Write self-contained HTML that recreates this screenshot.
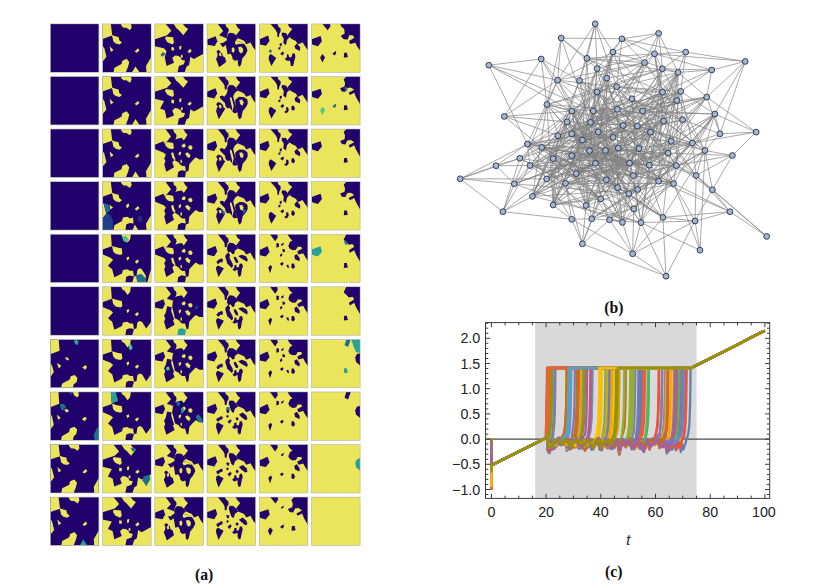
<!DOCTYPE html>
<html lang="en">
<head>
<meta charset="utf-8">
<title>Figure</title>
<style>
html,body{margin:0;padding:0;background:#fff;}
body{width:830px;height:588px;overflow:hidden;}
svg{display:block;}
</style>
</head>
<body>
<svg width="830" height="588" viewBox="0 0 830 588">
<rect width="830" height="588" fill="#fff"/>
<!-- panel a -->
<svg x="50.30" y="23.90" width="48.60" height="48.40" viewBox="0 0 100 100" preserveAspectRatio="none"><rect width="100" height="100" fill="#21016b"/></svg><rect x="50.30" y="23.90" width="48.60" height="48.40" fill="none" stroke="#a5a598" stroke-width="0.55"/>
<svg x="102.54" y="23.90" width="48.60" height="48.40" viewBox="0 0 100 100" preserveAspectRatio="none"><rect width="100" height="100" fill="#21016b"/><polygon fill="#eae55a" points="0,0 17,0 20,24 0,31"/><polygon fill="#eae55a" points="37.5,0 58.5,0 60,7 56.5,13 52,10 49,8 43,8 39.5,4.5"/><polygon fill="#eae55a" points="19,23 27,25.5 33,27 34.5,34 40,38.5 35,42.5 27,40.5 22,36 21,30"/><polygon fill="#eae55a" points="14.5,46 22.6,54 17,58"/><polygon fill="#eae55a" points="66,57 73,50.5 76,55 70.5,59.6"/><polygon fill="#eae55a" points="0,45 3.6,50.5 8,68 0,78"/><polygon fill="#eae55a" points="22.6,100 24.4,90.5 39,83 40.7,76 49.7,72 55,78.7 53,87 48,100"/><polygon fill="#eae55a" points="60.6,100 67.8,87.8 76,100"/><polygon fill="#eae55a" points="100,68.7 100,100 90.4,100 89.5,87"/></svg><rect x="102.54" y="23.90" width="48.60" height="48.40" fill="none" stroke="#a5a598" stroke-width="0.55"/>
<svg x="154.78" y="23.90" width="48.60" height="48.40" viewBox="0 0 100 100" preserveAspectRatio="none"><rect width="100" height="100" fill="#eae55a"/><polygon fill="#21016b" points="22.4,0 38.7,0 44.2,8.7 49.6,13.3 58.7,23.3 68.7,10.5 62.4,6 57.8,0 100,0 100,61.5 80.5,72.4 73.3,67.8 70.5,85.1 65.1,88.7 61.5,100 46.9,100 49.6,86.9 59.6,83.3 62.4,76 55.1,74.2 53.3,69.6 47.8,66 41.5,65.1 36,70.5 39.6,80.5 24.2,86.9 20.5,68.7 24.2,56 18.7,50.5 0,46 0,31.5 25.1,23.3 34.2,14.2"/><polygon fill="#eae55a" points="22.4,26 37.8,27.8 39.6,38.7 36,42.4 26,37.8 21.5,30.5"/><polygon fill="#eae55a" points="34.2,47.8 39.6,48.7 39.6,55.1 34.2,55.1"/><polygon fill="#eae55a" points="50.5,46 55.1,45.1 54.2,52.4 50.5,53.3"/><polygon fill="#eae55a" points="66.9,56.9 73.3,51.5 76,56 71.5,60.5"/><polygon fill="#eae55a" points="53.3,65.1 56.9,63.3 57.8,68.7 54.2,70.5"/><polygon fill="#1f6f8f" points="11.5,64.2 16.9,57.8 22.4,62.4 16,67.8"/></svg><rect x="154.78" y="23.90" width="48.60" height="48.40" fill="none" stroke="#a5a598" stroke-width="0.55"/>
<svg x="207.02" y="23.90" width="48.60" height="48.40" viewBox="0 0 100 100" preserveAspectRatio="none"><rect width="100" height="100" fill="#eae55a"/><polygon fill="#21016b" points="58.8,0 100,0 100,55.2 94.7,48.1 89.4,38.5 80.7,42 76.3,35 70.2,32.3 64,29.7 59.7,23.5 68.4,12.1 63.2,7.7"/><polygon fill="#21016b" points="22,0 37.8,0 39.5,6 43.9,9.5 44.8,14.8 42.2,20 40.4,27.1 44.8,28.8 43,31.4 36,27.9 31.7,26.2 24.7,23.5 33.4,14.8"/><polygon fill="#21016b" points="0.5,32.3 17.7,25.3 21.2,35.8 15.9,45.5 1,42.9"/><polygon fill="#21016b" points="46.5,18.3 54.4,19.2 59.7,23.5 64,29.7 58.8,34.1 68.4,36.7 76.3,41.1 81.5,49 83.3,55.2 78.9,64 72.8,71 70.2,83.3 67.5,88.5 64,85.9 63.2,74.5 57,76.2 52.7,72.7 51.8,67.5 48.3,61.3 42.2,63.1 40.4,51.7 38.7,43.7 32.5,48.1 28.2,42 26.4,40.2 32.5,39.4 40.4,34.1 41.3,28.8 42.2,21.8"/><polygon fill="#eae55a" points="64,48.1 70.2,47.3 74.5,51.7 73.7,58.7 69.3,61.3 65.8,56.9"/><polygon fill="#eae55a" points="50.9,49.9 55.3,48.1 57,53.4 55.3,59.6 50.9,57.8"/><polygon fill="#eae55a" points="58.8,34.6 68.4,36.7 76.8,41.6 67.5,40.8 59.7,43.2 57,39"/><polygon fill="#21016b" points="19.4,56.9 23.8,53.4 28.2,57.8 26.4,60.4 30.8,59.6 32.5,66.6 36.9,69.2 39.5,78.9 24.7,89.4 22,81.5 18.5,72.7 21.2,67.5 22,62.2"/><polygon fill="#eae55a" points="24.7,59.6 29,60.4 29.9,65.7 25.5,66.6"/></svg><rect x="207.02" y="23.90" width="48.60" height="48.40" fill="none" stroke="#a5a598" stroke-width="0.55"/>
<svg x="259.26" y="23.90" width="48.60" height="48.40" viewBox="0 0 100 100" preserveAspectRatio="none"><rect width="100" height="100" fill="#eae55a"/><polygon fill="#21016b" points="58.7,0 100,0 100,54.2 93.6,45.1 89,37.8 79.8,42.4 75.2,35.1 67.9,31.5 62.4,27.8 57.8,23.3 67.9,10.5 61.5,6"/><polygon fill="#21016b" points="22.9,0 37.6,0 39.4,6 44,9.6 44,15.1 41.3,20.5 40.4,26.9 37.6,26.9 36.7,17.8 33,11.5"/><polygon fill="#21016b" points="0.9,31.5 18.3,24.2 21.1,35.1 13.8,45.1 1.8,42.4"/><polygon fill="#21016b" points="46.8,17.8 55,18.7 57.8,23.3 62.4,27.8 56.9,33.3 55,44.2 49.5,39.6 50.5,30.5 45.9,22.4"/><polygon fill="#21016b" points="42.2,40.5 46.8,39.6 45.9,45.1 42.2,46.9"/><polygon fill="#21016b" points="39.4,48.7 44,47.8 43.1,52.4 39.4,53.3"/><polygon fill="#21016b" points="72.5,46 77.1,40.5 84.4,48.7 83.5,56 74.3,51.5"/><polygon fill="#21016b" points="43.1,61.5 48.6,56.9 51.4,60.5 47.7,65.1"/><polygon fill="#21016b" points="56.9,63.3 59.6,62.4 61.5,68.7 66.1,68.7 68.8,60.5 73.4,61.5 74.3,68.7 72.5,74.2 69.7,86.9 65.1,86.9 63.3,76 56.9,76 52.3,72.4 56.9,68.7"/><polygon fill="#21016b" points="20.2,66 23.9,62.4 34.9,70.5 24.8,86.9 19.3,72.4"/><polygon fill="#1f6f8f" points="19.3,56 22.9,52.4 26.6,56 22.9,60.5"/></svg><rect x="259.26" y="23.90" width="48.60" height="48.40" fill="none" stroke="#a5a598" stroke-width="0.55"/>
<svg x="311.50" y="23.90" width="48.60" height="48.40" viewBox="0 0 100 100" preserveAspectRatio="none"><rect width="100" height="100" fill="#eae55a"/><polygon fill="#21016b" points="59.1,0 100,0 100,55.1 93.9,46.9 90.3,38.7 79.3,41.5 77.4,35.1 88.4,28.7 84.8,23.3 77.4,23.3 74.7,32.4 66.4,31.5 60.9,26 61.8,23.3 68.3,19.6 67.3,10.5 61.8,6"/><polygon fill="#21016b" points="22.4,0 38,0 38.9,5.1 33.4,13.3"/><polygon fill="#21016b" points="0.4,31.5 18.7,25.1 21.5,36 13.2,46 1.3,42.4"/><polygon fill="#21016b" points="42.6,61.5 49.9,56 50.8,60.5 48.1,65.1"/><polygon fill="#21016b" points="67.3,59.6 72.8,59.6 74.7,68.7 66.4,69.6"/><polygon fill="#21016b" points="17.8,69.6 22.4,62.4 27.9,68.7 22.4,79.6"/></svg><rect x="311.50" y="23.90" width="48.60" height="48.40" fill="none" stroke="#a5a598" stroke-width="0.55"/>
<svg x="50.30" y="76.48" width="48.60" height="48.40" viewBox="0 0 100 100" preserveAspectRatio="none"><rect width="100" height="100" fill="#21016b"/></svg><rect x="50.30" y="76.48" width="48.60" height="48.40" fill="none" stroke="#a5a598" stroke-width="0.55"/>
<svg x="102.54" y="76.48" width="48.60" height="48.40" viewBox="0 0 100 100" preserveAspectRatio="none"><rect width="100" height="100" fill="#21016b"/><polygon fill="#eae55a" points="0,0 17,0 20,24 0,31"/><polygon fill="#eae55a" points="37.5,0 58.5,0 60,7 56.5,13 52,10 49,8 43,8 39.5,4.5"/><polygon fill="#eae55a" points="19,23 27,25.5 33,27 34.5,34 40,38.5 35,42.5 27,40.5 22,36 21,30"/><polygon fill="#eae55a" points="14.5,46 22.6,54 17,58"/><polygon fill="#eae55a" points="66,57 73,50.5 76,55 70.5,59.6"/><polygon fill="#eae55a" points="0,45 3.6,50.5 8,68 0,78"/><polygon fill="#eae55a" points="22.6,100 24.4,90.5 39,83 40.7,76 49.7,72 55,78.7 53,87 48,100"/><polygon fill="#eae55a" points="60.6,100 67.8,87.8 76,100"/><polygon fill="#eae55a" points="100,68.7 100,100 90.4,100 89.5,87"/></svg><rect x="102.54" y="76.48" width="48.60" height="48.40" fill="none" stroke="#a5a598" stroke-width="0.55"/>
<svg x="154.78" y="76.48" width="48.60" height="48.40" viewBox="0 0 100 100" preserveAspectRatio="none"><rect width="100" height="100" fill="#eae55a"/><polygon fill="#21016b" points="22.4,0 38.7,0 44.2,8.7 49.6,13.3 58.7,23.3 68.7,10.5 62.4,6 57.8,0 100,0 100,61.5 80.5,72.4 73.3,67.8 70.5,85.1 65.1,88.7 61.5,100 46.9,100 49.6,86.9 59.6,83.3 62.4,76 55.1,74.2 53.3,69.6 47.8,66 41.5,65.1 36,70.5 39.6,80.5 24.2,86.9 20.5,68.7 24.2,56 18.7,50.5 0,46 0,31.5 25.1,23.3 34.2,14.2"/><polygon fill="#21016b" points="20,49 27,56 23,71 11,66"/><polygon fill="#eae55a" points="22.4,26 37.8,27.8 39.6,38.7 36,42.4 26,37.8 21.5,30.5"/><polygon fill="#eae55a" points="34.2,47.8 39.6,48.7 39.6,55.1 34.2,55.1"/><polygon fill="#eae55a" points="50.5,46 55.1,45.1 54.2,52.4 50.5,53.3"/><polygon fill="#eae55a" points="66.9,56.9 73.3,51.5 76,56 71.5,60.5"/><polygon fill="#eae55a" points="53.3,65.1 56.9,63.3 57.8,68.7 54.2,70.5"/></svg><rect x="154.78" y="76.48" width="48.60" height="48.40" fill="none" stroke="#a5a598" stroke-width="0.55"/>
<svg x="207.02" y="76.48" width="48.60" height="48.40" viewBox="0 0 100 100" preserveAspectRatio="none"><rect width="100" height="100" fill="#eae55a"/><polygon fill="#21016b" points="58.8,0 100,0 100,55.2 94.7,48.1 89.4,38.5 80.7,42 76.3,35 70.2,32.3 64,29.7 59.7,23.5 68.4,12.1 63.2,7.7"/><polygon fill="#21016b" points="21.9,0 36.7,0 39.4,5.1 43.7,8.6 44.6,14.8 41.1,20 40.2,27.1 36.7,27.1 35.9,18.3 33.2,13.9"/><polygon fill="#21016b" points="0,31.4 17.5,24.4 21,35 14.9,45.5 0,42"/><polygon fill="#21016b" points="46.4,17.4 54.2,18.3 59.5,23.5 63.9,28.8 57.7,33.2 55.1,38.5 52.5,42.9 43.7,42.9 39.4,37.6 42,31.4 42,22.7"/><polygon fill="#21016b" points="26.4,40.7 31.3,39.3 35.5,42.1 39.7,36.5 46.7,37.9 47.4,47.7 50.9,61.8 52.3,71.6 46.7,64.6 42.5,66 38.3,61.8 36.9,54.8 32.7,50.5 27.1,44.9"/><polygon fill="#21016b" points="46.7,37.9 53.7,40.7 56.5,52 60,61.8 58.6,67.4 62.8,74.4 56.5,75.8 52.3,73 53.7,66 55.1,60.4 50.9,44.9"/><polygon fill="#21016b" points="58.6,47.7 66.3,42.1 76.1,42.8 83.1,47.7 83.8,56.2 80.3,63.2 73.3,71.6 70.5,85.7 66.3,88.5 63.5,81.5 62.8,74.4 58.6,67.4 60,61.8 57.9,53.4"/><polygon fill="#eae55a" points="66.3,49.1 71.9,47.7 75.4,53.4 73.3,60.4 68.4,57.6"/><polygon fill="#21016b" points="18.7,57.6 22.9,52.7 28.5,54.8 32.7,59 34.1,64.6 37.6,66 24.3,88.5 18.7,71.6 20.1,66 22.2,61.8"/><polygon fill="#eae55a" points="24.3,59 29.2,58.3 29.9,64.6 25.7,66"/></svg><rect x="207.02" y="76.48" width="48.60" height="48.40" fill="none" stroke="#a5a598" stroke-width="0.55"/>
<svg x="259.26" y="76.48" width="48.60" height="48.40" viewBox="0 0 100 100" preserveAspectRatio="none"><rect width="100" height="100" fill="#eae55a"/><polygon fill="#21016b" points="58.7,0 100,0 100,54.2 93.6,45.1 89,37.8 79.8,42.4 75.2,35.1 67.9,31.5 62.4,27.8 57.8,23.3 67.9,10.5 61.5,6"/><polygon fill="#21016b" points="22.9,0 37.6,0 39.4,6 44,9.6 44,15.1 41.3,20.5 40.4,26.9 37.6,26.9 36.7,17.8 33,11.5"/><polygon fill="#21016b" points="0.9,31.5 18.3,24.2 21.1,35.1 13.8,45.1 1.8,42.4"/><polygon fill="#21016b" points="46.8,17.8 55,18.7 57.8,23.3 62.4,27.8 56.9,33.3 55,44.2 49.5,39.6 50.5,30.5 45.9,22.4"/><polygon fill="#21016b" points="42.2,40.5 46.8,39.6 45.9,45.1 42.2,46.9"/><polygon fill="#21016b" points="39.4,48.7 44,47.8 43.1,52.4 39.4,53.3"/><polygon fill="#21016b" points="72.5,46 77.1,40.5 84.4,48.7 83.5,56 74.3,51.5"/><polygon fill="#21016b" points="43.1,61.5 48.6,56.9 51.4,60.5 47.7,65.1"/><polygon fill="#21016b" points="55.4,63.1 59.8,64 60.6,71 56.3,76.2 51,73.6 55.4,70.1"/><polygon fill="#21016b" points="66.7,60.4 71.1,60.4 73.7,66.6 70.2,71 65.9,68.3"/><polygon fill="#21016b" points="20.2,66 23.9,62.4 34.9,70.5 24.8,86.9 19.3,72.4"/></svg><rect x="259.26" y="76.48" width="48.60" height="48.40" fill="none" stroke="#a5a598" stroke-width="0.55"/>
<svg x="311.50" y="76.48" width="48.60" height="48.40" viewBox="0 0 100 100" preserveAspectRatio="none"><rect width="100" height="100" fill="#eae55a"/><polygon fill="#21016b" points="71.7,0 100,0 100,57.4 91.7,42.7 88,33.6 79,38.4 76.4,33.6 88,27.4 80.8,22.7 73.5,23.7 69.9,31.8 62.6,31 59,24.5 68,20.8 69.1,13.5 66.2,6.2"/><polygon fill="#21016b" points="0.4,31.5 18.7,25.1 21.5,36 13.2,46 1.3,42.4"/><polygon fill="#1f6f8f" points="42.6,61.5 49.9,56 50.8,60.5 48.1,65.1"/><polygon fill="#21016b" points="67.3,59.6 72.8,59.6 74.7,68.7 66.4,69.6"/><polygon fill="#4fc38a" points="17.8,69.6 22.4,62.4 27.9,68.7 22.4,79.6"/><polygon fill="#1f6f8f" points="68,22.5 73.5,22 74,29 69,30"/></svg><rect x="311.50" y="76.48" width="48.60" height="48.40" fill="none" stroke="#a5a598" stroke-width="0.55"/>
<svg x="50.30" y="129.06" width="48.60" height="48.40" viewBox="0 0 100 100" preserveAspectRatio="none"><rect width="100" height="100" fill="#21016b"/></svg><rect x="50.30" y="129.06" width="48.60" height="48.40" fill="none" stroke="#a5a598" stroke-width="0.55"/>
<svg x="102.54" y="129.06" width="48.60" height="48.40" viewBox="0 0 100 100" preserveAspectRatio="none"><rect width="100" height="100" fill="#21016b"/><polygon fill="#eae55a" points="0,0 17,0 20,24 0,31"/><polygon fill="#eae55a" points="37.5,0 58.5,0 60,7 56.5,13 52,10 49,8 43,8 39.5,4.5"/><polygon fill="#eae55a" points="19,23 27,25.5 33,27 34.5,34 40,38.5 35,42.5 27,40.5 22,36 21,30"/><polygon fill="#eae55a" points="14.5,46 22.6,54 17,58"/><polygon fill="#eae55a" points="66,57 73,50.5 76,55 70.5,59.6"/><polygon fill="#eae55a" points="0,45 3.6,50.5 8,68 0,78"/><polygon fill="#eae55a" points="22.6,100 24.4,90.5 39,83 40.7,76 49.7,72 55,78.7 53,87 48,100"/><polygon fill="#eae55a" points="60.6,100 67.8,87.8 76,100"/><polygon fill="#eae55a" points="100,68.7 100,100 90.4,100 89.5,87"/></svg><rect x="102.54" y="129.06" width="48.60" height="48.40" fill="none" stroke="#a5a598" stroke-width="0.55"/>
<svg x="154.78" y="129.06" width="48.60" height="48.40" viewBox="0 0 100 100" preserveAspectRatio="none"><rect width="100" height="100" fill="#eae55a"/><polygon fill="#21016b" points="22,0 37.8,0 39.5,6.7 43.9,10.2 44.8,15.5 42.2,21.6 46.5,19.9 55.3,18.1 59.7,23.4 67.5,11.9 63.2,7.6 58.8,0 100,0 100,62 92,62.9 84.2,58.5 77.2,65.5 71,72.6 69.3,86.6 64,88.4 62.3,100 46.5,100 48.3,88.4 55.3,84.9 64,86.6 62.3,76.1 56.2,76.1 51.8,72.6 49.2,69 40.4,63.8 36,69 39.5,78.7 23.8,88.4 19.4,72.6 22,66.4 19.4,60.3 22.9,53.2 18.5,48.8 1,41.8 0,32.2 17.7,25.1 20.3,30.4 24.7,26 33.4,15.5"/><polygon fill="#eae55a" points="21.2,28.6 26.4,26.9 37.8,29 39.5,39.2 36,41.8 27.3,39.5 22,33.9"/><polygon fill="#eae55a" points="33.4,49.7 37.8,48 40.4,56.7 43,62.9 40.4,63.8 36,59.4"/><polygon fill="#eae55a" points="49.2,48.8 53.5,46.2 54.4,49.7 51.8,55 49.2,53.2"/><polygon fill="#eae55a" points="55.3,33.9 60.5,29.5 64,33.9 61.4,38.3 56.2,37.4"/><polygon fill="#eae55a" points="68.4,35.7 74.5,33 78,38.3 75.4,42.7 70.2,41.8"/><polygon fill="#eae55a" points="62.3,50.6 67.5,48 73.7,54.1 71,60.3 65.8,56.7"/><polygon fill="#eae55a" points="52.7,64.7 55.3,62.9 56.2,69 53.5,70.8"/></svg><rect x="154.78" y="129.06" width="48.60" height="48.40" fill="none" stroke="#a5a598" stroke-width="0.55"/>
<svg x="207.02" y="129.06" width="48.60" height="48.40" viewBox="0 0 100 100" preserveAspectRatio="none"><rect width="100" height="100" fill="#eae55a"/><polygon fill="#21016b" points="58.8,0 100,0 100,55.2 94.7,48.1 89.4,38.5 80.7,42 76.3,35 70.2,32.3 64,29.7 59.7,23.5 68.4,12.1 63.2,7.7"/><polygon fill="#21016b" points="21.9,0 36.7,0 39.4,5.1 43.7,8.6 44.6,14.8 41.1,20 40.2,27.1 36.7,27.1 35.9,18.3 33.2,13.9"/><polygon fill="#21016b" points="0,31.4 17.5,24.4 21,35 14.9,45.5 0,42"/><polygon fill="#21016b" points="46.4,17.4 54.2,18.3 59.5,23.5 63.9,28.8 57.7,33.2 55.1,38.5 52.5,42.9 43.7,42.9 39.4,37.6 42,31.4 42,22.7"/><polygon fill="#21016b" points="26.4,40.7 31.3,39.3 35.5,42.1 39.7,36.5 46.7,37.9 47.4,47.7 50.9,61.8 52.3,71.6 46.7,64.6 42.5,66 38.3,61.8 36.9,54.8 32.7,50.5 27.1,44.9"/><polygon fill="#21016b" points="46.7,37.9 53.7,40.7 56.5,52 60,61.8 58.6,67.4 62.8,74.4 56.5,75.8 52.3,73 53.7,66 55.1,60.4 50.9,44.9"/><polygon fill="#21016b" points="58.6,47.7 66.3,42.1 76.1,42.8 83.1,47.7 83.8,56.2 80.3,63.2 73.3,71.6 70.5,85.7 66.3,88.5 63.5,81.5 62.8,74.4 58.6,67.4 60,61.8 57.9,53.4"/><polygon fill="#eae55a" points="66.3,49.1 71.9,47.7 75.4,53.4 73.3,60.4 68.4,57.6"/><polygon fill="#21016b" points="18.7,57.6 22.9,52.7 28.5,54.8 32.7,59 34.1,64.6 37.6,66 24.3,88.5 18.7,71.6 20.1,66 22.2,61.8"/><polygon fill="#eae55a" points="24.3,59 29.2,58.3 29.9,64.6 25.7,66"/></svg><rect x="207.02" y="129.06" width="48.60" height="48.40" fill="none" stroke="#a5a598" stroke-width="0.55"/>
<svg x="259.26" y="129.06" width="48.60" height="48.40" viewBox="0 0 100 100" preserveAspectRatio="none"><rect width="100" height="100" fill="#eae55a"/><polygon fill="#21016b" points="58.7,0 100,0 100,54.2 93.6,45.1 89,37.8 79.8,42.4 75.2,35.1 67.9,31.5 62.4,27.8 57.8,23.3 67.9,10.5 61.5,6"/><polygon fill="#21016b" points="22.9,0 37.6,0 39.4,6 44,9.6 44,15.1 41.3,20.5 40.4,26.9 37.6,26.9 36.7,17.8 33,11.5"/><polygon fill="#21016b" points="0.9,31.5 18.3,24.2 21.1,35.1 13.8,45.1 1.8,42.4"/><polygon fill="#21016b" points="46.8,17.8 55,18.7 57.8,23.3 62.4,27.8 56.9,33.3 55,44.2 49.5,39.6 50.5,30.5 45.9,22.4"/><polygon fill="#21016b" points="42.2,40.5 46.8,39.6 45.9,45.1 42.2,46.9"/><polygon fill="#21016b" points="39.4,48.7 44,47.8 43.1,52.4 39.4,53.3"/><polygon fill="#21016b" points="72.5,46 77.1,40.5 84.4,48.7 83.5,56 74.3,51.5"/><polygon fill="#21016b" points="43.1,61.5 48.6,56.9 51.4,60.5 47.7,65.1"/><polygon fill="#21016b" points="55.4,63.1 59.8,64 60.6,71 56.3,76.2 51,73.6 55.4,70.1"/><polygon fill="#21016b" points="66.7,60.4 71.1,60.4 73.7,66.6 70.2,71 65.9,68.3"/><polygon fill="#21016b" points="20.2,66 23.9,62.4 34.9,70.5 24.8,86.9 19.3,72.4"/></svg><rect x="259.26" y="129.06" width="48.60" height="48.40" fill="none" stroke="#a5a598" stroke-width="0.55"/>
<svg x="311.50" y="129.06" width="48.60" height="48.40" viewBox="0 0 100 100" preserveAspectRatio="none"><rect width="100" height="100" fill="#eae55a"/><polygon fill="#21016b" points="71.7,0 100,0 100,57.4 91.7,42.7 88,33.6 79,38.4 76.4,33.6 88,27.4 80.8,22.7 73.5,23.7 69.9,31.8 62.6,31 59,24.5 68,20.8 69.1,13.5 66.2,6.2"/><polygon fill="#21016b" points="0.4,31.5 18.7,25.1 21.5,36 13.2,46 1.3,42.4"/><polygon fill="#21016b" points="67.3,59.6 72.8,59.6 74.7,68.7 66.4,69.6"/></svg><rect x="311.50" y="129.06" width="48.60" height="48.40" fill="none" stroke="#a5a598" stroke-width="0.55"/>
<svg x="50.30" y="181.64" width="48.60" height="48.40" viewBox="0 0 100 100" preserveAspectRatio="none"><rect width="100" height="100" fill="#21016b"/></svg><rect x="50.30" y="181.64" width="48.60" height="48.40" fill="none" stroke="#a5a598" stroke-width="0.55"/>
<svg x="102.54" y="181.64" width="48.60" height="48.40" viewBox="0 0 100 100" preserveAspectRatio="none"><rect width="100" height="100" fill="#21016b"/><polygon fill="#eae55a" points="0,0 17,0 20,24 0,31"/><polygon fill="#eae55a" points="37.5,0 58.5,0 60,7 56.5,13 52,10 49,8 43,8 39.5,4.5"/><polygon fill="#eae55a" points="19,23 27,25.5 33,27 34.5,34 40,38.5 35,42.5 27,40.5 22,36 21,30"/><polygon fill="#eae55a" points="66,57 73,50.5 76,55 70.5,59.6"/><polygon fill="#eae55a" points="48.8,48 54.1,45.3 54.9,49.7 51.4,55 48.8,52.4"/><polygon fill="#eae55a" points="22.6,100 24.3,90.1 40.1,81.3 41.8,74.3 50.6,72.6 56.7,76.1 62.8,74.3 63.7,86.6 55.8,85.7 48.8,88.4 47.1,100"/><polygon fill="#eae55a" points="61.9,100 66.3,88.4 73.3,100"/><polygon fill="#eae55a" points="100,68.7 100,100 90.4,100 89.5,87"/><polygon fill="#eae55a" points="0,46.2 2.4,45.3 5.1,56.7 7.7,66.4 0,76.1"/><polygon fill="#eae55a" points="13.8,47.1 21.7,53.2 16.4,57.6"/><polygon fill="#1f6f8f" points="2.4,45.3 11.2,46.2 16.4,58.5 8.6,65.5 5.1,56.7"/><polygon fill="#1f3f8a" points="0,76.1 8.6,65.5 16.4,69 21.7,81.3 21.7,100 0,100"/><polygon fill="#23287a" points="71.6,71.7 81.2,70.8 82.9,81.3 72.4,84.9"/></svg><rect x="102.54" y="181.64" width="48.60" height="48.40" fill="none" stroke="#a5a598" stroke-width="0.55"/>
<svg x="154.78" y="181.64" width="48.60" height="48.40" viewBox="0 0 100 100" preserveAspectRatio="none"><rect width="100" height="100" fill="#eae55a"/><polygon fill="#21016b" points="22,0 37.8,0 39.5,6.7 43.9,10.2 44.8,15.5 42.2,21.6 46.5,19.9 55.3,18.1 59.7,23.4 67.5,11.9 63.2,7.6 58.8,0 100,0 100,62 92,62.9 84.2,58.5 77.2,65.5 71,72.6 69.3,86.6 64,88.4 62.3,100 46.5,100 48.3,88.4 55.3,84.9 64,86.6 62.3,76.1 56.2,76.1 51.8,72.6 49.2,69 40.4,63.8 36,69 39.5,78.7 23.8,88.4 19.4,72.6 22,66.4 19.4,60.3 22.9,53.2 18.5,48.8 1,41.8 0,32.2 17.7,25.1 20.3,30.4 24.7,26 33.4,15.5"/><polygon fill="#eae55a" points="21.2,28.6 26.4,26.9 37.8,29 39.5,39.2 36,41.8 27.3,39.5 22,33.9"/><polygon fill="#eae55a" points="33.4,49.7 37.8,48 40.4,56.7 43,62.9 40.4,63.8 36,59.4"/><polygon fill="#eae55a" points="49.2,48.8 53.5,46.2 54.4,49.7 51.8,55 49.2,53.2"/><polygon fill="#eae55a" points="55.3,33.9 60.5,29.5 64,33.9 61.4,38.3 56.2,37.4"/><polygon fill="#eae55a" points="68.4,35.7 74.5,33 78,38.3 75.4,42.7 70.2,41.8"/><polygon fill="#eae55a" points="62.3,50.6 67.5,48 73.7,54.1 71,60.3 65.8,56.7"/><polygon fill="#eae55a" points="52.7,64.7 55.3,62.9 56.2,69 53.5,70.8"/></svg><rect x="154.78" y="181.64" width="48.60" height="48.40" fill="none" stroke="#a5a598" stroke-width="0.55"/>
<svg x="207.02" y="181.64" width="48.60" height="48.40" viewBox="0 0 100 100" preserveAspectRatio="none"><rect width="100" height="100" fill="#eae55a"/><polygon fill="#21016b" points="58.8,0 100,0 100,55.2 94.7,48.1 89.4,38.5 80.7,42 76.3,35 70.2,32.3 64,29.7 59.7,23.5 68.4,12.1 63.2,7.7"/><polygon fill="#21016b" points="21.9,0 36.7,0 39.4,5.1 43.7,8.6 44.6,14.8 41.1,20 40.2,27.1 36.7,27.1 35.9,18.3 33.2,13.9"/><polygon fill="#21016b" points="0,31.4 17.5,24.4 21,35 14.9,45.5 0,42"/><polygon fill="#21016b" points="46.4,17.4 54.2,18.3 59.5,23.5 63.9,28.8 57.7,33.2 55.1,38.5 52.5,42.9 43.7,42.9 39.4,37.6 42,31.4 42,22.7"/><polygon fill="#21016b" points="26.4,40.7 31.3,39.3 35.5,42.1 39.7,36.5 46.7,37.9 47.4,47.7 50.9,61.8 52.3,71.6 46.7,64.6 42.5,66 38.3,61.8 36.9,54.8 32.7,50.5 27.1,44.9"/><polygon fill="#21016b" points="46.7,37.9 53.7,40.7 56.5,52 60,61.8 58.6,67.4 62.8,74.4 56.5,75.8 52.3,73 53.7,66 55.1,60.4 50.9,44.9"/><polygon fill="#21016b" points="58.6,47.7 66.3,42.1 76.1,42.8 83.1,47.7 83.8,56.2 80.3,63.2 73.3,71.6 70.5,85.7 66.3,88.5 63.5,81.5 62.8,74.4 58.6,67.4 60,61.8 57.9,53.4"/><polygon fill="#eae55a" points="66.3,49.1 71.9,47.7 75.4,53.4 73.3,60.4 68.4,57.6"/><polygon fill="#21016b" points="18.7,57.6 22.9,52.7 28.5,54.8 32.7,59 34.1,64.6 37.6,66 24.3,88.5 18.7,71.6 20.1,66 22.2,61.8"/><polygon fill="#eae55a" points="24.3,59 29.2,58.3 29.9,64.6 25.7,66"/><polygon fill="#1f6f8f" points="30.6,59.4 35,60.3 37.6,65.5 33.2,68.2"/><polygon fill="#1f6f8f" points="75.2,56.7 80.5,58.5 75.2,67.3 73.5,62"/></svg><rect x="207.02" y="181.64" width="48.60" height="48.40" fill="none" stroke="#a5a598" stroke-width="0.55"/>
<svg x="259.26" y="181.64" width="48.60" height="48.40" viewBox="0 0 100 100" preserveAspectRatio="none"><rect width="100" height="100" fill="#eae55a"/><polygon fill="#21016b" points="58.7,0 100,0 100,54.2 93.6,45.1 89,37.8 79.8,42.4 75.2,35.1 67.9,31.5 62.4,27.8 57.8,23.3 67.9,10.5 61.5,6"/><polygon fill="#21016b" points="22.9,0 37.6,0 39.4,6 44,9.6 44,15.1 41.3,20.5 40.4,26.9 37.6,26.9 36.7,17.8 33,11.5"/><polygon fill="#21016b" points="0.9,31.5 18.3,24.2 21.1,35.1 13.8,45.1 1.8,42.4"/><polygon fill="#21016b" points="46.8,17.8 55,18.7 57.8,23.3 62.4,27.8 56.9,33.3 55,44.2 49.5,39.6 50.5,30.5 45.9,22.4"/><polygon fill="#21016b" points="42.2,40.5 46.8,39.6 45.9,45.1 42.2,46.9"/><polygon fill="#21016b" points="39.4,48.7 44,47.8 43.1,52.4 39.4,53.3"/><polygon fill="#21016b" points="72.5,46 77.1,40.5 84.4,48.7 83.5,56 74.3,51.5"/><polygon fill="#21016b" points="43.1,61.5 48.6,56.9 51.4,60.5 47.7,65.1"/><polygon fill="#21016b" points="55.4,63.1 59.8,64 60.6,71 56.3,76.2 51,73.6 55.4,70.1"/><polygon fill="#21016b" points="66.7,60.4 71.1,60.4 73.7,66.6 70.2,71 65.9,68.3"/><polygon fill="#21016b" points="20.2,66 23.9,62.4 34.9,70.5 24.8,86.9 19.3,72.4"/></svg><rect x="259.26" y="181.64" width="48.60" height="48.40" fill="none" stroke="#a5a598" stroke-width="0.55"/>
<svg x="311.50" y="181.64" width="48.60" height="48.40" viewBox="0 0 100 100" preserveAspectRatio="none"><rect width="100" height="100" fill="#eae55a"/><polygon fill="#21016b" points="71.7,0 100,0 100,57.4 91.7,42.7 88,33.6 79,38.4 76.4,33.6 88,27.4 80.8,22.7 73.5,23.7 69.9,31.8 62.6,31 59,24.5 68,20.8 69.1,13.5 66.2,6.2"/><polygon fill="#21016b" points="0.4,31.5 18.7,25.1 21.5,36 13.2,46 1.3,42.4"/><polygon fill="#21016b" points="67.3,59.6 72.8,59.6 74.7,68.7 66.4,69.6"/></svg><rect x="311.50" y="181.64" width="48.60" height="48.40" fill="none" stroke="#a5a598" stroke-width="0.55"/>
<svg x="50.30" y="234.22" width="48.60" height="48.40" viewBox="0 0 100 100" preserveAspectRatio="none"><rect width="100" height="100" fill="#21016b"/></svg><rect x="50.30" y="234.22" width="48.60" height="48.40" fill="none" stroke="#a5a598" stroke-width="0.55"/>
<svg x="102.54" y="234.22" width="48.60" height="48.40" viewBox="0 0 100 100" preserveAspectRatio="none"><rect width="100" height="100" fill="#eae55a"/><polygon fill="#21016b" points="17.3,0 38.3,0 40.9,5.4 45.3,8.1 51.4,16.9 56.7,10.7 58.4,0 100,0 100,72.2 89.9,86.3 81.2,72.2 75.9,70.5 71.6,74 69.8,86.3 64.6,87.1 62.8,75.7 56.7,75.7 50.6,72.2 41.8,74 40.1,81 24.3,88.9 19.9,72.2 11.2,65.2 21.7,52.9 16.4,48.5 0,41.5 0,31.8 19.1,24.8"/><polygon fill="#21016b" points="81,72 100,72 96,85 92,100 88,100 89.5,86"/><polygon fill="#eae55a" points="19.6,24.4 32.2,27.9 39.5,29.2 40.9,40.2 36.6,42.7 26.6,40.6 21.7,35"/><polygon fill="#eae55a" points="48.8,48.5 54.1,45.9 54.9,50.2 51.4,54.6"/><polygon fill="#eae55a" points="66.3,57.3 71.6,52 75.1,55.5 70.7,60.8"/><polygon fill="#21016b" points="48.8,88 55.8,85.4 64.6,87.1 61.1,100 47.1,100"/><polygon fill="#4fc38a" points="40,5 48,3 54,10 50,17 43,14"/><polygon fill="#1f6f8f" points="68,84 80,82 90,92 86,100 72,100"/></svg><rect x="102.54" y="234.22" width="48.60" height="48.40" fill="none" stroke="#a5a598" stroke-width="0.55"/>
<svg x="154.78" y="234.22" width="48.60" height="48.40" viewBox="0 0 100 100" preserveAspectRatio="none"><rect width="100" height="100" fill="#eae55a"/><polygon fill="#21016b" points="22,0 37.8,0 39.5,6.7 43.9,10.2 44.8,15.5 42.2,21.6 46.5,19.9 55.3,18.1 59.7,23.4 67.5,11.9 63.2,7.6 58.8,0 100,0 100,62 92,62.9 84.2,58.5 77.2,65.5 71,72.6 69.3,86.6 64,88.4 62.3,100 46.5,100 48.3,88.4 55.3,84.9 64,86.6 62.3,76.1 56.2,76.1 51.8,72.6 49.2,69 40.4,63.8 36,69 39.5,78.7 23.8,88.4 19.4,72.6 22,66.4 19.4,60.3 22.9,53.2 18.5,48.8 1,41.8 0,32.2 17.7,25.1 20.3,30.4 24.7,26 33.4,15.5"/><polygon fill="#eae55a" points="21.2,28.6 26.4,26.9 37.8,29 39.5,39.2 36,41.8 27.3,39.5 22,33.9"/><polygon fill="#eae55a" points="33.4,49.7 37.8,48 40.4,56.7 43,62.9 40.4,63.8 36,59.4"/><polygon fill="#eae55a" points="49.2,48.8 53.5,46.2 54.4,49.7 51.8,55 49.2,53.2"/><polygon fill="#eae55a" points="55.3,33.9 60.5,29.5 64,33.9 61.4,38.3 56.2,37.4"/><polygon fill="#eae55a" points="68.4,35.7 74.5,33 78,38.3 75.4,42.7 70.2,41.8"/><polygon fill="#eae55a" points="62.3,50.6 67.5,48 73.7,54.1 71,60.3 65.8,56.7"/><polygon fill="#eae55a" points="52.7,64.7 55.3,62.9 56.2,69 53.5,70.8"/></svg><rect x="154.78" y="234.22" width="48.60" height="48.40" fill="none" stroke="#a5a598" stroke-width="0.55"/>
<svg x="207.02" y="234.22" width="48.60" height="48.40" viewBox="0 0 100 100" preserveAspectRatio="none"><rect width="100" height="100" fill="#eae55a"/><polygon fill="#21016b" points="58.8,0 100,0 100,55.2 94.7,48.1 89.4,38.5 80.7,42 76.3,35 70.2,32.3 64,29.7 59.7,23.5 68.4,12.1 63.2,7.7"/><polygon fill="#21016b" points="21.9,0 36.7,0 39.4,5.1 43.7,8.6 44.6,14.8 41.1,20 40.2,27.1 36.7,27.1 35.9,18.3 33.2,13.9"/><polygon fill="#21016b" points="0,31.4 17.5,24.4 21,35 14.9,45.5 0,42"/><polygon fill="#21016b" points="46.4,17.7 54.2,18.6 59.5,23 63.9,29.2 57.7,33.6 56,40.6 52.5,41.5 48.1,36.2 43.7,37.9 41.1,31.8 42,23"/><polygon fill="#21016b" points="38.3,42.9 43.9,37.3 47.4,42.9 46,48.5 52.3,59.8 53.7,65.4 50.9,69.6 45.3,64 41.8,61.2 39,51.3 37.6,47.1"/><polygon fill="#21016b" points="55.1,46.4 59.3,47.1 64.2,55.6 62.8,59.8 59.3,58.4 55.8,51.3"/><polygon fill="#21016b" points="64.2,45 71.9,42.2 80.3,45.7 83.8,52 82.4,57 76.1,53.4 69.1,49.2"/><polygon fill="#21016b" points="67,61.2 71.9,60.5 74,66.8 71.9,71 69.8,85.1 65.6,88.6 63.5,82.3 62.8,73.1 56.5,76.6 52.3,73.1 55.8,69.6 56.5,64 60,63.3 61.4,68.9 65.6,67.5"/><polygon fill="#21016b" points="19.4,57 23.6,52.7 29.9,49.9 32.7,52 32,57.7 27.1,57.7 24.3,61.2 20.8,60.5"/><polygon fill="#21016b" points="18.7,68.2 22.2,64.7 34.8,70.3 23.6,88.6 18.7,72.4"/></svg><rect x="207.02" y="234.22" width="48.60" height="48.40" fill="none" stroke="#a5a598" stroke-width="0.55"/>
<svg x="259.26" y="234.22" width="48.60" height="48.40" viewBox="0 0 100 100" preserveAspectRatio="none"><rect width="100" height="100" fill="#eae55a"/><polygon fill="#21016b" points="58,0 100,0 100,55 94.7,47.1 90.4,39.2 80.7,41.8 78.1,35.7 88.6,29.5 86,26 79,26 75.5,32.2 68.5,33 62.4,29.5 59.8,24.2 63.3,15.5 68.5,12.8 63.3,8.4"/><polygon fill="#21016b" points="22.1,0 37,0 37.9,6.7 32.6,14.6"/><polygon fill="#21016b" points="0.1,33 16.9,25.1 21.3,36.5 13.4,46.2 1.1,43.6"/><polygon fill="#21016b" points="35.3,18.1 40.5,19 40.5,26 35.3,27.8"/><polygon fill="#21016b" points="44.9,20.7 51,17.2 49.3,22.5 45.8,24.2"/><polygon fill="#21016b" points="47.5,30.4 51.9,31.3 53.6,35.7 48.4,37.4"/><polygon fill="#21016b" points="42.3,42.7 46.6,39.2 47.5,43.6 44,47.1"/><polygon fill="#21016b" points="72,44.4 77.2,40.9 83.4,49.7 82.5,55.9 73.7,51.5"/><polygon fill="#21016b" points="42.3,61.1 48.4,57.6 50.1,61.1 46.6,65.5"/><polygon fill="#21016b" points="55.4,63.8 59.8,62.9 61.5,69.9 58,69"/><polygon fill="#21016b" points="66.7,60.3 71.1,60.3 73.7,67.3 70.2,71.7 65.9,69"/><polygon fill="#21016b" points="18.6,69 23,63.8 26.5,67.3 22.1,80.5"/></svg><rect x="259.26" y="234.22" width="48.60" height="48.40" fill="none" stroke="#a5a598" stroke-width="0.55"/>
<svg x="311.50" y="234.22" width="48.60" height="48.40" viewBox="0 0 100 100" preserveAspectRatio="none"><rect width="100" height="100" fill="#eae55a"/><polygon fill="#21016b" points="71.7,0 100,0 100,56.8 91.7,42.2 88,33 79,38.5 77,33 88,25.8 84.4,20.3 77,22 69.9,14.8 66.2,11.1"/><polygon fill="#2aa198" points="0.4,31.5 18.7,25.1 21.5,36 13.2,46 1.3,42.4"/><polygon fill="#21016b" points="67.3,59.6 72.8,59.6 74.7,68.7 66.4,69.6"/><polygon fill="#1f6f8f" points="67,13 73.5,14 73.5,21.5 69,21"/></svg><rect x="311.50" y="234.22" width="48.60" height="48.40" fill="none" stroke="#a5a598" stroke-width="0.55"/>
<svg x="50.30" y="286.80" width="48.60" height="48.40" viewBox="0 0 100 100" preserveAspectRatio="none"><rect width="100" height="100" fill="#21016b"/></svg><rect x="50.30" y="286.80" width="48.60" height="48.40" fill="none" stroke="#a5a598" stroke-width="0.55"/>
<svg x="102.54" y="286.80" width="48.60" height="48.40" viewBox="0 0 100 100" preserveAspectRatio="none"><rect width="100" height="100" fill="#eae55a"/><polygon fill="#21016b" points="17.3,0 38.3,0 40.9,5.4 45.3,8.1 51.4,16.9 56.7,10.7 58.4,0 100,0 100,72.2 89.9,86.3 81.2,72.2 75.9,70.5 71.6,74 69.8,86.3 64.6,87.1 62.8,75.7 56.7,75.7 50.6,72.2 41.8,74 40.1,81 24.3,88.9 19.9,72.2 11.2,65.2 21.7,52.9 16.4,48.5 0,41.5 0,31.8 19.1,24.8"/><polygon fill="#eae55a" points="19.6,24.4 32.2,27.9 39.5,29.2 40.9,40.2 36.6,42.7 26.6,40.6 21.7,35"/><polygon fill="#eae55a" points="48.8,48.5 54.1,45.9 54.9,50.2 51.4,54.6"/><polygon fill="#eae55a" points="66.3,57.3 71.6,52 75.1,55.5 70.7,60.8"/><polygon fill="#21016b" points="48.8,88 55.8,85.4 64.6,87.1 61.1,100 47.1,100"/></svg><rect x="102.54" y="286.80" width="48.60" height="48.40" fill="none" stroke="#a5a598" stroke-width="0.55"/>
<svg x="154.78" y="286.80" width="48.60" height="48.40" viewBox="0 0 100 100" preserveAspectRatio="none"><rect width="100" height="100" fill="#eae55a"/><polygon fill="#21016b" points="0,32.7 17.7,25.7 21.2,35.3 15.9,45.9 1,43.2"/><polygon fill="#21016b" points="22,0 37.8,0 39.5,6.3 43.9,9.8 44.8,15.1 42.2,21.3 40.4,27.4 36,28.3 31.7,26.5 24.7,24.8 33.4,15.1"/><polygon fill="#21016b" points="42.2,21.3 46.5,19.5 55.3,17.7 59.7,23 67.5,11.6 63.2,7.2 58.8,0 100,0 100,62.5 92,62.5 84.2,58.2 77.2,65.2 71,72.2 69.3,86.3 65.8,88 62.3,75.7 56.2,75.7 51.8,72.2 49.2,68.7 41.3,64.8 38.3,51.1 35.7,42.3 37.3,30 39,26.2"/><polygon fill="#21016b" points="25.5,40.2 34.6,42.3 33.8,49.4 36.9,59 39.9,67.8 37.3,68.7 40.8,78.4 23.8,88.4 19.1,72.2 21.7,66.1 19.1,59.9 22.6,52.9 24.3,45.9"/><polygon fill="#eae55a" points="49.2,48.8 53.5,46.2 54.4,49.7 51.8,55 49.2,53.2"/><polygon fill="#eae55a" points="55.3,33.9 60.5,29.5 64,33.9 61.4,38.3 56.2,37.4"/><polygon fill="#eae55a" points="68.4,35.7 74.5,33 78,38.3 75.4,42.7 70.2,41.8"/><polygon fill="#eae55a" points="62.3,50.6 67.5,48 73.7,54.1 71,60.3 65.8,56.7"/><polygon fill="#eae55a" points="52.7,64.7 55.3,62.9 56.2,69 53.5,70.8"/><polygon fill="#2aa198" points="48.3,87.1 56.2,85.4 64,88.9 62.3,100 46.5,100"/><polygon fill="#1f3f8a" points="82.4,40.6 89.4,39.7 88.5,45.9 83.3,46.7"/></svg><rect x="154.78" y="286.80" width="48.60" height="48.40" fill="none" stroke="#a5a598" stroke-width="0.55"/>
<svg x="207.02" y="286.80" width="48.60" height="48.40" viewBox="0 0 100 100" preserveAspectRatio="none"><rect width="100" height="100" fill="#eae55a"/><polygon fill="#21016b" points="58.8,0 100,0 100,55.2 94.7,48.1 89.4,38.5 80.7,42 76.3,35 70.2,32.3 64,29.7 59.7,23.5 68.4,12.1 63.2,7.7"/><polygon fill="#21016b" points="21.9,0 36.7,0 39.4,5.1 43.7,8.6 44.6,14.8 41.1,20 40.2,27.1 36.7,27.1 35.9,18.3 33.2,13.9"/><polygon fill="#21016b" points="0,31.4 17.5,24.4 21,35 14.9,45.5 0,42"/><polygon fill="#21016b" points="46.4,17.7 54.2,18.6 59.5,23 63.9,29.2 57.7,33.6 56,40.6 52.5,41.5 48.1,36.2 43.7,37.9 41.1,31.8 42,23"/><polygon fill="#21016b" points="38.3,42.9 43.9,37.3 47.4,42.9 46,48.5 52.3,59.8 53.7,65.4 50.9,69.6 45.3,64 41.8,61.2 39,51.3 37.6,47.1"/><polygon fill="#21016b" points="55.1,46.4 59.3,47.1 64.2,55.6 62.8,59.8 59.3,58.4 55.8,51.3"/><polygon fill="#21016b" points="64.2,45 71.9,42.2 80.3,45.7 83.8,52 82.4,57 76.1,53.4 69.1,49.2"/><polygon fill="#21016b" points="67,61.2 71.9,60.5 74,66.8 71.9,71 69.8,85.1 65.6,88.6 63.5,82.3 62.8,73.1 56.5,76.6 52.3,73.1 55.8,69.6 56.5,64 60,63.3 61.4,68.9 65.6,67.5"/><polygon fill="#21016b" points="19.4,57 23.6,52.7 29.9,49.9 32.7,52 32,57.7 27.1,57.7 24.3,61.2 20.8,60.5"/><polygon fill="#21016b" points="18.7,68.2 22.2,64.7 34.8,70.3 23.6,88.6 18.7,72.4"/></svg><rect x="207.02" y="286.80" width="48.60" height="48.40" fill="none" stroke="#a5a598" stroke-width="0.55"/>
<svg x="259.26" y="286.80" width="48.60" height="48.40" viewBox="0 0 100 100" preserveAspectRatio="none"><rect width="100" height="100" fill="#eae55a"/><polygon fill="#21016b" points="58,0 100,0 100,55 94.7,47.1 90.4,39.2 80.7,41.8 78.1,35.7 88.6,29.5 86,26 79,26 75.5,32.2 68.5,33 62.4,29.5 59.8,24.2 63.3,15.5 68.5,12.8 63.3,8.4"/><polygon fill="#21016b" points="22.1,0 37,0 37.9,6.7 32.6,14.6"/><polygon fill="#21016b" points="0.1,33 16.9,25.1 21.3,36.5 13.4,46.2 1.1,43.6"/><polygon fill="#21016b" points="35.3,18.1 40.5,19 40.5,26 35.3,27.8"/><polygon fill="#21016b" points="44.9,20.7 51,17.2 49.3,22.5 45.8,24.2"/><polygon fill="#21016b" points="47.5,30.4 51.9,31.3 53.6,35.7 48.4,37.4"/><polygon fill="#21016b" points="42.3,42.7 46.6,39.2 47.5,43.6 44,47.1"/><polygon fill="#21016b" points="72,44.4 77.2,40.9 83.4,49.7 82.5,55.9 73.7,51.5"/><polygon fill="#21016b" points="42.3,61.1 48.4,57.6 50.1,61.1 46.6,65.5"/><polygon fill="#21016b" points="55.4,63.8 59.8,62.9 61.5,69.9 58,69"/><polygon fill="#21016b" points="66.7,60.3 71.1,60.3 73.7,67.3 70.2,71.7 65.9,69"/><polygon fill="#21016b" points="18.6,69 23,63.8 26.5,67.3 22.1,80.5"/></svg><rect x="259.26" y="286.80" width="48.60" height="48.40" fill="none" stroke="#a5a598" stroke-width="0.55"/>
<svg x="311.50" y="286.80" width="48.60" height="48.40" viewBox="0 0 100 100" preserveAspectRatio="none"><rect width="100" height="100" fill="#eae55a"/><polygon fill="#21016b" points="71.7,0 100,0 100,56.8 91.7,42.2 88,33 79,38.5 77,33 88,25.8 84.4,20.3 77,22 69.9,14.8 66.2,11.1"/><polygon fill="#21016b" points="67.3,59.6 72.8,59.6 74.7,68.7 66.4,69.6"/></svg><rect x="311.50" y="286.80" width="48.60" height="48.40" fill="none" stroke="#a5a598" stroke-width="0.55"/>
<svg x="50.30" y="339.38" width="48.60" height="48.40" viewBox="0 0 100 100" preserveAspectRatio="none"><rect width="100" height="100" fill="#21016b"/><polygon fill="#eae55a" points="0,0 17.3,0 19.1,23.4 0,30.7"/><polygon fill="#eae55a" points="30,38 34.6,37.1 39.1,40.8 34.6,43.5"/><polygon fill="#eae55a" points="13.7,48.1 22.8,54.5 17.3,60"/><polygon fill="#eae55a" points="65.6,58.1 72.8,52.7 75.6,57.2 71.9,62.7"/><polygon fill="#eae55a" points="0,48.1 3.6,54.5 7.3,67.3 0,78.3"/><polygon fill="#eae55a" points="21.9,100 24.6,91.1 40.1,82.8 41.9,76.4 50.1,73.7 55.5,79.2 54.6,87.4 48.3,92.9 46.4,100"/><polygon fill="#2aa198" points="48.3,3.3 53.7,0.5 58.3,4.2 56.4,11.5 51,9.7"/></svg><rect x="50.30" y="339.38" width="48.60" height="48.40" fill="none" stroke="#a5a598" stroke-width="0.55"/>
<svg x="102.54" y="339.38" width="48.60" height="48.40" viewBox="0 0 100 100" preserveAspectRatio="none"><rect width="100" height="100" fill="#eae55a"/><polygon fill="#21016b" points="17.3,0 38.3,0 40.9,5.4 45.3,8.1 51.4,16.9 56.7,10.7 58.4,0 100,0 100,72.2 89.9,86.3 81.2,72.2 75.9,70.5 71.6,74 69.8,86.3 64.6,87.1 62.8,75.7 56.7,75.7 50.6,72.2 41.8,74 40.1,81 24.3,88.9 19.9,72.2 11.2,65.2 21.7,52.9 16.4,48.5 0,41.5 0,31.8 19.1,24.8"/><polygon fill="#eae55a" points="19.6,24.4 32.2,27.9 39.5,29.2 40.9,40.2 36.6,42.7 26.6,40.6 21.7,35"/><polygon fill="#eae55a" points="48.8,48.5 54.1,45.9 54.9,50.2 51.4,54.6"/><polygon fill="#eae55a" points="66.3,57.3 71.6,52 75.1,55.5 70.7,60.8"/><polygon fill="#21016b" points="48.8,88 55.8,85.4 64.6,87.1 61.1,100 47.1,100"/><polygon fill="#4fc38a" points="54,11 59,10 62,18 58,23 54,19"/></svg><rect x="102.54" y="339.38" width="48.60" height="48.40" fill="none" stroke="#a5a598" stroke-width="0.55"/>
<svg x="154.78" y="339.38" width="48.60" height="48.40" viewBox="0 0 100 100" preserveAspectRatio="none"><rect width="100" height="100" fill="#eae55a"/><polygon fill="#21016b" points="0,32.7 17.7,25.7 21.2,35.3 15.9,45.9 1,43.2"/><polygon fill="#21016b" points="22,0 37.8,0 39.5,6.3 43.9,9.8 44.8,15.1 42.2,21.3 40.4,27.4 36,28.3 31.7,26.5 24.7,24.8 33.4,15.1"/><polygon fill="#21016b" points="42.2,21.3 46.5,19.5 55.3,17.7 59.7,23 67.5,11.6 63.2,7.2 58.8,0 100,0 100,62.5 92,62.5 84.2,58.2 77.2,65.2 71,72.2 69.3,86.3 65.8,88 62.3,75.7 56.2,75.7 51.8,72.2 49.2,68.7 41.3,64.8 38.3,51.1 35.7,42.3 37.3,30 39,26.2"/><polygon fill="#21016b" points="25.5,40.2 34.6,42.3 33.8,49.4 36.9,59 39.9,67.8 37.3,68.7 40.8,78.4 23.8,88.4 19.1,72.2 21.7,66.1 19.1,59.9 22.6,52.9 24.3,45.9"/><polygon fill="#eae55a" points="49.2,48.8 53.5,46.2 54.4,49.7 51.8,55 49.2,53.2"/><polygon fill="#eae55a" points="55.3,33.9 60.5,29.5 64,33.9 61.4,38.3 56.2,37.4"/><polygon fill="#eae55a" points="68.4,35.7 74.5,33 78,38.3 75.4,42.7 70.2,41.8"/><polygon fill="#eae55a" points="62.3,50.6 67.5,48 73.7,54.1 71,60.3 65.8,56.7"/><polygon fill="#eae55a" points="52.7,64.7 55.3,62.9 56.2,69 53.5,70.8"/><polygon fill="#4fc38a" points="24,57 29,56 31,62 27,65 23,62"/></svg><rect x="154.78" y="339.38" width="48.60" height="48.40" fill="none" stroke="#a5a598" stroke-width="0.55"/>
<svg x="207.02" y="339.38" width="48.60" height="48.40" viewBox="0 0 100 100" preserveAspectRatio="none"><rect width="100" height="100" fill="#eae55a"/><polygon fill="#21016b" points="58.8,0 100,0 100,55.2 94.7,48.1 89.4,38.5 80.7,42 76.3,35 70.2,32.3 64,29.7 59.7,23.5 68.4,12.1 63.2,7.7"/><polygon fill="#21016b" points="21.9,0 36.7,0 39.4,5.1 43.7,8.6 44.6,14.8 41.1,20 40.2,27.1 36.7,27.1 35.9,18.3 33.2,13.9"/><polygon fill="#21016b" points="0,31.4 17.5,24.4 21,35 14.9,45.5 0,42"/><polygon fill="#21016b" points="46.4,17.7 54.2,18.6 59.5,23 63.9,29.2 57.7,33.6 56,40.6 52.5,41.5 48.1,36.2 43.7,37.9 41.1,31.8 42,23"/><polygon fill="#21016b" points="38.3,42.9 43.9,37.3 47.4,42.9 46,48.5 52.3,59.8 53.7,65.4 50.9,69.6 45.3,64 41.8,61.2 39,51.3 37.6,47.1"/><polygon fill="#21016b" points="55.1,46.4 59.3,47.1 64.2,55.6 62.8,59.8 59.3,58.4 55.8,51.3"/><polygon fill="#21016b" points="64.2,45 71.9,42.2 80.3,45.7 83.8,52 82.4,57 76.1,53.4 69.1,49.2"/><polygon fill="#21016b" points="67,61.2 71.9,60.5 74,66.8 71.9,71 69.8,85.1 65.6,88.6 63.5,82.3 62.8,73.1 56.5,76.6 52.3,73.1 55.8,69.6 56.5,64 60,63.3 61.4,68.9 65.6,67.5"/><polygon fill="#21016b" points="19.4,57 23.6,52.7 29.9,49.9 32.7,52 32,57.7 27.1,57.7 24.3,61.2 20.8,60.5"/><polygon fill="#21016b" points="18.7,68.2 22.2,64.7 34.8,70.3 23.6,88.6 18.7,72.4"/></svg><rect x="207.02" y="339.38" width="48.60" height="48.40" fill="none" stroke="#a5a598" stroke-width="0.55"/>
<svg x="259.26" y="339.38" width="48.60" height="48.40" viewBox="0 0 100 100" preserveAspectRatio="none"><rect width="100" height="100" fill="#eae55a"/><polygon fill="#21016b" points="58,0 100,0 100,55 94.7,47.1 90.4,39.2 80.7,41.8 78.1,35.7 88.6,29.5 86,26 79,26 75.5,32.2 68.5,33 62.4,29.5 59.8,24.2 63.3,15.5 68.5,12.8 63.3,8.4"/><polygon fill="#21016b" points="22.1,0 37,0 37.9,6.7 32.6,14.6"/><polygon fill="#21016b" points="0.1,33 16.9,25.1 21.3,36.5 13.4,46.2 1.1,43.6"/><polygon fill="#21016b" points="35.3,18.1 40.5,19 40.5,26 35.3,27.8"/><polygon fill="#21016b" points="44.9,20.7 51,17.2 49.3,22.5 45.8,24.2"/><polygon fill="#21016b" points="47.5,30.4 51.9,31.3 53.6,35.7 48.4,37.4"/><polygon fill="#21016b" points="42.3,42.7 46.6,39.2 47.5,43.6 44,47.1"/><polygon fill="#21016b" points="72,44.4 77.2,40.9 83.4,49.7 82.5,55.9 73.7,51.5"/><polygon fill="#21016b" points="42.3,61.1 48.4,57.6 50.1,61.1 46.6,65.5"/><polygon fill="#21016b" points="55.4,63.8 59.8,62.9 61.5,69.9 58,69"/><polygon fill="#21016b" points="66.7,60.3 71.1,60.3 73.7,67.3 70.2,71.7 65.9,69"/><polygon fill="#21016b" points="18.6,69 23,63.8 26.5,67.3 22.1,80.5"/></svg><rect x="259.26" y="339.38" width="48.60" height="48.40" fill="none" stroke="#a5a598" stroke-width="0.55"/>
<svg x="311.50" y="339.38" width="48.60" height="48.40" viewBox="0 0 100 100" preserveAspectRatio="none"><rect width="100" height="100" fill="#eae55a"/><polygon fill="#1f6f8f" points="71.7,0 80.8,0 75.3,15.7 68,12"/><polygon fill="#2aa198" points="81.9,0 100,0 100,27.8 91.7,26.7 86.2,13.9"/><polygon fill="#21016b" points="93.5,30.3 100,28.5 100,54 91.7,46.8 89.9,37.6"/><polygon fill="#2aa198" points="67.3,59.6 72.8,59.6 74.7,68.7 66.4,69.6"/></svg><rect x="311.50" y="339.38" width="48.60" height="48.40" fill="none" stroke="#a5a598" stroke-width="0.55"/>
<svg x="50.30" y="391.96" width="48.60" height="48.40" viewBox="0 0 100 100" preserveAspectRatio="none"><rect width="100" height="100" fill="#21016b"/><polygon fill="#eae55a" points="0,0 16.8,0 18.5,24.6 0,31.6"/><polygon fill="#eae55a" points="46.5,0 57.9,0 58.8,7 55.3,11.4 49.2,7"/><polygon fill="#eae55a" points="29,36 34.3,35.1 38.7,39.5 34.3,42.2 30.8,40.4"/><polygon fill="#eae55a" points="13.3,46.6 21.2,52.7 16.8,58"/><polygon fill="#eae55a" points="64.9,56.2 71,51 75.4,54.5 71,60.6"/><polygon fill="#eae55a" points="0,43.9 3.7,51 7.2,67.6 0,78.2"/><polygon fill="#eae55a" points="22,100 23.8,91.4 38.7,82.6 40.4,75.5 49.2,72 55.3,77.3 53.5,87 48.3,91.4 46.5,100"/><polygon fill="#1f3f8a" points="38.7,0 46.5,0 45.7,7 41.3,5.3"/><polygon fill="#1f6f8f" points="19.4,25.5 27.3,24.6 32.5,30.7 29,35.1 23.8,38.7 21.2,32.5"/><polygon fill="#1f6f8f" points="99.9,70.3 99.9,100 91.2,100 89.4,87.8 94.7,77.3"/></svg><rect x="50.30" y="391.96" width="48.60" height="48.40" fill="none" stroke="#a5a598" stroke-width="0.55"/>
<svg x="102.54" y="391.96" width="48.60" height="48.40" viewBox="0 0 100 100" preserveAspectRatio="none"><rect width="100" height="100" fill="#eae55a"/><polygon fill="#21016b" points="17.3,0 38.3,0 40.9,5.4 45.3,8.1 51.4,16.9 56.7,10.7 58.4,0 100,0 100,72.2 89.9,86.3 81.2,72.2 75.9,70.5 71.6,74 69.8,86.3 64.6,87.1 62.8,75.7 56.7,75.7 50.6,72.2 41.8,74 40.1,81 24.3,88.9 19.9,72.2 11.2,65.2 21.7,52.9 16.4,48.5 0,41.5 0,31.8 19.1,24.8"/><polygon fill="#eae55a" points="19.6,24.4 32.2,27.9 39.5,29.2 40.9,40.2 36.6,42.7 26.6,40.6 21.7,35"/><polygon fill="#eae55a" points="48.8,48.5 54.1,45.9 54.9,50.2 51.4,54.6"/><polygon fill="#eae55a" points="66.3,57.3 71.6,52 75.1,55.5 70.7,60.8"/><polygon fill="#21016b" points="48.8,88 55.8,85.4 64.6,87.1 61.1,100 47.1,100"/><polygon fill="#2aa198" points="16.6,0 27,0 32,18 20,24.5"/></svg><rect x="102.54" y="391.96" width="48.60" height="48.40" fill="none" stroke="#a5a598" stroke-width="0.55"/>
<svg x="154.78" y="391.96" width="48.60" height="48.40" viewBox="0 0 100 100" preserveAspectRatio="none"><rect width="100" height="100" fill="#eae55a"/><polygon fill="#21016b" points="0,32.7 17.7,25.7 21.2,35.3 15.9,45.9 1,43.2"/><polygon fill="#21016b" points="22,0 37.8,0 39.5,6.3 43.9,9.8 44.8,15.1 42.2,21.3 40.4,27.4 36,28.3 31.7,26.5 24.7,24.8 33.4,15.1"/><polygon fill="#21016b" points="42.2,21.3 46.5,19.5 55.3,17.7 59.7,23 67.5,11.6 63.2,7.2 58.8,0 100,0 100,62.5 92,62.5 84.2,58.2 77.2,65.2 71,72.2 69.3,86.3 65.8,88 62.3,75.7 56.2,75.7 51.8,72.2 49.2,68.7 41.3,64.8 38.3,51.1 35.7,42.3 37.3,30 39,26.2"/><polygon fill="#21016b" points="25.5,40.2 34.6,42.3 33.8,49.4 36.9,59 39.9,67.8 37.3,68.7 40.8,78.4 23.8,88.4 19.1,72.2 21.7,66.1 19.1,59.9 22.6,52.9 24.3,45.9"/><polygon fill="#eae55a" points="49.2,48.8 53.5,46.2 54.4,49.7 51.8,55 49.2,53.2"/><polygon fill="#eae55a" points="55.3,33.9 60.5,29.5 64,33.9 61.4,38.3 56.2,37.4"/><polygon fill="#eae55a" points="68.4,35.7 74.5,33 78,38.3 75.4,42.7 70.2,41.8"/><polygon fill="#eae55a" points="62.3,50.6 67.5,48 73.7,54.1 71,60.3 65.8,56.7"/><polygon fill="#eae55a" points="52.7,64.7 55.3,62.9 56.2,69 53.5,70.8"/><polygon fill="#1f6f8f" points="44,20 50,19 52,27 46,29"/><polygon fill="#2aa198" points="54,34 59,32 60,40 55,46"/><polygon fill="#1f6f8f" points="84,50 90,46 98,56 98,64 88,60"/></svg><rect x="154.78" y="391.96" width="48.60" height="48.40" fill="none" stroke="#a5a598" stroke-width="0.55"/>
<svg x="207.02" y="391.96" width="48.60" height="48.40" viewBox="0 0 100 100" preserveAspectRatio="none"><rect width="100" height="100" fill="#eae55a"/><polygon fill="#21016b" points="58.8,0 100,0 100,55.2 94.7,48.1 89.4,38.5 80.7,42 76.3,35 70.2,32.3 64,29.7 59.7,23.5 68.4,12.1 63.2,7.7"/><polygon fill="#21016b" points="21.9,0 36.7,0 39.4,5.1 43.7,8.6 44.6,14.8 41.1,20 40.2,27.1 36.7,27.1 35.9,18.3 33.2,13.9"/><polygon fill="#21016b" points="0,31.4 17.5,24.4 21,35 14.9,45.5 0,42"/><polygon fill="#21016b" points="46.4,17.6 54.2,18.4 59.5,23.7 63.9,29.9 57.7,34.3 54.2,43.9 49.9,39.5 47.2,31.6 44.6,22.8"/><polygon fill="#21016b" points="39.4,37.2 46.4,37.8 44.6,43.9 41.1,43"/><polygon fill="#1f6f8f" points="39.9,31.3 46.9,31.6 46.4,37.8 39.4,37.2"/><polygon fill="#21016b" points="39.4,49.2 43.7,47.4 44.6,51 41.1,53.6"/><polygon fill="#21016b" points="42,61.5 48.1,56.2 50.7,59.7 46.4,65.9"/><polygon fill="#21016b" points="58.6,54.5 62.1,51.8 65.6,56.2 61.2,59.7"/><polygon fill="#21016b" points="65.6,46.6 73.5,42.2 81.4,49.2 83.1,56.2 78.7,58 70,51"/><polygon fill="#21016b" points="67.4,60.6 71.7,60.6 73.5,66.8 71.7,72.9 69.1,86.1 65.6,87.8 63,82.6 63,73.8 56,76.4 51.6,72.9 56,68.5 56,64.1 60.4,63.2 61.2,69.4 65.6,68.5"/><polygon fill="#21016b" points="19.2,55.3 24.5,52.7 28.9,50.1 32.4,51 31.5,56.2 26.2,58 23.6,61.5 20.1,59.7"/><polygon fill="#21016b" points="19.2,65.9 22.7,63.2 34.1,69.4 23.6,88.7 18.4,72"/></svg><rect x="207.02" y="391.96" width="48.60" height="48.40" fill="none" stroke="#a5a598" stroke-width="0.55"/>
<svg x="259.26" y="391.96" width="48.60" height="48.40" viewBox="0 0 100 100" preserveAspectRatio="none"><rect width="100" height="100" fill="#eae55a"/><polygon fill="#21016b" points="58,0 100,0 100,55 94.7,47.1 90.4,39.2 80.7,41.8 78.1,35.7 88.6,29.5 86,26 79,26 75.5,32.2 68.5,33 62.4,29.5 59.8,24.2 63.3,15.5 68.5,12.8 63.3,8.4"/><polygon fill="#21016b" points="22.1,0 37,0 37.9,6.7 32.6,14.6"/><polygon fill="#21016b" points="0.1,33 16.9,25.1 21.3,36.5 13.4,46.2 1.1,43.6"/><polygon fill="#21016b" points="35.3,18.1 40.5,19 40.5,26 35.3,27.8"/><polygon fill="#21016b" points="44.9,20.7 51,17.2 49.3,22.5 45.8,24.2"/><polygon fill="#21016b" points="72,44.4 77.2,40.9 83.4,49.7 82.5,55.9 73.7,51.5"/><polygon fill="#21016b" points="42.3,61.1 48.4,57.6 50.1,61.1 46.6,65.5"/><polygon fill="#21016b" points="66.7,60.3 71.1,60.3 73.7,67.3 70.2,71.7 65.9,69"/><polygon fill="#21016b" points="18.6,69 23,63.8 26.5,67.3 22.1,80.5"/></svg><rect x="259.26" y="391.96" width="48.60" height="48.40" fill="none" stroke="#a5a598" stroke-width="0.55"/>
<svg x="311.50" y="391.96" width="48.60" height="48.40" viewBox="0 0 100 100" preserveAspectRatio="none"><rect width="100" height="100" fill="#eae55a"/><polygon fill="#21016b" points="71.7,0 80.8,0 75.3,15.7 68,12"/><polygon fill="#21016b" points="93.5,30.3 100,28.5 100,54 91.7,46.8 89.9,37.6"/></svg><rect x="311.50" y="391.96" width="48.60" height="48.40" fill="none" stroke="#a5a598" stroke-width="0.55"/>
<svg x="50.30" y="444.54" width="48.60" height="48.40" viewBox="0 0 100 100" preserveAspectRatio="none"><rect width="100" height="100" fill="#21016b"/><polygon fill="#eae55a" points="0,0 17,0 20,24 0,31"/><polygon fill="#eae55a" points="37.5,0 58.5,0 60,7 56.5,13 52,10 49,8 43,8 39.5,4.5"/><polygon fill="#eae55a" points="19,23 27,25.5 33,27 34.5,34 40,38.5 35,42.5 27,40.5 22,36 21,30"/><polygon fill="#eae55a" points="14.5,46 22.6,54 17,58"/><polygon fill="#eae55a" points="66,57 73,50.5 76,55 70.5,59.6"/><polygon fill="#eae55a" points="0,45 3.6,50.5 8,68 0,78"/><polygon fill="#eae55a" points="22.6,100 24.4,90.5 39,83 40.7,76 49.7,72 55,78.7 53,87 48,100"/><polygon fill="#eae55a" points="100,68.7 100,100 90.4,100 89.5,87"/></svg><rect x="50.30" y="444.54" width="48.60" height="48.40" fill="none" stroke="#a5a598" stroke-width="0.55"/>
<svg x="102.54" y="444.54" width="48.60" height="48.40" viewBox="0 0 100 100" preserveAspectRatio="none"><rect width="100" height="100" fill="#eae55a"/><polygon fill="#21016b" points="22.4,0 38.7,0 44.2,8.7 49.6,13.3 58.7,23.3 68.7,10.5 62.4,6 57.8,0 100,0 100,61.5 80.5,72.4 73.3,67.8 70.5,85.1 65.1,88.7 61.5,100 46.9,100 49.6,86.9 59.6,83.3 62.4,76 55.1,74.2 53.3,69.6 47.8,66 41.5,65.1 36,70.5 39.6,80.5 24.2,86.9 20.5,68.7 24.2,56 18.7,50.5 0,46 0,31.5 25.1,23.3 34.2,14.2"/><polygon fill="#21016b" points="20,49 27,56 23,71 11,66"/><polygon fill="#eae55a" points="22.4,26 37.8,27.8 39.6,38.7 36,42.4 26,37.8 21.5,30.5"/><polygon fill="#eae55a" points="34.2,47.8 39.6,48.7 39.6,55.1 34.2,55.1"/><polygon fill="#eae55a" points="50.5,46 55.1,45.1 54.2,52.4 50.5,53.3"/><polygon fill="#eae55a" points="66.9,56.9 73.3,51.5 76,56 71.5,60.5"/><polygon fill="#eae55a" points="53.3,65.1 56.9,63.3 57.8,68.7 54.2,70.5"/><polygon fill="#1f6f8f" points="58,7 65,6 68,12 62,15"/><polygon fill="#1f6f8f" points="84,66 97,62 98,72 90,86 82,74"/></svg><rect x="102.54" y="444.54" width="48.60" height="48.40" fill="none" stroke="#a5a598" stroke-width="0.55"/>
<svg x="154.78" y="444.54" width="48.60" height="48.40" viewBox="0 0 100 100" preserveAspectRatio="none"><rect width="100" height="100" fill="#eae55a"/><polygon fill="#21016b" points="58.8,0 100,0 100,55.2 94.7,48.1 89.4,38.5 80.7,42 76.3,35 70.2,32.3 64,29.7 59.7,23.5 68.4,12.1 63.2,7.7"/><polygon fill="#21016b" points="22,0 37.8,0 39.5,6 43.9,9.5 44.8,14.8 42.2,20 40.4,27.1 44.8,28.8 43,31.4 36,27.9 31.7,26.2 24.7,23.5 33.4,14.8"/><polygon fill="#21016b" points="0.5,32.3 17.7,25.3 21.2,35.8 15.9,45.5 1,42.9"/><polygon fill="#21016b" points="46.5,18.3 54.4,19.2 59.7,23.5 64,29.7 58.8,34.1 68.4,36.7 76.3,41.1 81.5,49 83.3,55.2 78.9,64 72.8,71 70.2,83.3 67.5,88.5 64,85.9 63.2,74.5 57,76.2 52.7,72.7 51.8,67.5 48.3,61.3 42.2,63.1 40.4,51.7 38.7,43.7 32.5,48.1 28.2,42 26.4,40.2 32.5,39.4 40.4,34.1 41.3,28.8 42.2,21.8"/><polygon fill="#eae55a" points="64,48.1 70.2,47.3 74.5,51.7 73.7,58.7 69.3,61.3 65.8,56.9"/><polygon fill="#eae55a" points="50.9,49.9 55.3,48.1 57,53.4 55.3,59.6 50.9,57.8"/><polygon fill="#eae55a" points="58.8,34.6 68.4,36.7 76.8,41.6 67.5,40.8 59.7,43.2 57,39"/><polygon fill="#21016b" points="19.4,56.9 23.8,53.4 28.2,57.8 26.4,60.4 30.8,59.6 32.5,66.6 36.9,69.2 39.5,78.9 24.7,89.4 22,81.5 18.5,72.7 21.2,67.5 22,62.2"/><polygon fill="#eae55a" points="24.7,59.6 29,60.4 29.9,65.7 25.5,66.6"/></svg><rect x="154.78" y="444.54" width="48.60" height="48.40" fill="none" stroke="#a5a598" stroke-width="0.55"/>
<svg x="207.02" y="444.54" width="48.60" height="48.40" viewBox="0 0 100 100" preserveAspectRatio="none"><rect width="100" height="100" fill="#eae55a"/><polygon fill="#21016b" points="58.8,0 100,0 100,55.2 94.7,48.1 89.4,38.5 80.7,42 76.3,35 70.2,32.3 64,29.7 59.7,23.5 68.4,12.1 63.2,7.7"/><polygon fill="#21016b" points="21.9,0 36.7,0 39.4,5.1 43.7,8.6 44.6,14.8 41.1,20 40.2,27.1 36.7,27.1 35.9,18.3 33.2,13.9"/><polygon fill="#21016b" points="0,31.4 17.5,24.4 21,35 14.9,45.5 0,42"/><polygon fill="#21016b" points="46.4,17.6 54.2,18.4 59.5,23.7 63.9,29.9 57.7,34.3 54.2,43.9 49.9,39.5 47.2,31.6 44.6,22.8"/><polygon fill="#21016b" points="39.4,37.2 46.4,37.8 44.6,43.9 41.1,43"/><polygon fill="#21016b" points="39.4,49.2 43.7,47.4 44.6,51 41.1,53.6"/><polygon fill="#21016b" points="42,61.5 48.1,56.2 50.7,59.7 46.4,65.9"/><polygon fill="#21016b" points="58.6,54.5 62.1,51.8 65.6,56.2 61.2,59.7"/><polygon fill="#21016b" points="65.6,46.6 73.5,42.2 81.4,49.2 83.1,56.2 78.7,58 70,51"/><polygon fill="#21016b" points="67.4,60.6 71.7,60.6 73.5,66.8 71.7,72.9 69.1,86.1 65.6,87.8 63,82.6 63,73.8 56,76.4 51.6,72.9 56,68.5 56,64.1 60.4,63.2 61.2,69.4 65.6,68.5"/><polygon fill="#21016b" points="19.2,55.3 24.5,52.7 28.9,50.1 32.4,51 31.5,56.2 26.2,58 23.6,61.5 20.1,59.7"/><polygon fill="#21016b" points="19.2,65.9 22.7,63.2 34.1,69.4 23.6,88.7 18.4,72"/></svg><rect x="207.02" y="444.54" width="48.60" height="48.40" fill="none" stroke="#a5a598" stroke-width="0.55"/>
<svg x="259.26" y="444.54" width="48.60" height="48.40" viewBox="0 0 100 100" preserveAspectRatio="none"><rect width="100" height="100" fill="#eae55a"/><polygon fill="#21016b" points="58,0 100,0 100,55 94.7,47.1 90.4,39.2 80.7,41.8 78.1,35.7 88.6,29.5 86,26 79,26 75.5,32.2 68.5,33 62.4,29.5 59.8,24.2 63.3,15.5 68.5,12.8 63.3,8.4"/><polygon fill="#21016b" points="22.1,0 37,0 37.9,6.7 32.6,14.6"/><polygon fill="#21016b" points="0.1,33 16.9,25.1 21.3,36.5 13.4,46.2 1.1,43.6"/><polygon fill="#21016b" points="44.9,20.7 51,17.2 49.3,22.5 45.8,24.2"/><polygon fill="#21016b" points="72,44.4 77.2,40.9 83.4,49.7 82.5,55.9 73.7,51.5"/><polygon fill="#21016b" points="42.3,61.1 48.4,57.6 50.1,61.1 46.6,65.5"/><polygon fill="#21016b" points="66.7,60.3 71.1,60.3 73.7,67.3 70.2,71.7 65.9,69"/><polygon fill="#21016b" points="18.6,69 23,63.8 26.5,67.3 22.1,80.5"/></svg><rect x="259.26" y="444.54" width="48.60" height="48.40" fill="none" stroke="#a5a598" stroke-width="0.55"/>
<svg x="311.50" y="444.54" width="48.60" height="48.40" viewBox="0 0 100 100" preserveAspectRatio="none"><rect width="100" height="100" fill="#eae55a"/><polygon fill="#2aa198" points="93.5,30.3 100,28.5 100,54 91.7,46.8 89.9,37.6"/></svg><rect x="311.50" y="444.54" width="48.60" height="48.40" fill="none" stroke="#a5a598" stroke-width="0.55"/>
<svg x="50.30" y="497.12" width="48.60" height="48.40" viewBox="0 0 100 100" preserveAspectRatio="none"><rect width="100" height="100" fill="#21016b"/><polygon fill="#eae55a" points="0,0 17,0 20,24 0,31"/><polygon fill="#eae55a" points="37.5,0 58.5,0 60,7 56.5,13 52,10 49,8 43,8 39.5,4.5"/><polygon fill="#eae55a" points="19,23 27,25.5 33,27 34.5,34 40,38.5 35,42.5 27,40.5 22,36 21,30"/><polygon fill="#eae55a" points="14.5,46 22.6,54 17,58"/><polygon fill="#eae55a" points="66,57 73,50.5 76,55 70.5,59.6"/><polygon fill="#eae55a" points="0,45 3.6,50.5 8,68 0,78"/><polygon fill="#eae55a" points="22.6,100 24.4,90.5 39,83 40.7,76 49.7,72 55,78.7 53,87 48,100"/><polygon fill="#2aa198" points="60.6,100 67.8,87.8 76,100"/><polygon fill="#eae55a" points="100,68.7 100,100 90.4,100 89.5,87"/></svg><rect x="50.30" y="497.12" width="48.60" height="48.40" fill="none" stroke="#a5a598" stroke-width="0.55"/>
<svg x="102.54" y="497.12" width="48.60" height="48.40" viewBox="0 0 100 100" preserveAspectRatio="none"><rect width="100" height="100" fill="#eae55a"/><polygon fill="#21016b" points="22.4,0 38.7,0 44.2,8.7 49.6,13.3 58.7,23.3 68.7,10.5 62.4,6 57.8,0 100,0 100,61.5 80.5,72.4 73.3,67.8 70.5,85.1 65.1,88.7 61.5,100 46.9,100 49.6,86.9 59.6,83.3 62.4,76 55.1,74.2 53.3,69.6 47.8,66 41.5,65.1 36,70.5 39.6,80.5 24.2,86.9 20.5,68.7 24.2,56 18.7,50.5 0,46 0,31.5 25.1,23.3 34.2,14.2"/><polygon fill="#21016b" points="20,49 27,56 23,71 11,66"/><polygon fill="#eae55a" points="22.4,26 37.8,27.8 39.6,38.7 36,42.4 26,37.8 21.5,30.5"/><polygon fill="#eae55a" points="34.2,47.8 39.6,48.7 39.6,55.1 34.2,55.1"/><polygon fill="#eae55a" points="50.5,46 55.1,45.1 54.2,52.4 50.5,53.3"/><polygon fill="#eae55a" points="66.9,56.9 73.3,51.5 76,56 71.5,60.5"/><polygon fill="#eae55a" points="53.3,65.1 56.9,63.3 57.8,68.7 54.2,70.5"/></svg><rect x="102.54" y="497.12" width="48.60" height="48.40" fill="none" stroke="#a5a598" stroke-width="0.55"/>
<svg x="154.78" y="497.12" width="48.60" height="48.40" viewBox="0 0 100 100" preserveAspectRatio="none"><rect width="100" height="100" fill="#eae55a"/><polygon fill="#21016b" points="58.8,0 100,0 100,55.2 94.7,48.1 89.4,38.5 80.7,42 76.3,35 70.2,32.3 64,29.7 59.7,23.5 68.4,12.1 63.2,7.7"/><polygon fill="#21016b" points="22,0 37.8,0 39.5,6 43.9,9.5 44.8,14.8 42.2,20 40.4,27.1 44.8,28.8 43,31.4 36,27.9 31.7,26.2 24.7,23.5 33.4,14.8"/><polygon fill="#21016b" points="0.5,32.3 17.7,25.3 21.2,35.8 15.9,45.5 1,42.9"/><polygon fill="#21016b" points="46.5,18.3 54.4,19.2 59.7,23.5 64,29.7 58.8,34.1 68.4,36.7 76.3,41.1 81.5,49 83.3,55.2 78.9,64 72.8,71 70.2,83.3 67.5,88.5 64,85.9 63.2,74.5 57,76.2 52.7,72.7 51.8,67.5 48.3,61.3 42.2,63.1 40.4,51.7 38.7,43.7 32.5,48.1 28.2,42 26.4,40.2 32.5,39.4 40.4,34.1 41.3,28.8 42.2,21.8"/><polygon fill="#eae55a" points="64,48.1 70.2,47.3 74.5,51.7 73.7,58.7 69.3,61.3 65.8,56.9"/><polygon fill="#eae55a" points="50.9,49.9 55.3,48.1 57,53.4 55.3,59.6 50.9,57.8"/><polygon fill="#eae55a" points="58.8,34.6 68.4,36.7 76.8,41.6 67.5,40.8 59.7,43.2 57,39"/><polygon fill="#21016b" points="19.4,56.9 23.8,53.4 28.2,57.8 26.4,60.4 30.8,59.6 32.5,66.6 36.9,69.2 39.5,78.9 24.7,89.4 22,81.5 18.5,72.7 21.2,67.5 22,62.2"/><polygon fill="#eae55a" points="24.7,59.6 29,60.4 29.9,65.7 25.5,66.6"/></svg><rect x="154.78" y="497.12" width="48.60" height="48.40" fill="none" stroke="#a5a598" stroke-width="0.55"/>
<svg x="207.02" y="497.12" width="48.60" height="48.40" viewBox="0 0 100 100" preserveAspectRatio="none"><rect width="100" height="100" fill="#eae55a"/><polygon fill="#21016b" points="58.8,0 100,0 100,55.2 94.7,48.1 89.4,38.5 80.7,42 76.3,35 70.2,32.3 64,29.7 59.7,23.5 68.4,12.1 63.2,7.7"/><polygon fill="#21016b" points="21.9,0 36.7,0 39.4,5.1 43.7,8.6 44.6,14.8 41.1,20 40.2,27.1 36.7,27.1 35.9,18.3 33.2,13.9"/><polygon fill="#21016b" points="0,31.4 17.5,24.4 21,35 14.9,45.5 0,42"/><polygon fill="#21016b" points="46.4,17.6 54.2,18.4 59.5,23.7 63.9,29.9 57.7,34.3 54.2,43.9 49.9,39.5 47.2,31.6 44.6,22.8"/><polygon fill="#21016b" points="39.4,37.2 46.4,37.8 44.6,43.9 41.1,43"/><polygon fill="#21016b" points="39.4,49.2 43.7,47.4 44.6,51 41.1,53.6"/><polygon fill="#21016b" points="42,61.5 48.1,56.2 50.7,59.7 46.4,65.9"/><polygon fill="#21016b" points="58.6,54.5 62.1,51.8 65.6,56.2 61.2,59.7"/><polygon fill="#21016b" points="65.6,46.6 73.5,42.2 81.4,49.2 83.1,56.2 78.7,58 70,51"/><polygon fill="#21016b" points="67.4,60.6 71.7,60.6 73.5,66.8 71.7,72.9 69.1,86.1 65.6,87.8 63,82.6 63,73.8 56,76.4 51.6,72.9 56,68.5 56,64.1 60.4,63.2 61.2,69.4 65.6,68.5"/><polygon fill="#21016b" points="19.2,55.3 24.5,52.7 28.9,50.1 32.4,51 31.5,56.2 26.2,58 23.6,61.5 20.1,59.7"/><polygon fill="#21016b" points="19.2,65.9 22.7,63.2 34.1,69.4 23.6,88.7 18.4,72"/></svg><rect x="207.02" y="497.12" width="48.60" height="48.40" fill="none" stroke="#a5a598" stroke-width="0.55"/>
<svg x="259.26" y="497.12" width="48.60" height="48.40" viewBox="0 0 100 100" preserveAspectRatio="none"><rect width="100" height="100" fill="#eae55a"/><polygon fill="#21016b" points="71.7,0 100,0 100,57.4 91.7,42.7 88,33.6 79,38.4 76.4,33.6 88,27.4 80.8,22.7 73.5,23.7 69.9,31.8 62.6,31 59,24.5 68,20.8 69.1,13.5 66.2,6.2"/><polygon fill="#21016b" points="22.4,0 38,0 38.9,5.1 33.4,13.3"/><polygon fill="#21016b" points="0.4,31.5 18.7,25.1 21.5,36 13.2,46 1.3,42.4"/><polygon fill="#21016b" points="44.9,20.7 51,17.2 49.3,22.5 45.8,24.2"/><polygon fill="#21016b" points="42.6,61.5 49.9,56 50.8,60.5 48.1,65.1"/><polygon fill="#21016b" points="67.3,59.6 72.8,59.6 74.7,68.7 66.4,69.6"/><polygon fill="#21016b" points="17.8,69.6 22.4,62.4 27.9,68.7 22.4,79.6"/></svg><rect x="259.26" y="497.12" width="48.60" height="48.40" fill="none" stroke="#a5a598" stroke-width="0.55"/>
<svg x="311.50" y="497.12" width="48.60" height="48.40" viewBox="0 0 100 100" preserveAspectRatio="none"><rect width="100" height="100" fill="#eae55a"/></svg><rect x="311.50" y="497.12" width="48.60" height="48.40" fill="none" stroke="#a5a598" stroke-width="0.55"/>
<!-- panel b -->
<path d="M595.2 23.8L586.9 58.3M595.2 23.8L612.9 52.1M595.2 23.8L597.1 68.6M595.2 23.8L557.6 80.2M595.2 23.8L579.5 80.5M595.2 23.8L616.7 86.7M561.2 38.1L586.9 58.3M561.2 38.1L597.1 68.6M561.2 38.1L557.6 80.2M561.2 38.1L546.9 104.5M561.2 38.1L590.5 122.4M561.2 38.1L621.9 38.8M541.2 59L488.8 65.2M541.2 59L557.6 80.2M541.2 59L579.5 80.5M541.2 59L546.9 104.5M541.2 59L504.3 116.4M541.2 59L571.9 111M488.8 65.2L557.6 80.2M488.8 65.2L571.9 111M488.8 65.2L593.3 111M488.8 65.2L527.4 144M586.9 58.3L590.5 122.4M586.9 58.3L582.4 140M586.9 58.3L654.5 53.8M586.9 58.3L644.5 62.6M586.9 58.3L678.1 72.4M586.9 58.3L662.6 92.1M586.9 58.3L682.6 119.8M586.9 58.3L553.1 158.6M612.9 52.1L606.7 78.1M612.9 52.1L557.6 80.2M612.9 52.1L597.1 91.9M612.9 52.1L593.3 111M612.9 52.1L571.7 133.8M612.9 52.1L621.9 38.8M612.9 52.1L658.6 33.3M612.9 52.1L678.1 72.4M612.9 52.1L631.9 98.8M612.9 52.1L692.4 143.1M612.9 52.1L595.5 163.3M612.9 52.1L576.2 173.6M597.1 68.6L571.7 133.8M597.1 68.6L613.1 137.4M597.1 68.6L621.9 38.8M597.1 68.6L654.5 53.8M597.1 68.6L553.1 158.6M597.1 68.6L589.5 150.7M597.1 68.6L553.1 205M597.1 68.6L586 205.5M597.1 68.6L658.6 181.2M606.7 78.1L582.4 140M606.7 78.1L662.4 68.8M606.7 78.1L671.2 141.2M606.7 78.1L595.5 163.3M606.7 78.1L606.4 179.8M606.7 78.1L629.5 163.1M606.7 78.1L633.3 175.7M606.7 78.1L673.6 183.6M557.6 80.2L616.7 86.7M557.6 80.2L504.3 116.4M557.6 80.2L527.4 144M557.6 80.2L644.5 62.6M557.6 80.2L642.6 111M557.6 80.2L514.3 183.8M557.6 80.2L606.4 179.8M557.6 80.2L649.3 165.2M557.6 80.2L628.8 193.6M579.5 80.5L644.5 62.6M579.5 80.5L682.6 119.8M579.5 80.5L637.4 126M579.5 80.5L671.2 141.2M579.5 80.5L595.5 163.3M579.5 80.5L617.6 187.6M579.5 80.5L532.4 196.4M579.5 80.5L658.6 181.2M616.7 86.7L621.9 38.8M616.7 86.7L662.6 92.1M616.7 86.7L680.7 91.4M616.7 86.7L676.9 100.5M616.7 86.7L705 150.5M616.7 86.7L571.7 155.7M616.7 86.7L546.7 179M616.7 86.7L553.1 205M616.7 86.7L676.4 165.5M616.7 86.7L662.9 217.4M597.1 91.9L546.9 104.5M597.1 91.9L590.5 122.4M597.1 91.9L557.9 135.7M597.1 91.9L613.1 137.4M597.1 91.9L527.4 144M597.1 91.9L662.4 68.8M597.1 91.9L678.1 72.4M597.1 91.9L662.6 92.1M597.1 91.9L637.4 126M597.1 91.9L639 148.6M597.1 91.9L553.1 158.6M597.1 91.9L605.5 150.5M597.1 91.9L565.5 183.3M597.1 91.9L649.3 165.2M597.1 91.9L622.4 222.4M546.9 104.5L617.4 109.3M546.9 104.5L662.4 68.8M546.9 104.5L623.1 125.5M546.9 104.5L637.4 126M546.9 104.5L618.3 148.1M546.9 104.5L617.6 187.6M546.9 104.5L532.4 196.4M546.9 104.5L553.1 205M546.9 104.5L586 205.5M546.9 104.5L633.8 208.8M504.3 116.4L571.9 111M504.3 116.4L567.1 121.9M504.3 116.4L557.9 135.7M504.3 116.4L541.7 147.4M571.9 111L617.4 109.3M571.9 111L598.3 131.9M571.9 111L541.7 147.4M571.9 111L644.5 62.6M571.9 111L631.9 98.8M571.9 111L519.8 158.3M571.9 111L589.5 150.7M571.9 111L595.5 163.3M571.9 111L546.7 179M571.9 111L617.6 187.6M571.9 111L532.4 196.4M571.9 111L586 205.5M571.9 111L591.7 218.8M571.9 111L696.2 175.5M571.9 111L633.3 175.7M571.9 111L628.8 193.6M593.3 111L617.4 109.3M593.3 111L680.7 91.4M593.3 111L714.8 114M593.3 111L663.6 121M593.3 111L692.4 143.1M593.3 111L705 150.5M593.3 111L595.5 163.3M593.3 111L553.1 205M593.3 111L668.1 153.1M593.3 111L628.8 193.6M617.4 109.3L527.4 144M617.4 109.3L654.5 53.8M617.4 109.3L706.7 97.1M617.4 109.3L682.6 119.8M617.4 109.3L530 165.5M617.4 109.3L617.6 187.6M617.4 109.3L532.4 196.4M617.4 109.3L696.2 175.5M567.1 121.9L582.4 140M567.1 121.9L637.4 126M567.1 121.9L530 165.5M567.1 121.9L605.5 150.5M567.1 121.9L514.3 183.8M567.1 121.9L532.4 196.4M567.1 121.9L553.1 205M567.1 121.9L633.3 175.7M567.1 121.9L658.6 181.2M567.1 121.9L622.4 222.4M567.1 121.9L641 222.6M590.5 122.4L571.7 133.8M590.5 122.4L678.1 72.4M590.5 122.4L662.6 92.1M590.5 122.4L676.9 100.5M590.5 122.4L706.7 97.1M590.5 122.4L623.1 125.5M590.5 122.4L705 150.5M590.5 122.4L519.8 158.3M590.5 122.4L514.3 183.8M590.5 122.4L553.1 205M590.5 122.4L633.3 175.7M590.5 122.4L658.6 181.2M557.9 135.7L613.1 137.4M557.9 135.7L662.6 92.1M557.9 135.7L680.7 91.4M557.9 135.7L631.9 98.8M557.9 135.7L642.6 111M557.9 135.7L595.5 163.3M557.9 135.7L532.4 196.4M557.9 135.7L553.1 205M557.9 135.7L609.5 219.8M557.9 135.7L629.5 163.1M571.7 133.8L692.4 143.1M571.7 133.8L629.5 163.1M571.7 133.8L676.4 165.5M571.7 133.8L633.3 175.7M571.7 133.8L673.6 183.6M571.7 133.8L637.6 189.5M571.7 133.8L628.8 193.6M571.7 133.8L622.4 222.4M598.3 131.9L527.4 144M598.3 131.9L644.5 62.6M598.3 131.9L662.6 92.1M598.3 131.9L650.5 132.1M598.3 131.9L618.3 148.1M598.3 131.9L546.7 179M598.3 131.9L629.5 163.1M598.3 131.9L676.4 165.5M598.3 131.9L637.6 189.5M598.3 131.9L633.8 208.8M582.4 140L613.1 137.4M582.4 140L678.1 72.4M582.4 140L631.9 98.8M582.4 140L663.6 121M582.4 140L682.6 119.8M582.4 140L553.1 158.6M582.4 140L532.4 196.4M582.4 140L553.1 205M582.4 140L609.5 219.8M582.4 140L673.6 183.6M613.1 137.4L527.4 144M613.1 137.4L662.6 92.1M613.1 137.4L676.9 100.5M613.1 137.4L682.6 119.8M613.1 137.4L553.1 158.6M613.1 137.4L571.7 155.7M613.1 137.4L532.4 196.4M613.1 137.4L586 205.5M613.1 137.4L673.6 183.6M613.1 137.4L622.4 222.4M527.4 144L541.7 147.4M527.4 144L663.6 121M527.4 144L496 165.7M527.4 144L530 165.5M527.4 144L460.2 178.8M527.4 144L546.7 179M527.4 144L606.4 179.8M527.4 144L600.7 198.8M527.4 144L591.7 218.8M527.4 144L668.1 153.1M527.4 144L629.5 163.1M527.4 144L649.3 165.2M541.7 147.4L680.7 91.4M541.7 147.4L618.3 148.1M541.7 147.4L617.6 187.6M541.7 147.4L600.7 198.8M541.7 147.4L629.5 163.1M541.7 147.4L673.6 183.6M541.7 147.4L628.8 193.6M541.7 147.4L662.9 217.4M621.9 38.8L658.6 33.3M621.9 38.8L654.5 53.8M621.9 38.8L685.7 52.1M621.9 38.8L644.5 62.6M658.6 33.3L654.5 53.8M658.6 33.3L644.5 62.6M658.6 33.3L662.4 68.8M658.6 33.3L678.1 72.4M654.5 53.8L685.7 52.1M654.5 53.8L745.2 61.4M654.5 53.8L644.5 62.6M654.5 53.8L711.7 70M654.5 53.8L662.6 92.1M654.5 53.8L663.6 121M654.5 53.8L671.2 141.2M654.5 53.8L705 150.5M685.7 52.1L745.2 61.4M685.7 52.1L662.4 68.8M685.7 52.1L678.1 72.4M685.7 52.1L680.7 91.4M745.2 61.4L711.7 70M745.2 61.4L706.7 97.1M745.2 61.4L714.8 114M745.2 61.4L720 133.8M644.5 62.6L676.9 100.5M644.5 62.6L618.3 148.1M644.5 62.6L705 150.5M644.5 62.6L546.7 179M644.5 62.6L576.2 173.6M644.5 62.6L532.4 196.4M662.4 68.8L711.7 70M662.4 68.8L623.1 125.5M662.4 68.8L637.4 126M662.4 68.8L639 148.6M662.4 68.8L595.5 163.3M662.4 68.8L649.3 165.2M678.1 72.4L711.7 70M678.1 72.4L706.7 97.1M678.1 72.4L642.6 111M678.1 72.4L663.6 121M678.1 72.4L618.3 148.1M678.1 72.4L606.4 179.8M678.1 72.4L617.6 187.6M678.1 72.4L668.1 153.1M678.1 72.4L629.5 163.1M678.1 72.4L676.4 165.5M678.1 72.4L633.3 175.7M678.1 72.4L658.6 181.2M711.7 70L662.6 92.1M711.7 70L680.7 91.4M711.7 70L706.7 97.1M662.6 92.1L682.6 119.8M662.6 92.1L530 165.5M662.6 92.1L617.6 187.6M662.6 92.1L658.6 181.2M662.6 92.1L641 222.6M680.7 91.4L714.8 114M680.7 91.4L682.6 119.8M680.7 91.4L623.1 125.5M680.7 91.4L671.2 141.2M680.7 91.4L692.4 143.1M680.7 91.4L618.3 148.1M680.7 91.4L639 148.6M680.7 91.4L589.5 150.7M680.7 91.4L649.3 165.2M631.9 98.8L682.6 119.8M631.9 98.8L639 148.6M631.9 98.8L705 150.5M631.9 98.8L676.4 165.5M631.9 98.8L696.2 175.5M631.9 98.8L637.6 189.5M676.9 100.5L605.5 150.5M676.9 100.5L576.2 173.6M676.9 100.5L600.7 198.8M706.7 97.1L642.6 111M706.7 97.1L637.4 126M706.7 97.1L756.2 132.1M706.7 97.1L720 133.8M706.7 97.1L605.5 150.5M706.7 97.1L586 205.5M706.7 97.1L668.1 153.1M706.7 97.1L649.3 165.2M706.7 97.1L633.3 175.7M642.6 111L714.8 114M642.6 111L637.4 126M642.6 111L571.7 155.7M642.6 111L576.2 173.6M642.6 111L673.6 183.6M714.8 114L756.2 132.1M714.8 114L720 133.8M714.8 114L692.4 143.1M714.8 114L629.5 163.1M714.8 114L649.3 165.2M714.8 114L696.2 175.5M714.8 114L633.3 175.7M714.8 114L658.6 181.2M714.8 114L673.6 183.6M714.8 114L633.8 208.8M714.8 114L641 222.6M663.6 121L671.2 141.2M663.6 121L618.3 148.1M663.6 121L576.2 173.6M663.6 121L609.5 219.8M663.6 121L629.5 163.1M663.6 121L649.3 165.2M663.6 121L637.6 189.5M682.6 119.8L720 133.8M682.6 119.8L671.2 141.2M682.6 119.8L673.6 183.6M623.1 125.5L519.8 158.3M623.1 125.5L530 165.5M623.1 125.5L589.5 150.7M623.1 125.5L546.7 179M623.1 125.5L617.6 187.6M623.1 125.5L532.4 196.4M623.1 125.5L553.1 205M623.1 125.5L649.3 165.2M623.1 125.5L641 222.6M637.4 126L692.4 143.1M637.4 126L595.5 163.3M637.4 126L586 205.5M637.4 126L668.1 153.1M637.4 126L622.4 222.4M650.5 132.1L595.5 163.3M650.5 132.1L514.3 183.8M650.5 132.1L576.2 173.6M650.5 132.1L606.4 179.8M650.5 132.1L532.4 196.4M650.5 132.1L586 205.5M650.5 132.1L600.7 198.8M650.5 132.1L637.6 189.5M650.5 132.1L622.4 222.4M756.2 132.1L720 133.8M756.2 132.1L692.4 143.1M756.2 132.1L732.4 155.5M720 133.8L692.4 143.1M720 133.8L705 150.5M671.2 141.2L546.7 179M671.2 141.2L606.4 179.8M671.2 141.2L649.3 165.2M671.2 141.2L696.2 175.5M671.2 141.2L628.8 193.6M671.2 141.2L633.8 208.8M671.2 141.2L662.9 217.4M692.4 143.1L589.5 150.7M692.4 143.1L595.5 163.3M692.4 143.1L565.5 183.3M692.4 143.1L609.5 219.8M692.4 143.1L696.2 175.5M692.4 143.1L633.3 175.7M692.4 143.1L637.6 189.5M692.4 143.1L633.8 208.8M618.3 148.1L514.3 183.8M618.3 148.1L576.2 173.6M618.3 148.1L591.7 218.8M618.3 148.1L696.2 175.5M639 148.6L530 165.5M639 148.6L571.7 155.7M639 148.6L546.7 179M639 148.6L553.1 205M639 148.6L658.6 181.2M639 148.6L637.6 189.5M705 150.5L591.7 218.8M705 150.5L732.4 155.5M705 150.5L628.8 193.6M705 150.5L712.4 189.8M705 150.5L633.8 208.8M705 150.5L662.9 217.4M705 150.5L700 250.2M519.8 158.3L496 165.7M519.8 158.3L460.2 178.8M519.8 158.3L565.5 183.3M519.8 158.3L502.9 211.7M519.8 158.3L600.7 198.8M519.8 158.3L633.3 175.7M496 165.7L530 165.5M496 165.7L460.2 178.8M496 165.7L514.3 183.8M530 165.5L617.6 187.6M530 165.5L502.9 211.7M530 165.5L586 205.5M530 165.5L649.3 165.2M530 165.5L633.3 175.7M553.1 158.6L565.5 183.3M553.1 158.6L617.6 187.6M553.1 158.6L553.1 205M553.1 158.6L600.7 198.8M553.1 158.6L629.5 163.1M553.1 158.6L673.6 183.6M553.1 158.6L633.8 208.8M553.1 158.6L622.4 222.4M571.7 155.7L606.4 179.8M571.7 155.7L586 205.5M571.7 155.7L668.1 153.1M571.7 155.7L649.3 165.2M571.7 155.7L637.6 189.5M571.7 155.7L662.9 217.4M589.5 150.7L546.7 179M589.5 150.7L617.6 187.6M589.5 150.7L649.3 165.2M589.5 150.7L658.6 181.2M589.5 150.7L662.9 217.4M589.5 150.7L641 222.6M605.5 150.5L514.3 183.8M605.5 150.5L553.1 205M605.5 150.5L586 205.5M605.5 150.5L591.7 218.8M605.5 150.5L633.3 175.7M605.5 150.5L658.6 181.2M605.5 150.5L673.6 183.6M605.5 150.5L637.6 189.5M605.5 150.5L628.8 193.6M605.5 150.5L662.9 217.4M595.5 163.3L565.5 183.3M595.5 163.3L532.4 196.4M595.5 163.3L600.7 198.8M595.5 163.3L676.4 165.5M460.2 178.8L514.3 183.8M460.2 178.8L546.7 179M460.2 178.8L502.9 211.7M514.3 183.8L502.9 211.7M514.3 183.8L628.8 193.6M514.3 183.8L622.4 222.4M546.7 179L576.2 173.6M546.7 179L502.9 211.7M546.7 179L571.7 219.3M546.7 179L633.8 208.8M565.5 183.3L606.4 179.8M565.5 183.3L571.7 219.3M565.5 183.3L582.4 243.8M565.5 183.3L668.1 153.1M565.5 183.3L629.5 163.1M565.5 183.3L673.6 183.6M565.5 183.3L637.6 189.5M576.2 173.6L606.4 179.8M576.2 173.6L668.1 153.1M576.2 173.6L629.5 163.1M576.2 173.6L622.4 222.4M606.4 179.8L676.4 165.5M606.4 179.8L662.9 217.4M606.4 179.8L622.4 222.4M617.6 187.6L553.1 205M617.6 187.6L662.9 217.4M532.4 196.4L502.9 211.7M532.4 196.4L668.1 153.1M532.4 196.4L637.6 189.5M532.4 196.4L641 222.6M553.1 205L600.7 198.8M553.1 205L571.7 219.3M553.1 205L673.6 183.6M502.9 211.7L571.7 219.3M586 205.5L582.4 243.8M586 205.5L658.6 181.2M586 205.5L641 222.6M600.7 198.8L582.4 243.8M571.7 219.3L591.7 218.8M571.7 219.3L582.4 243.8M571.7 219.3L632.6 253.8M591.7 218.8L582.4 243.8M591.7 218.8L637.6 189.5M591.7 218.8L628.8 193.6M591.7 218.8L633.8 208.8M591.7 218.8L641 222.6M609.5 219.8L582.4 243.8M609.5 219.8L668.1 153.1M609.5 219.8L673.6 183.6M609.5 219.8L622.4 222.4M609.5 219.8L632.6 253.8M582.4 243.8L666 276.2M732.4 155.5L668.1 153.1M732.4 155.5L676.4 165.5M732.4 155.5L696.2 175.5M732.4 155.5L712.4 189.8M668.1 153.1L641 222.6M649.3 165.2L676.4 165.5M649.3 165.2L641 222.6M676.4 165.5L633.3 175.7M676.4 165.5L637.6 189.5M676.4 165.5L712.4 189.8M696.2 175.5L712.4 189.8M696.2 175.5L730 211.7M696.2 175.5L695 221M696.2 175.5L766.7 236.4M633.3 175.7L673.6 183.6M633.3 175.7L641 222.6M658.6 181.2L730 211.7M673.6 183.6L730 211.7M673.6 183.6L695 221M673.6 183.6L622.4 222.4M673.6 183.6L700 250.2M628.8 193.6L662.9 217.4M712.4 189.8L730 211.7M712.4 189.8L695 221M712.4 189.8L766.7 236.4M633.8 208.8L622.4 222.4M633.8 208.8L632.6 253.8M730 211.7L662.9 217.4M730 211.7L695 221M730 211.7L766.7 236.4M662.9 217.4L695 221M662.9 217.4L632.6 253.8M662.9 217.4L666 276.2M695 221L641 222.6M695 221L700 250.2M695 221L632.6 253.8M695 221L666 276.2M622.4 222.4L632.6 253.8M641 222.6L700 250.2M641 222.6L632.6 253.8M641 222.6L666 276.2M632.6 253.8L666 276.2" stroke="#808080" stroke-width="0.8" fill="none" stroke-opacity="0.85"/>
<g fill="#a3b6d8" stroke="#2b303a" stroke-width="0.9">
<circle cx="595.2" cy="23.8" r="2.9"/>
<circle cx="561.2" cy="38.1" r="2.9"/>
<circle cx="541.2" cy="59" r="2.9"/>
<circle cx="488.8" cy="65.2" r="2.9"/>
<circle cx="586.9" cy="58.3" r="2.9"/>
<circle cx="612.9" cy="52.1" r="2.9"/>
<circle cx="597.1" cy="68.6" r="2.9"/>
<circle cx="606.7" cy="78.1" r="2.9"/>
<circle cx="557.6" cy="80.2" r="2.9"/>
<circle cx="579.5" cy="80.5" r="2.9"/>
<circle cx="616.7" cy="86.7" r="2.9"/>
<circle cx="597.1" cy="91.9" r="2.9"/>
<circle cx="546.9" cy="104.5" r="2.9"/>
<circle cx="504.3" cy="116.4" r="2.9"/>
<circle cx="571.9" cy="111" r="2.9"/>
<circle cx="593.3" cy="111" r="2.9"/>
<circle cx="617.4" cy="109.3" r="2.9"/>
<circle cx="567.1" cy="121.9" r="2.9"/>
<circle cx="590.5" cy="122.4" r="2.9"/>
<circle cx="557.9" cy="135.7" r="2.9"/>
<circle cx="571.7" cy="133.8" r="2.9"/>
<circle cx="598.3" cy="131.9" r="2.9"/>
<circle cx="582.4" cy="140" r="2.9"/>
<circle cx="613.1" cy="137.4" r="2.9"/>
<circle cx="527.4" cy="144" r="2.9"/>
<circle cx="541.7" cy="147.4" r="2.9"/>
<circle cx="621.9" cy="38.8" r="2.9"/>
<circle cx="658.6" cy="33.3" r="2.9"/>
<circle cx="654.5" cy="53.8" r="2.9"/>
<circle cx="685.7" cy="52.1" r="2.9"/>
<circle cx="745.2" cy="61.4" r="2.9"/>
<circle cx="644.5" cy="62.6" r="2.9"/>
<circle cx="662.4" cy="68.8" r="2.9"/>
<circle cx="678.1" cy="72.4" r="2.9"/>
<circle cx="711.7" cy="70" r="2.9"/>
<circle cx="662.6" cy="92.1" r="2.9"/>
<circle cx="680.7" cy="91.4" r="2.9"/>
<circle cx="631.9" cy="98.8" r="2.9"/>
<circle cx="676.9" cy="100.5" r="2.9"/>
<circle cx="706.7" cy="97.1" r="2.9"/>
<circle cx="642.6" cy="111" r="2.9"/>
<circle cx="714.8" cy="114" r="2.9"/>
<circle cx="663.6" cy="121" r="2.9"/>
<circle cx="682.6" cy="119.8" r="2.9"/>
<circle cx="623.1" cy="125.5" r="2.9"/>
<circle cx="637.4" cy="126" r="2.9"/>
<circle cx="650.5" cy="132.1" r="2.9"/>
<circle cx="756.2" cy="132.1" r="2.9"/>
<circle cx="720" cy="133.8" r="2.9"/>
<circle cx="671.2" cy="141.2" r="2.9"/>
<circle cx="692.4" cy="143.1" r="2.9"/>
<circle cx="618.3" cy="148.1" r="2.9"/>
<circle cx="639" cy="148.6" r="2.9"/>
<circle cx="705" cy="150.5" r="2.9"/>
<circle cx="519.8" cy="158.3" r="2.9"/>
<circle cx="496" cy="165.7" r="2.9"/>
<circle cx="530" cy="165.5" r="2.9"/>
<circle cx="553.1" cy="158.6" r="2.9"/>
<circle cx="571.7" cy="155.7" r="2.9"/>
<circle cx="589.5" cy="150.7" r="2.9"/>
<circle cx="605.5" cy="150.5" r="2.9"/>
<circle cx="595.5" cy="163.3" r="2.9"/>
<circle cx="460.2" cy="178.8" r="2.9"/>
<circle cx="514.3" cy="183.8" r="2.9"/>
<circle cx="546.7" cy="179" r="2.9"/>
<circle cx="565.5" cy="183.3" r="2.9"/>
<circle cx="576.2" cy="173.6" r="2.9"/>
<circle cx="606.4" cy="179.8" r="2.9"/>
<circle cx="617.6" cy="187.6" r="2.9"/>
<circle cx="532.4" cy="196.4" r="2.9"/>
<circle cx="553.1" cy="205" r="2.9"/>
<circle cx="502.9" cy="211.7" r="2.9"/>
<circle cx="586" cy="205.5" r="2.9"/>
<circle cx="600.7" cy="198.8" r="2.9"/>
<circle cx="571.7" cy="219.3" r="2.9"/>
<circle cx="591.7" cy="218.8" r="2.9"/>
<circle cx="609.5" cy="219.8" r="2.9"/>
<circle cx="582.4" cy="243.8" r="2.9"/>
<circle cx="732.4" cy="155.5" r="2.9"/>
<circle cx="668.1" cy="153.1" r="2.9"/>
<circle cx="629.5" cy="163.1" r="2.9"/>
<circle cx="649.3" cy="165.2" r="2.9"/>
<circle cx="676.4" cy="165.5" r="2.9"/>
<circle cx="696.2" cy="175.5" r="2.9"/>
<circle cx="633.3" cy="175.7" r="2.9"/>
<circle cx="658.6" cy="181.2" r="2.9"/>
<circle cx="673.6" cy="183.6" r="2.9"/>
<circle cx="637.6" cy="189.5" r="2.9"/>
<circle cx="628.8" cy="193.6" r="2.9"/>
<circle cx="712.4" cy="189.8" r="2.9"/>
<circle cx="633.8" cy="208.8" r="2.9"/>
<circle cx="730" cy="211.7" r="2.9"/>
<circle cx="662.9" cy="217.4" r="2.9"/>
<circle cx="695" cy="221" r="2.9"/>
<circle cx="622.4" cy="222.4" r="2.9"/>
<circle cx="641" cy="222.6" r="2.9"/>
<circle cx="766.7" cy="236.4" r="2.9"/>
<circle cx="700" cy="250.2" r="2.9"/>
<circle cx="632.6" cy="253.8" r="2.9"/>
<circle cx="666" cy="276.2" r="2.9"/>
</g>
<!-- panel c -->
<rect x="535.2" y="322.6" width="161.4" height="175.8" fill="#d9d9d9"/>
<line x1="485.5" y1="439.1" x2="769.7" y2="439.1" stroke="#4a4a4a" stroke-width="1.2"/>
<g fill="none" stroke-width="2.3" stroke-linejoin="round" stroke-linecap="butt">
<polyline points="491.4,489.5 491.5,465.8 492.2,465.0 546.0,438.1 546.2,437.9 547.0,437.5 547.9,446.6 548.7,446.6 549.5,446.3 550.3,446.2 551.1,446.7 552.0,447.5 552.8,445.8 553.6,443.1 554.4,443.4 555.3,442.1 556.1,443.4 556.9,442.1 557.7,440.9 558.5,440.4 559.4,441.0 560.2,442.2 561.0,442.7 561.8,442.3 562.6,441.5 563.5,441.1 564.3,441.2 565.1,441.2 565.9,440.5 566.7,443.8 567.6,441.9 568.4,441.7 569.2,445.3 570.0,444.3 570.8,445.1 571.7,445.8 572.5,444.2 573.3,443.5 574.1,442.7 574.9,443.1 575.8,441.0 576.6,440.1 577.4,442.8 578.2,442.5 579.0,443.5 579.9,442.4 580.7,441.9 581.5,445.2 582.3,444.5 583.1,443.6 584.0,444.2 584.8,445.5 585.6,444.5 586.4,442.9 587.3,444.7 588.1,442.8 588.9,441.5 589.7,441.3 590.5,443.7 591.4,445.6 592.2,446.1 593.0,446.5 593.8,443.6 594.6,442.3 595.5,441.8 596.3,441.3 597.1,440.4 597.9,439.7 598.7,440.0 599.6,446.7 600.4,445.4 601.2,446.3 602.0,445.7 602.8,443.7 603.7,442.9 604.5,442.5 605.3,441.7 606.1,442.5 606.9,443.9 607.8,443.6 608.6,442.9 609.4,442.8 610.2,444.2 611.0,444.0 611.9,444.9 612.7,443.2 613.5,443.2 614.3,442.2 615.1,438.2 616.0,434.6 616.8,431.9 617.1,430.1 617.4,427.8 617.8,428.6 618.1,423.4 618.4,416.3 618.6,412.4 618.7,407.6 618.8,401.5 619.0,393.8 619.1,382.9 619.2,368.0 691.1,368.0 764.9,330.7" stroke="#5E81B5"/>
<polyline points="491.4,468.1 491.5,465.8 492.2,465.0 546.0,438.1 546.2,437.9 547.0,437.5 547.9,446.7 548.7,446.5 549.5,447.6 550.3,448.5 551.1,446.7 552.0,444.9 552.8,443.3 553.6,441.8 554.4,443.5 555.3,441.5 556.1,441.5 556.9,439.5 557.7,439.8 558.5,441.5 559.4,442.7 560.2,442.5 561.0,441.5 561.8,441.0 562.6,441.4 563.5,441.5 564.3,440.3 565.1,438.4 565.9,437.4 566.7,443.0 567.6,442.8 568.4,442.7 569.2,447.7 570.0,444.6 570.8,445.5 571.7,445.9 572.5,444.6 573.3,442.4 574.1,439.7 574.9,440.4 575.8,439.9 576.6,440.3 577.4,442.6 578.2,441.1 579.0,443.4 579.9,443.2 580.7,444.0 581.5,447.3 582.3,444.3 583.1,441.4 584.0,441.5 584.8,446.6 585.6,446.1 586.4,442.7 587.3,443.6 588.1,441.6 588.9,442.0 589.7,443.3 590.5,444.8 591.4,444.8 592.2,443.2 593.0,445.6 593.8,443.9 594.6,442.2 595.5,440.1 596.3,438.2 597.1,438.0 597.9,439.5 598.7,441.3 599.6,446.5 600.4,444.0 601.2,444.4 602.0,444.9 602.8,444.2 603.7,442.8 604.5,440.3 605.3,438.3 606.1,439.5 606.9,441.4 607.8,443.9 608.6,442.5 609.4,441.3 610.2,442.4 611.0,444.0 611.9,446.6 612.7,444.6 613.5,442.9 614.3,442.5 615.1,440.7 616.0,440.5 616.8,441.2 617.6,439.9 618.4,442.4 619.2,448.2 620.1,446.6 620.9,445.9 621.7,444.4 622.5,442.2 623.4,440.7 624.2,440.5 625.0,441.6 625.8,441.9 626.6,439.5 627.5,438.3 628.3,439.1 629.1,441.0 629.9,442.3 630.7,444.8 631.6,444.2 632.4,442.8 633.2,443.8 634.0,446.7 634.8,443.3 635.7,441.2 636.5,438.5 637.3,438.0 638.1,438.4 638.9,440.4 639.8,439.7 640.6,435.9 641.4,433.8 641.7,431.8 642.1,429.3 642.4,427.1 642.7,421.8 643.0,413.9 643.2,409.4 643.3,403.8 643.5,396.4 643.6,386.6 643.7,368.0 691.1,368.0 764.9,330.7" stroke="#E19C24"/>
<polyline points="491.4,451.6 491.5,465.8 492.2,465.0 546.0,438.1 546.2,437.9 547.0,437.5 547.9,447.1 548.7,445.7 549.5,447.6 550.3,446.9 551.1,445.9 552.0,445.1 552.8,445.0 553.6,444.0 554.4,445.4 555.3,443.2 556.1,443.2 556.9,441.8 557.7,441.4 558.5,441.1 559.4,440.8 560.2,440.5 561.0,440.6 561.8,441.3 562.6,441.9 563.5,441.9 564.3,441.4 565.1,440.9 565.9,440.8 566.7,445.0 567.6,443.1 568.4,441.6 569.2,447.0 570.0,444.3 570.8,444.5 571.7,444.7 572.5,443.5 573.3,442.4 574.1,441.8 574.9,444.9 575.8,443.5 576.6,442.2 577.4,443.8 578.2,441.9 579.0,444.0 579.9,442.9 580.7,442.4 581.5,443.3 582.3,442.3 583.1,441.9 584.0,443.7 584.8,448.4 585.6,447.3 586.4,444.0 587.3,443.5 588.1,442.2 588.9,441.7 589.7,441.4 590.5,444.4 591.4,444.2 592.2,445.0 593.0,447.8 593.8,445.6 594.6,443.7 595.5,442.2 596.3,441.3 597.1,441.0 597.9,440.9 598.7,440.6 599.6,446.3 600.4,443.2 601.2,442.7 602.0,443.1 602.8,440.9 603.7,438.4 604.5,435.6 605.3,432.1 605.6,431.9 606.0,429.3 606.3,426.0 606.6,421.7 606.9,416.9 607.3,406.3 607.4,399.9 607.5,391.3 607.7,380.0 607.8,368.0 691.1,368.0 764.9,330.7" stroke="#8FB032"/>
<polyline points="491.4,489.5 491.5,465.8 492.2,465.0 546.0,438.1 546.2,437.9 547.0,437.5 547.9,450.9 548.7,450.2 549.5,450.5 550.3,448.7 551.1,447.0 552.0,445.4 552.8,444.7 553.6,442.7 554.4,445.1 555.3,444.0 556.1,445.8 556.9,443.9 557.7,442.5 558.5,441.9 559.4,441.7 560.2,441.4 561.0,440.8 561.8,440.1 562.6,439.9 563.5,440.4 564.3,441.0 565.1,441.3 565.9,441.2 566.7,447.4 567.6,445.0 568.4,443.8 569.2,447.5 570.0,444.4 570.8,444.3 571.7,444.9 572.5,443.2 573.3,442.4 574.1,441.7 574.9,444.5 575.8,443.1 576.6,442.6 577.4,444.7 578.2,443.4 579.0,446.0 579.9,443.4 580.7,442.0 581.5,443.9 582.3,442.6 583.1,441.5 584.0,443.3 584.8,445.4 585.6,446.0 586.4,444.6 587.3,446.9 588.1,444.3 588.9,442.7 589.7,442.0 590.5,443.8 591.4,444.7 592.2,443.6 593.0,447.0 593.8,444.2 594.6,443.2 595.5,442.8 596.3,442.3 597.1,441.7 597.9,441.5 598.7,441.6 599.6,446.6 600.4,444.1 601.2,444.7 602.0,444.1 602.8,442.5 603.7,442.0 604.5,441.8 605.3,441.4 606.1,443.3 606.9,445.5 607.8,448.4 608.6,445.8 609.4,443.8 610.2,443.4 611.0,443.1 611.9,446.3 612.7,444.0 613.5,445.6 614.3,445.2 615.1,443.1 616.0,442.5 616.8,444.9 617.6,443.8 618.4,447.1 619.2,454.4 620.1,448.5 620.9,445.3 621.7,443.4 622.5,442.1 623.4,440.9 624.2,440.5 625.0,443.7 625.8,445.8 626.6,444.2 627.5,443.0 628.3,442.1 629.1,441.7 629.9,441.7 630.7,443.2 631.6,445.9 632.4,443.1 633.2,444.3 634.0,447.9 634.8,445.3 635.7,446.3 636.5,444.0 637.3,442.8 638.1,442.4 638.9,444.7 639.8,447.4 640.6,444.3 641.4,444.6 642.2,444.5 643.0,442.9 643.9,450.2 644.7,446.2 645.5,445.7 646.3,443.7 647.1,443.1 648.0,445.7 648.8,444.1 649.6,447.8 650.4,444.5 651.2,442.7 652.1,441.9 652.9,441.4 653.7,440.8 654.5,440.4 655.4,440.5 656.2,441.1 657.0,441.6 657.8,441.2 658.6,440.2 659.5,444.2 660.3,440.9 661.1,438.3 661.9,435.2 662.7,434.1 663.1,431.3 663.4,428.2 663.7,424.4 664.0,419.5 664.4,412.4 664.5,408.2 664.7,403.0 664.8,396.0 664.9,386.6 665.1,368.0 691.1,368.0 764.9,330.7" stroke="#EB6235"/>
<polyline points="491.4,446.5 491.5,465.8 492.2,465.0 546.0,438.1 546.2,437.9 547.0,437.5 547.9,450.3 548.7,449.4 549.5,446.7 550.3,444.9 551.1,446.2 552.0,447.1 552.8,448.0 553.6,445.4 554.4,445.6 555.3,444.6 556.1,446.0 556.9,444.2 557.7,441.6 558.5,439.4 559.4,439.0 560.2,440.2 561.0,441.6 561.8,441.9 562.6,441.5 563.5,441.8 564.3,443.1 565.1,444.2 565.9,443.6 566.7,447.4 567.6,443.1 568.4,441.4 569.2,447.4 570.0,444.9 570.8,444.0 571.7,444.4 572.5,443.5 573.3,444.4 574.1,445.2 574.9,448.0 575.8,444.7 576.6,442.3 577.4,444.0 578.2,443.0 579.0,443.1 579.9,440.9 580.7,439.6 581.5,444.1 582.3,444.5 583.1,445.0 584.0,445.3 584.8,450.0 585.6,448.9 586.4,446.4 587.3,446.2 588.1,443.5 588.9,440.7 589.7,439.1 590.5,443.1 591.4,446.9 592.2,447.5 593.0,448.6 593.8,445.6 594.6,444.6 595.5,444.8 596.3,444.5 597.1,442.7 597.9,440.3 598.7,439.0 599.6,443.2 600.4,442.8 601.2,445.2 602.0,446.4 602.8,444.1 603.7,444.1 604.5,445.0 605.3,445.1 606.1,444.6 606.9,444.9 607.8,445.5 608.6,443.6 609.4,442.6 610.2,442.2 611.0,443.2 611.9,443.5 612.7,443.6 613.5,446.0 614.3,446.8 615.1,444.7 616.0,442.9 616.8,443.2 617.6,442.8 618.4,445.5 619.2,449.3 620.1,444.0 620.9,441.8 621.7,442.2 622.5,443.4 623.4,443.6 624.2,442.9 625.0,444.0 625.8,447.2 626.6,446.0 627.5,444.3 628.3,441.7 629.1,439.5 629.9,439.1 630.7,441.7 631.6,442.8 632.4,441.3 633.2,440.9 634.0,441.7 634.8,439.6 635.7,439.0 636.0,436.8 636.3,434.1 636.6,430.9 637.0,426.8 637.3,421.7 637.6,414.8 637.8,411.1 637.9,406.5 638.0,400.7 638.2,393.1 638.3,382.7 638.4,368.0 691.1,368.0 764.9,330.7" stroke="#8778B3"/>
<polyline points="491.4,476.5 491.5,465.8 492.2,465.0 546.0,438.1 546.2,437.9 547.0,437.5 547.9,443.4 548.7,443.7 549.5,444.3 550.3,444.5 551.1,444.9 552.0,445.2 552.8,445.2 553.6,444.1 554.4,445.9 555.3,445.4 556.1,445.8 556.9,443.8 557.7,442.1 558.5,441.4 559.4,441.7 560.2,442.1 561.0,441.9 561.8,441.7 562.6,442.0 563.5,443.0 564.3,443.9 565.1,443.9 565.9,443.0 566.7,444.7 567.6,443.4 568.4,442.9 569.2,445.0 570.0,443.1 570.8,442.8 571.7,443.7 572.5,443.9 573.3,444.4 574.1,444.1 574.9,444.7 575.8,443.5 576.6,443.2 577.4,443.8 578.2,442.9 579.0,442.7 579.9,441.4 580.7,441.4 581.5,443.9 582.3,443.9 583.1,443.6 584.0,444.1 584.8,446.6 585.6,446.1 586.4,445.2 587.3,445.0 588.1,442.9 588.9,441.6 589.7,441.4 590.5,443.7 591.4,444.6 592.2,444.0 593.0,445.4 593.8,444.6 594.6,444.7 595.5,444.7 596.3,443.8 597.1,442.5 597.9,441.6 598.7,441.6 599.6,444.9 600.4,443.5 601.2,443.3 602.0,443.4 602.8,443.4 603.7,444.1 604.5,444.4 605.3,443.8 606.1,443.5 606.9,444.0 607.8,445.2 608.6,444.1 609.4,442.7 610.2,442.5 611.0,442.3 611.9,443.4 612.7,443.8 613.5,445.2 614.3,445.2 615.1,443.9 616.0,443.6 616.8,444.5 617.6,443.8 618.4,443.8 619.2,444.8 620.1,442.9 620.9,442.6 621.7,442.9 622.5,442.9 623.4,442.6 624.2,442.6 625.0,443.9 625.8,446.0 626.6,444.9 627.5,443.4 628.3,441.9 629.1,441.4 629.9,441.7 630.7,443.1 631.6,444.2 632.4,442.9 633.2,444.0 634.0,446.4 634.8,445.9 635.7,445.7 636.5,444.1 637.3,442.8 638.1,442.3 638.9,443.4 639.8,444.6 640.6,442.8 641.4,442.3 642.2,443.6 643.0,443.8 643.9,448.8 644.7,446.6 645.5,445.4 646.3,444.0 647.1,443.6 648.0,445.0 648.8,443.6 649.6,444.0 650.4,442.2 651.2,441.8 652.1,442.5 652.9,443.0 653.7,443.0 654.5,442.7 655.4,442.9 656.2,443.5 657.0,443.7 657.8,443.1 658.6,441.8 659.5,443.4 660.3,442.5 661.1,442.6 661.9,442.5 662.7,443.7 663.6,442.9 664.4,443.2 665.2,445.7 666.0,446.5 666.8,447.7 667.7,444.8 668.5,446.2 669.3,444.2 670.1,442.7 670.9,442.6 671.8,441.2 672.6,440.1 673.4,438.4 674.2,436.5 675.0,433.8 675.4,431.2 675.7,427.9 676.0,425.1 676.4,418.3 676.7,408.7 676.8,402.5 677.0,394.4 677.1,383.8 677.2,368.0 691.1,368.0 764.9,330.7" stroke="#C56E1A"/>
<polyline points="491.4,464.2 491.5,465.8 492.2,465.0 546.0,438.1 546.2,437.9 547.0,437.5 547.9,442.4 548.7,442.8 549.5,443.5 550.3,442.2 551.1,442.3 552.0,443.7 552.8,446.2 553.6,446.0 554.4,446.2 555.3,443.8 556.1,444.0 556.9,443.4 557.7,442.6 558.5,440.9 559.4,439.2 560.2,439.1 561.0,440.9 561.8,442.8 562.6,443.5 563.5,443.0 564.3,442.6 565.1,443.1 565.9,443.7 566.7,444.8 567.6,442.1 568.4,439.8 569.2,441.5 570.0,441.8 570.8,443.4 571.7,443.5 572.5,442.6 573.3,442.6 574.1,443.8 574.9,446.6 575.8,445.2 576.6,442.7 577.4,441.1 578.2,440.4 579.0,442.3 579.9,442.0 580.7,441.1 581.5,441.7 582.3,442.0 583.1,443.7 584.0,445.8 584.8,446.7 585.6,444.8 586.4,442.6 587.3,443.1 588.1,442.6 588.9,441.6 589.7,440.0 590.5,440.6 591.4,441.7 592.2,444.3 593.0,446.6 593.8,445.4 594.6,443.8 595.5,443.0 596.3,443.3 597.1,443.3 597.9,441.9 598.7,439.8 599.6,441.2 600.4,441.0 601.2,443.8 602.0,444.8 602.8,443.7 603.7,442.9 604.5,443.3 605.3,444.3 606.1,445.0 606.9,444.0 607.8,442.8 608.6,440.6 609.4,440.6 610.2,442.0 611.0,442.6 611.9,443.2 612.7,442.3 613.5,444.3 614.3,446.5 615.1,446.1 616.0,444.3 616.8,443.0 617.6,441.5 618.4,443.0 619.2,445.6 620.1,443.0 620.9,440.9 621.7,440.5 622.5,442.1 623.4,444.0 624.2,444.6 625.0,444.5 625.8,443.6 626.6,442.8 627.5,442.9 628.3,442.4 629.1,440.7 629.9,439.0 630.7,440.0 631.6,442.7 632.4,443.8 633.2,444.7 634.0,444.9 634.8,443.8 635.7,444.8 636.5,444.9 637.3,443.8 638.1,441.5 638.9,440.7 639.8,441.1 640.6,441.5 641.4,442.9 642.2,443.6 643.0,442.5 643.9,446.6 644.7,446.3 645.5,447.1 646.3,445.5 647.1,442.9 648.0,442.5 648.8,441.3 649.6,442.9 650.4,442.2 651.2,440.9 652.1,440.2 652.9,441.1 653.7,443.2 654.5,444.7 655.4,444.4 656.2,442.8 657.0,441.7 657.8,441.4 658.6,441.0 659.5,441.0 660.3,437.9 661.1,435.7 661.9,434.8 662.7,435.5 663.1,434.3 663.4,432.5 663.7,430.0 664.0,426.5 664.4,421.6 664.7,414.5 664.8,410.4 665.0,405.3 665.1,398.8 665.3,389.8 665.4,368.0 691.1,368.0 764.9,330.7" stroke="#5D9EC7"/>
<polyline points="491.4,469.8 491.5,465.8 492.2,465.0 546.0,438.1 546.2,437.9 547.0,437.5 547.9,443.7 548.7,443.8 549.5,444.1 550.3,443.8 551.1,444.1 552.0,443.6 552.8,443.3 553.6,442.7 554.4,444.7 555.3,445.1 556.1,445.9 556.9,443.0 557.7,440.7 558.5,440.1 559.4,440.4 560.2,440.5 561.0,439.7 561.8,439.2 562.6,440.1 563.5,442.2 564.3,443.8 565.1,443.6 565.9,442.2 566.7,445.3 567.6,443.6 568.4,442.8 569.2,445.4 570.0,441.8 570.8,441.6 571.7,443.0 572.5,443.5 573.3,444.0 574.1,443.5 574.9,445.0 575.8,443.7 576.6,443.6 577.4,444.7 578.2,442.6 579.0,441.9 579.9,439.7 580.7,439.7 581.5,441.9 582.3,442.2 583.1,441.8 584.0,442.4 584.8,446.4 585.6,446.6 586.4,445.7 587.3,445.1 588.1,441.8 588.9,440.0 589.7,440.0 590.5,441.5 591.4,442.9 592.2,441.9 593.0,443.2 593.8,443.4 594.6,444.5 595.5,444.7 596.3,443.3 597.1,441.5 597.9,440.6 598.7,440.8 599.6,444.2 600.4,441.8 601.2,440.8 602.0,441.8 602.8,442.3 603.7,443.6 604.5,444.0 605.3,443.0 606.1,443.1 606.9,444.9 607.8,446.4 608.6,444.2 609.4,441.5 610.2,440.2 611.0,440.6 611.9,442.7 612.7,443.1 613.5,444.8 614.3,444.3 615.1,443.2 616.0,443.6 616.8,445.5 617.6,444.1 618.4,444.0 619.2,445.8 620.1,442.7 620.9,442.0 621.7,441.9 622.5,441.3 623.4,440.7 624.2,441.2 625.0,444.0 625.8,446.7 626.6,445.1 627.5,442.7 628.3,440.7 629.1,440.2 629.9,440.6 630.7,441.9 631.6,442.5 632.4,440.7 633.2,442.0 634.0,446.8 634.8,446.4 635.7,446.3 636.5,443.9 637.3,442.3 638.1,442.0 638.9,443.9 639.8,443.5 640.6,440.6 641.4,439.9 642.2,442.5 643.0,443.1 643.9,448.7 644.7,446.1 645.5,445.0 646.3,443.8 647.1,443.9 648.0,445.9 648.8,443.3 649.6,443.1 650.4,440.4 651.2,440.2 652.1,441.1 652.9,441.6 653.7,441.2 654.5,441.1 655.4,442.1 656.2,443.5 657.0,443.9 657.8,442.5 658.6,440.4 659.5,442.7 660.3,441.6 661.1,441.5 661.9,440.8 662.7,442.2 663.6,441.1 664.4,441.5 665.2,443.5 666.0,443.9 666.8,445.3 667.7,439.6 668.5,438.7 668.8,436.3 669.1,433.8 669.5,431.1 669.8,427.8 670.1,423.6 670.4,417.8 670.8,409.9 670.9,404.6 671.1,397.8 671.2,388.7 671.4,368.0 691.1,368.0 764.9,330.7" stroke="#FFBF00"/>
<polyline points="491.4,441.9 491.5,465.8 492.2,465.0 546.0,438.1 546.2,437.9 547.0,437.5 547.9,448.0 548.7,446.7 549.5,446.4 550.3,446.5 551.1,447.9 552.0,447.8 552.8,448.0 553.6,445.5 554.4,447.7 555.3,445.9 556.1,446.9 556.9,444.3 557.7,442.0 558.5,440.9 559.4,441.4 560.2,442.5 561.0,443.1 561.8,442.8 562.6,442.6 563.5,443.1 564.3,443.9 565.1,443.8 565.9,442.6 566.7,446.1 567.6,443.4 568.4,442.7 569.2,446.0 570.0,444.4 570.8,444.2 571.7,446.0 572.5,445.4 573.3,445.5 574.1,445.0 574.9,446.0 575.8,443.5 576.6,442.4 577.4,444.2 578.2,443.2 579.0,445.3 579.9,443.1 580.7,442.5 581.5,445.2 582.3,445.4 583.1,445.0 584.0,445.9 584.8,448.9 585.6,448.0 586.4,445.9 587.3,445.4 588.1,443.0 588.9,441.3 589.7,441.2 590.5,445.1 591.4,447.4 592.2,447.9 593.0,448.9 593.8,446.3 594.6,445.4 595.5,444.9 596.3,443.7 597.1,442.0 597.9,440.7 598.7,440.6 599.6,444.7 600.4,444.1 601.2,445.0 602.0,446.8 602.8,445.3 603.7,445.3 604.5,445.2 605.3,444.1 606.1,443.8 606.9,442.5 607.8,442.8 608.6,440.5 609.4,438.0 610.2,436.4 611.0,433.4 611.4,430.8 611.7,427.8 612.0,425.2 612.4,419.2 612.7,409.9 612.8,404.3 613.0,396.9 613.1,386.9 613.2,368.0 691.1,368.0 764.9,330.7" stroke="#A5609D"/>
<polyline points="491.4,472.4 491.5,465.8 492.2,465.0 546.0,438.1 546.2,437.9 547.0,437.0 547.9,442.0 548.7,440.9 549.5,442.6 550.3,443.2 551.1,440.9 552.0,436.0 552.3,434.9 552.6,431.2 553.0,427.1 553.3,422.1 553.6,415.2 553.7,411.3 553.9,406.5 554.0,400.3 554.2,392.0 554.3,380.9 554.4,368.0 691.1,368.0 764.9,330.7" stroke="#929600"/>
<polyline points="491.4,489.5 491.5,465.8 492.2,465.0 546.0,438.1 546.2,437.9 547.0,437.5 547.9,443.0 548.7,441.6 549.5,442.6 550.3,443.6 551.1,443.8 552.0,443.7 552.8,443.8 553.6,443.1 554.4,445.1 555.3,444.5 556.1,443.3 556.9,440.5 557.7,438.8 558.5,438.9 559.4,439.5 560.2,439.5 561.0,438.9 561.8,439.0 562.6,440.5 563.5,442.4 564.3,443.2 565.1,442.2 565.9,440.5 566.7,442.9 567.6,441.8 568.4,441.1 569.2,444.2 570.0,440.9 570.8,440.7 571.7,442.6 572.5,443.4 573.3,443.5 574.1,442.5 574.9,442.2 575.8,441.7 576.6,441.8 577.4,443.2 578.2,440.6 579.0,439.2 579.9,438.3 580.7,439.4 581.5,443.1 582.3,442.6 583.1,441.7 584.0,441.8 584.8,444.9 585.6,445.1 586.4,443.6 587.3,442.6 588.1,439.7 588.9,438.6 589.7,439.3 590.5,441.0 591.4,441.5 592.2,441.4 593.0,442.9 593.8,443.4 594.6,444.1 595.5,443.4 596.3,441.4 597.1,439.6 597.9,439.2 598.7,439.6 599.6,442.6 600.4,440.4 601.2,439.9 602.0,441.5 602.8,442.6 603.7,443.6 604.5,443.2 605.3,441.7 606.1,442.3 606.9,443.2 607.8,443.5 608.6,441.5 609.4,439.2 610.2,438.9 611.0,440.6 611.9,442.8 612.7,443.1 613.5,443.8 614.3,443.7 615.1,442.7 616.0,442.9 616.8,444.0 617.6,441.9 618.4,442.0 619.2,445.4 620.1,442.6 620.9,442.1 621.7,441.8 622.5,441.0 623.4,440.5 624.2,441.3 625.0,443.5 625.8,446.1 626.6,443.5 627.5,440.7 628.3,439.1 629.1,439.2 629.9,439.6 630.7,440.5 631.6,440.1 632.4,439.6 633.2,441.8 634.0,445.9 634.8,445.2 635.7,445.0 636.5,442.3 637.3,440.9 638.1,440.8 638.9,442.2 639.8,441.8 640.6,439.3 641.4,439.2 642.2,442.1 643.0,443.0 643.9,447.2 644.7,444.5 645.5,443.2 646.3,442.5 647.1,442.5 648.0,444.0 648.8,441.1 649.6,440.9 650.4,439.3 651.2,439.9 652.1,441.0 652.9,441.2 653.7,440.7 654.5,440.8 655.4,441.9 656.2,442.9 657.0,442.3 657.8,440.4 658.6,438.5 659.5,440.8 660.3,440.5 661.1,440.5 661.9,439.9 662.7,441.6 663.6,441.3 664.4,442.5 665.2,444.8 666.0,444.7 666.8,447.8 667.7,443.5 668.5,445.3 669.3,443.2 670.1,441.5 670.9,441.2 671.8,440.7 672.6,441.9 673.4,441.9 674.2,441.8 675.0,441.1 675.9,439.7 676.7,438.5 677.5,435.0 677.8,432.9 678.2,430.5 678.5,427.4 678.8,423.3 679.1,417.7 679.5,410.2 679.6,405.2 679.7,398.9 679.9,390.6 680.0,379.1 680.1,368.0 691.1,368.0 764.9,330.7" stroke="#E95536"/>
<polyline points="491.4,467.5 491.5,465.8 492.2,465.0 546.0,438.1 546.2,437.9 547.0,437.5 547.9,445.4 548.7,446.3 549.5,449.2 550.3,447.6 551.1,446.2 552.0,446.6 552.8,447.2 553.6,444.0 554.4,444.7 555.3,441.4 556.1,442.7 556.9,443.1 557.7,443.6 558.5,443.0 559.4,442.2 560.2,442.3 561.0,443.1 561.8,443.2 562.6,441.7 563.5,439.6 564.3,438.4 565.1,439.1 565.9,440.4 566.7,446.0 567.6,443.7 568.4,442.5 569.2,446.4 570.0,446.1 570.8,446.6 571.7,446.9 572.5,443.0 573.3,441.0 574.1,440.6 574.9,442.3 575.8,441.2 576.6,440.0 577.4,442.2 578.2,442.0 579.0,444.8 579.9,443.0 580.7,439.9 581.5,438.0 582.3,433.8 582.7,432.1 583.0,430.1 583.3,428.9 583.6,425.1 584.0,419.9 584.3,412.3 584.4,408.7 584.6,403.0 584.7,395.6 584.8,385.8 585.0,368.0 691.1,368.0 764.9,330.7" stroke="#6685D9"/>
<polyline points="491.4,468.2 491.5,465.8 492.2,465.0 546.0,438.1 546.2,437.9 547.0,437.5 547.9,445.2 548.7,444.9 549.5,445.9 550.3,445.4 551.1,444.5 552.0,444.0 552.8,442.4 553.6,440.4 554.4,441.1 555.3,441.6 556.1,443.8 556.9,443.2 557.7,442.2 558.5,441.6 559.4,441.7 560.2,441.9 561.0,441.2 561.8,439.8 562.6,438.7 563.5,438.8 564.3,440.0 565.1,440.9 565.9,441.0 566.7,445.9 567.6,444.1 568.4,443.8 569.2,447.1 570.0,444.5 570.8,443.0 571.7,442.7 572.5,441.2 573.3,441.1 574.1,440.9 574.9,443.2 575.8,441.7 576.6,441.7 577.4,444.1 578.2,444.0 579.0,444.0 579.9,442.0 580.7,440.8 581.5,441.9 582.3,441.4 583.1,440.6 584.0,440.2 584.8,443.2 585.6,443.9 586.4,443.8 587.3,444.8 588.1,443.5 588.9,442.1 589.7,441.5 590.5,443.3 591.4,444.2 592.2,443.8 593.0,444.4 593.8,441.7 594.6,441.3 595.5,441.9 596.3,442.1 597.1,441.7 597.9,441.3 598.7,441.6 599.6,447.0 600.4,444.9 601.2,443.5 602.0,443.2 602.8,441.0 603.7,440.7 604.5,441.0 605.3,440.9 606.1,441.4 606.9,443.7 607.8,446.3 608.6,445.4 609.4,444.3 610.2,444.4 611.0,444.0 611.9,443.7 612.7,441.4 613.5,441.4 614.3,440.5 615.1,437.0 616.0,434.6 616.8,433.2 617.1,431.6 617.4,429.3 617.8,428.9 618.1,423.7 618.4,416.3 618.6,412.2 618.7,407.2 618.8,400.8 619.0,392.4 619.1,381.3 619.2,368.0 691.1,368.0 764.9,330.7" stroke="#F89F13"/>
<polyline points="491.4,463.6 491.5,465.8 492.2,465.0 546.0,438.1 546.2,437.9 547.0,437.5 547.9,445.5 548.7,445.6 549.5,446.8 550.3,446.0 551.1,445.2 552.0,444.3 552.8,442.5 553.6,441.0 554.4,443.0 555.3,443.8 556.1,446.0 556.9,444.5 557.7,443.4 558.5,443.2 559.4,443.6 560.2,443.3 561.0,441.7 561.8,439.9 562.6,439.3 563.5,440.3 564.3,441.6 565.1,442.1 565.9,441.9 566.7,445.2 567.6,444.9 568.4,445.2 569.2,446.9 570.0,444.1 570.8,442.5 571.7,442.4 572.5,442.0 573.3,442.0 574.1,441.4 574.9,442.5 575.8,442.2 576.6,443.3 577.4,447.0 578.2,445.9 579.0,446.1 579.9,443.5 580.7,442.4 581.5,445.1 582.3,443.4 583.1,441.5 584.0,440.8 584.8,443.6 585.6,445.4 586.4,445.5 587.3,446.0 588.1,444.3 588.9,443.1 589.7,443.1 590.5,445.1 591.4,446.2 592.2,443.6 593.0,444.3 593.8,442.6 594.6,442.9 595.5,443.4 596.3,443.2 597.1,442.6 597.9,442.7 598.7,443.6 599.6,448.5 600.4,445.7 601.2,444.9 602.0,443.8 602.8,442.3 603.7,442.3 604.5,442.2 605.3,441.7 606.1,442.7 606.9,445.0 607.8,447.1 608.6,446.5 609.4,444.8 610.2,443.5 611.0,443.2 611.9,444.0 612.7,443.1 613.5,444.3 614.3,443.1 615.1,441.7 616.0,442.3 616.8,445.5 617.6,445.5 618.4,447.2 619.2,451.6 620.1,447.3 620.9,445.3 621.7,444.0 622.5,442.1 623.4,440.2 624.2,439.6 625.0,442.5 625.8,444.8 626.6,444.6 627.5,443.7 628.3,443.0 629.1,443.1 629.9,443.7 630.7,445.3 631.6,444.0 632.4,441.2 633.2,441.7 634.0,444.3 634.8,443.8 635.7,444.3 636.5,443.0 637.3,442.6 638.1,443.5 638.9,445.5 639.8,446.6 640.6,444.0 641.4,443.1 642.2,443.4 643.0,442.6 643.9,447.7 644.7,444.5 645.5,443.9 646.3,443.0 647.1,443.8 648.0,446.5 648.8,445.6 649.6,446.3 650.4,443.7 651.2,442.6 652.1,442.5 652.9,441.8 653.7,440.5 654.5,439.5 655.4,440.0 656.2,441.8 657.0,443.4 657.8,443.6 658.6,442.9 659.5,445.5 660.3,444.6 661.1,444.2 661.9,442.9 662.7,443.9 663.6,441.3 664.4,440.8 665.2,444.2 666.0,445.8 666.8,450.4 667.7,446.7 668.5,450.2 669.3,447.5 670.1,445.5 670.9,443.7 671.8,441.5 672.6,438.8 673.4,435.6 674.2,432.6 674.6,433.1 674.9,430.3 675.2,426.7 675.5,422.1 675.9,417.7 676.2,406.7 676.3,400.2 676.5,391.5 676.6,380.1 676.7,368.0 691.1,368.0 764.9,330.7" stroke="#BC5B80"/>
<polyline points="491.4,461.0 491.5,465.8 492.2,465.0 546.0,438.1 546.2,437.9 547.0,437.5 547.9,444.7 548.7,445.0 549.5,445.4 550.3,444.9 551.1,444.4 552.0,443.9 552.8,443.1 553.6,442.2 554.4,443.4 555.3,444.0 556.1,445.2 556.9,444.1 557.7,443.0 558.5,442.5 559.4,442.5 560.2,442.4 561.0,441.5 561.8,440.6 562.6,440.4 563.5,441.3 564.3,442.5 565.1,443.0 565.9,442.8 566.7,444.8 567.6,444.1 568.4,444.0 569.2,446.2 570.0,443.7 570.8,442.7 571.7,442.9 572.5,442.6 573.3,442.8 574.1,442.6 574.9,443.0 575.8,442.3 576.6,442.2 577.4,443.0 578.2,441.3 579.0,439.7 579.9,436.1 580.7,432.5 581.0,430.9 581.3,428.8 581.7,427.0 582.0,423.0 582.3,417.2 582.7,408.2 582.8,402.7 582.9,395.5 583.1,385.8 583.2,368.0 691.1,368.0 764.9,330.7" stroke="#47B66D"/>
<polyline points="491.4,484.9 491.5,465.8 492.2,465.0 546.0,438.1 546.2,437.9 547.0,437.5 547.9,441.8 548.7,441.5 549.5,441.7 550.3,443.3 551.1,444.3 552.0,444.7 552.8,444.0 553.6,442.4 554.4,443.2 555.3,442.6 556.1,442.8 556.9,440.9 557.7,439.5 558.5,439.4 559.4,440.5 560.2,441.7 561.0,442.0 561.8,441.6 562.6,441.5 563.5,442.0 564.3,442.4 565.1,441.8 565.9,440.4 566.7,440.9 567.6,440.1 568.4,440.6 569.2,443.6 570.0,442.5 570.8,442.8 571.7,443.1 572.5,443.4 573.3,443.6 574.1,442.8 574.9,442.0 575.8,440.4 576.6,440.0 577.4,441.2 578.2,440.9 579.0,441.4 579.9,440.6 580.7,441.0 581.5,443.0 582.3,443.5 583.1,443.0 584.0,442.2 584.8,443.7 585.6,443.6 586.4,442.5 587.3,442.3 588.1,440.5 588.9,439.6 589.7,440.2 590.5,442.7 591.4,444.8 592.2,444.3 593.0,443.9 593.8,442.9 594.6,442.7 595.5,442.4 596.3,441.1 597.1,439.6 597.9,438.9 598.7,439.5 599.6,443.3 600.4,442.8 601.2,443.5 602.0,443.4 602.8,443.0 603.7,443.4 604.5,443.1 605.3,441.8 606.1,440.8 606.9,441.1 607.8,442.3 608.6,441.9 609.4,441.3 610.2,441.7 611.0,441.7 611.9,443.9 612.7,444.2 613.5,445.2 614.3,443.9 615.1,441.9 616.0,440.9 616.8,442.0 617.6,441.4 618.4,442.2 619.2,443.8 620.1,442.1 620.9,442.4 621.7,443.2 622.5,443.2 623.4,442.3 624.2,441.5 625.0,442.3 625.8,443.9 626.6,442.5 627.5,440.7 628.3,439.3 629.1,439.3 629.9,440.4 630.7,442.3 631.6,443.2 632.4,442.3 633.2,442.8 634.0,444.6 634.8,444.0 635.7,443.8 636.5,441.5 637.3,439.8 638.1,439.5 638.9,441.5 639.8,442.7 640.6,441.8 641.4,441.7 642.2,443.4 643.0,443.6 643.9,447.6 644.7,445.2 645.5,443.8 646.3,441.6 647.1,440.8 648.0,441.9 648.8,441.2 649.6,441.7 650.4,440.6 651.2,441.0 652.1,442.3 652.9,443.1 653.7,442.7 654.5,441.6 655.4,441.0 656.2,441.0 657.0,441.1 657.8,440.4 658.6,439.2 659.5,440.1 660.3,439.5 661.1,439.7 661.9,439.1 662.7,438.7 663.6,435.4 664.4,431.5 664.7,429.5 665.0,426.8 665.4,423.9 665.7,418.9 666.0,409.9 666.2,404.6 666.3,397.7 666.4,388.4 666.6,368.0 691.1,368.0 764.9,330.7" stroke="#5E81B5"/>
<polyline points="491.4,457.5 491.5,465.8 492.2,465.0 546.0,438.1 546.2,416.8 546.6,409.9 546.7,405.9 546.8,400.7 547.0,393.9 547.1,384.2 547.2,368.0 691.1,368.0 764.9,330.7" stroke="#E19C24"/>
<polyline points="491.4,461.6 491.5,465.8 492.2,465.0 546.0,438.1 546.2,437.9 547.0,437.5 547.9,447.7 548.7,448.6 549.5,447.9 550.3,447.5 551.1,447.3 552.0,447.9 552.8,449.1 553.6,445.7 554.4,446.0 555.3,443.1 556.1,444.4 556.9,443.0 557.7,441.6 558.5,440.4 559.4,440.3 560.2,441.6 561.0,443.2 561.8,443.6 562.6,442.8 563.5,441.7 564.3,441.4 565.1,441.7 565.9,441.4 566.7,444.5 567.6,441.5 568.4,440.6 569.2,445.5 570.0,445.0 570.8,445.9 571.7,445.3 572.5,443.8 573.3,443.5 574.1,443.5 574.9,446.6 575.8,443.2 576.6,440.6 577.4,442.7 578.2,442.3 579.0,444.4 579.9,443.2 580.7,442.3 581.5,444.4 582.3,444.4 583.1,444.6 584.0,444.8 584.8,446.7 585.6,444.4 586.4,442.4 587.3,445.4 588.1,443.6 588.9,441.9 589.7,441.0 590.5,443.6 591.4,446.1 592.2,447.8 593.0,449.8 593.8,445.7 594.6,443.2 595.5,442.3 596.3,442.0 597.1,441.1 597.9,439.8 598.7,439.2 599.6,444.3 600.4,444.3 601.2,446.3 602.0,447.1 602.8,444.6 603.7,443.3 604.5,443.1 605.3,442.8 606.1,442.6 606.9,443.2 607.8,443.7 608.6,442.4 609.4,442.7 610.2,443.8 611.0,444.3 611.9,445.8 612.7,444.6 613.5,446.8 614.3,447.3 615.1,444.3 616.0,441.6 616.8,441.8 617.6,441.2 618.4,445.2 619.2,452.2 620.1,447.1 620.9,444.5 621.7,444.1 622.5,444.7 623.4,444.5 624.2,443.0 625.0,442.4 625.8,443.8 626.6,442.6 627.5,442.0 628.3,440.9 629.1,439.8 629.9,440.0 630.7,444.4 631.6,446.5 632.4,445.5 633.2,445.4 634.0,446.3 634.8,444.3 635.7,445.3 636.5,443.5 637.3,441.3 638.1,439.6 638.9,441.8 639.8,443.8 640.6,443.9 641.4,446.2 642.2,446.6 643.0,444.6 643.9,450.6 644.7,447.8 645.5,447.2 646.3,443.5 647.1,440.9 648.0,443.3 648.8,442.6 649.6,447.2 650.4,444.7 651.2,443.0 652.1,442.7 652.9,443.5 653.7,444.1 654.5,443.4 655.4,441.7 656.2,440.2 657.0,440.1 657.8,440.6 658.6,440.7 659.5,444.7 660.3,442.5 661.1,442.3 661.9,443.4 662.7,447.2 663.6,445.3 664.4,443.3 665.2,444.4 666.0,445.9 666.8,452.7 667.7,447.3 668.5,450.1 669.3,445.1 670.1,443.5 670.9,445.8 671.8,446.7 672.6,446.8 673.4,443.7 674.2,441.9 675.0,442.0 675.9,446.4 676.7,442.5 677.5,437.2 677.8,434.4 678.2,431.8 678.5,429.2 678.8,426.3 679.1,422.6 679.5,419.4 679.8,410.4 679.9,405.1 680.1,398.1 680.2,388.7 680.4,368.0 691.1,368.0 764.9,330.7" stroke="#8FB032"/>
<polyline points="491.4,466.4 491.5,465.8 492.2,465.0 546.0,438.1 546.2,437.9 547.0,437.5 547.9,447.0 548.7,446.6 549.5,444.8 550.3,443.7 551.1,444.3 552.0,445.3 552.8,445.8 553.6,444.0 554.4,445.2 555.3,444.0 556.1,445.8 556.9,444.2 557.7,442.1 558.5,440.0 559.4,439.3 560.2,439.9 561.0,440.8 561.8,441.0 562.6,440.8 563.5,441.0 564.3,442.0 565.1,443.1 565.9,443.0 566.7,445.3 567.6,442.3 568.4,441.0 569.2,444.1 570.0,442.7 570.8,442.9 571.7,442.6 572.5,441.8 573.3,442.6 574.1,443.5 574.9,445.5 575.8,443.5 576.6,441.9 577.4,443.7 578.2,442.7 579.0,443.6 579.9,441.3 580.7,439.8 581.5,443.0 582.3,443.0 583.1,443.5 584.0,445.5 584.8,447.9 585.6,446.4 586.4,444.7 587.3,445.9 588.1,443.6 588.9,441.1 589.7,439.5 590.5,441.5 591.4,443.2 592.2,445.1 593.0,445.7 593.8,443.6 594.6,443.0 595.5,443.4 596.3,443.6 597.1,442.5 597.9,440.7 598.7,439.5 599.6,445.2 600.4,443.5 601.2,443.7 602.0,445.2 602.8,443.0 603.7,442.8 604.5,443.6 605.3,443.9 606.1,444.1 606.9,443.4 607.8,444.3 608.6,442.7 609.4,442.0 610.2,443.5 611.0,442.4 611.9,444.4 612.7,443.3 613.5,445.8 614.3,446.6 615.1,444.6 616.0,442.9 616.8,443.9 617.6,443.2 618.4,446.8 619.2,449.4 620.1,444.3 620.9,441.7 621.7,441.5 622.5,442.2 623.4,442.4 624.2,442.0 625.0,444.0 625.8,445.2 626.6,444.5 627.5,443.6 628.3,441.7 629.1,439.9 629.9,439.3 630.7,440.9 631.6,443.5 632.4,442.5 633.2,442.3 634.0,445.3 634.8,444.6 635.7,447.1 636.5,445.4 637.3,443.1 638.1,441.2 638.9,441.7 639.8,444.2 640.6,442.7 641.4,443.2 642.2,443.2 643.0,442.1 643.9,451.2 644.7,448.5 645.5,447.7 646.3,444.8 647.1,442.8 648.0,443.5 648.8,442.7 649.6,445.3 650.4,442.2 651.2,440.2 652.1,440.1 652.9,441.3 653.7,442.4 654.5,442.4 655.4,441.9 656.2,441.6 657.0,442.2 657.8,442.4 658.6,441.6 659.5,442.8 660.3,440.5 661.1,440.1 661.9,440.9 662.7,443.8 663.6,442.7 664.4,441.9 665.2,444.1 666.0,446.5 666.8,451.1 667.7,446.9 668.5,447.9 669.3,443.8 670.1,442.1 670.9,444.2 671.8,445.0 672.6,445.0 673.4,442.8 674.2,442.6 675.0,445.5 675.9,450.4 676.7,449.2 677.5,446.6 678.3,443.7 679.1,442.1 680.0,443.1 680.8,445.4 681.6,440.5 682.4,437.4 683.2,438.3 684.1,437.3 684.4,435.2 684.7,432.6 685.1,429.5 685.4,425.3 685.7,421.6 686.0,412.7 686.2,407.6 686.3,401.2 686.4,392.8 686.6,381.9 686.7,368.0 691.1,368.0 764.9,330.7" stroke="#EB6235"/>
<polyline points="491.4,457.3 491.5,465.8 492.2,465.0 546.0,438.1 546.2,437.9 547.0,437.5 547.9,447.8 548.7,447.2 549.5,447.5 550.3,447.4 551.1,446.7 552.0,447.0 552.8,445.3 553.6,443.2 554.4,445.7 555.3,444.1 556.1,444.5 556.9,443.1 557.7,442.5 558.5,442.4 559.4,442.6 560.2,442.5 561.0,441.8 561.8,441.1 562.6,440.9 563.5,441.1 564.3,441.2 565.1,441.1 565.9,440.9 566.7,445.3 567.6,444.2 568.4,443.7 569.2,448.3 570.0,445.3 570.8,445.3 571.7,445.9 572.5,444.1 573.3,442.9 574.1,441.7 574.9,444.3 575.8,442.9 576.6,442.7 577.4,446.2 578.2,444.5 579.0,445.7 579.9,443.9 580.7,443.1 581.5,446.6 582.3,444.3 583.1,442.5 584.0,442.7 584.8,447.8 585.6,448.0 586.4,445.5 587.3,445.8 588.1,444.0 588.9,443.1 589.7,442.9 590.5,445.3 591.4,446.5 592.2,445.3 593.0,448.8 593.8,445.5 594.6,443.8 595.5,442.8 596.3,442.0 597.1,441.6 597.9,441.8 598.7,442.3 599.6,447.1 600.4,444.9 601.2,445.0 602.0,446.0 602.8,444.0 603.7,442.9 604.5,442.1 605.3,441.3 606.1,442.5 606.9,445.1 607.8,446.6 608.6,445.0 609.4,443.6 610.2,443.7 611.0,444.0 611.9,446.7 612.7,444.6 613.5,446.1 614.3,445.9 615.1,443.5 616.0,442.7 616.8,443.6 617.6,443.0 618.4,445.6 619.2,451.1 620.1,447.3 620.9,445.3 621.7,443.9 622.5,442.5 623.4,441.4 624.2,440.9 625.0,442.1 625.8,444.5 626.6,443.2 627.5,442.1 628.3,441.2 629.1,440.8 629.9,440.2 630.7,440.6 631.6,440.9 632.4,436.0 632.7,436.3 633.0,433.7 633.4,433.8 633.7,432.6 634.0,427.2 634.3,420.4 634.7,410.9 634.8,405.3 634.9,398.2 635.1,388.7 635.3,368.0 691.1,368.0 764.9,330.7" stroke="#8778B3"/>
<polyline points="491.4,454.7 491.5,465.8 492.2,465.0 546.0,438.1 546.2,437.9 547.0,437.5 547.9,446.1 548.7,444.4 549.5,444.6 550.3,445.8 551.1,444.7 552.0,444.9 552.8,445.4 553.6,444.7 554.4,446.8 555.3,444.3 556.1,443.0 556.9,440.6 557.7,439.9 558.5,440.1 559.4,439.9 560.2,439.3 561.0,439.1 561.8,440.1 562.6,441.8 563.5,442.8 564.3,442.3 565.1,441.0 565.9,440.2 566.7,444.0 567.6,442.5 568.4,440.9 569.2,443.9 570.0,441.3 570.8,443.2 571.7,445.2 572.5,444.5 573.3,443.2 574.1,441.9 574.9,443.5 575.8,443.0 576.6,442.2 577.4,443.4 578.2,440.4 579.0,440.9 579.9,440.6 580.7,441.3 581.5,443.8 582.3,442.4 583.1,441.6 584.0,443.7 584.8,449.4 585.6,447.6 586.4,443.9 587.3,442.3 588.1,440.3 588.9,440.1 589.7,440.4 590.5,441.8 591.4,442.9 592.2,443.2 593.0,447.3 593.8,446.2 594.6,444.8 595.5,442.7 596.3,440.8 597.1,440.0 597.9,440.1 598.7,440.0 599.6,444.4 600.4,441.4 601.2,443.6 602.0,444.6 602.8,444.5 603.7,443.8 604.5,442.4 605.3,441.3 606.1,442.7 606.9,444.2 607.8,444.4 608.6,441.3 609.4,439.2 610.2,440.9 611.0,443.8 611.9,445.7 612.7,444.0 613.5,444.5 614.3,444.6 615.1,443.9 616.0,443.5 616.8,443.9 617.6,441.0 618.4,442.2 619.2,446.9 620.1,443.1 620.9,440.4 621.7,437.6 622.5,434.7 623.4,432.0 623.7,430.6 624.0,428.7 624.3,428.5 624.7,423.8 625.0,417.0 625.3,406.3 625.5,399.8 625.6,391.0 625.7,379.5 625.8,368.0 691.1,368.0 764.9,330.7" stroke="#C56E1A"/>
<polyline points="491.4,458.8 491.5,465.8 492.2,465.0 546.0,438.1 546.2,437.9 547.0,437.5 547.9,443.3 548.7,442.5 549.5,442.6 550.3,443.6 551.1,444.9 552.0,445.0 552.8,444.8 553.6,443.8 554.4,445.1 555.3,445.4 556.1,444.9 556.9,442.5 557.7,440.3 558.5,439.7 559.4,440.6 560.2,441.5 561.0,441.5 561.8,441.2 562.6,441.8 563.5,443.6 564.3,445.0 565.1,444.7 565.9,442.8 566.7,443.9 567.6,442.4 568.4,442.2 569.2,444.3 570.0,442.1 570.8,441.9 571.7,442.9 572.5,444.1 573.3,445.3 574.1,444.9 574.9,444.7 575.8,443.2 576.6,442.9 577.4,443.5 578.2,442.2 579.0,441.0 579.9,439.6 580.7,440.2 581.5,443.0 582.3,444.1 583.1,443.8 584.0,443.6 584.8,444.3 585.6,443.9 586.4,442.0 587.3,440.4 588.1,435.3 588.9,430.4 589.2,428.4 589.5,426.2 589.9,423.3 590.2,419.0 590.5,412.7 590.7,408.5 590.8,403.2 590.9,396.2 591.1,386.6 591.2,368.0 691.1,368.0 764.9,330.7" stroke="#5D9EC7"/>
<polyline points="491.4,473.9 491.5,465.8 492.2,465.0 546.0,438.1 546.2,437.9 547.0,437.5 547.9,442.1 548.7,442.1 549.5,443.5 550.3,443.8 551.1,443.4 552.0,443.8 552.8,445.1 553.6,445.0 554.4,445.4 555.3,443.1 556.1,442.0 556.9,440.7 557.7,440.8 558.5,441.1 559.4,440.8 560.2,440.3 561.0,440.7 561.8,442.1 562.6,443.6 563.5,443.7 564.3,442.5 565.1,441.3 565.9,440.9 566.7,443.2 567.6,442.2 568.4,440.7 569.2,442.8 570.0,441.8 570.8,443.2 571.7,445.2 572.5,444.5 573.3,443.2 574.1,442.4 574.9,443.0 575.8,442.9 576.6,442.0 577.4,441.5 578.2,439.7 579.0,441.4 579.9,441.9 580.7,442.6 581.5,443.4 582.3,442.5 583.1,442.5 584.0,443.7 584.8,446.1 585.6,445.2 586.4,442.3 587.3,441.4 588.1,440.7 588.9,441.2 589.7,441.4 590.5,441.9 591.4,442.4 592.2,443.1 593.0,445.6 593.8,445.3 594.6,444.0 595.5,442.0 596.3,440.8 597.1,440.7 597.9,441.0 598.7,440.6 599.6,442.5 600.4,441.2 601.2,442.5 602.0,444.9 602.8,444.9 603.7,443.8 604.5,442.5 605.3,441.9 606.1,442.8 606.9,443.6 607.8,443.5 608.6,441.0 609.4,439.9 610.2,441.5 611.0,443.5 611.9,444.5 612.7,443.4 613.5,443.6 614.3,443.7 615.1,443.8 616.0,443.3 616.8,442.4 617.6,440.3 618.4,441.6 619.2,445.3 620.1,444.2 620.9,443.2 621.7,442.2 622.5,442.0 623.4,442.8 624.2,443.8 625.0,444.7 625.8,444.2 626.6,441.7 627.5,440.6 628.3,440.8 629.1,441.0 629.9,440.6 630.7,440.6 631.6,441.7 632.4,442.7 633.2,444.6 634.0,445.9 634.8,443.8 635.7,442.7 636.5,441.9 637.3,441.9 638.1,441.3 638.9,441.3 639.8,441.2 640.6,440.8 641.4,442.5 642.2,445.2 643.0,444.4 643.9,446.0 644.7,444.1 645.5,444.6 646.3,443.9 647.1,442.6 648.0,442.5 648.8,440.3 649.6,441.1 650.4,441.7 651.2,442.3 652.1,442.1 652.9,441.8 653.7,442.1 654.5,443.1 655.4,443.6 656.2,442.7 657.0,440.9 657.8,439.7 658.6,439.8 659.5,442.5 660.3,442.0 661.1,441.2 661.9,440.9 662.7,443.5 663.6,444.3 664.4,444.5 665.2,444.6 666.0,442.2 666.8,443.1 667.7,440.2 668.5,441.0 669.3,436.5 670.1,431.4 670.4,429.1 670.8,427.4 671.1,423.9 671.4,420.1 671.8,413.0 671.9,408.8 672.0,403.4 672.2,396.3 672.3,386.6 672.5,368.0 691.1,368.0 764.9,330.7" stroke="#FFBF00"/>
<polyline points="491.4,439.6 491.5,465.8 492.2,465.0 546.0,438.1 546.2,434.0 547.0,431.8 547.9,437.1 548.2,434.3 548.5,431.3 548.9,428.7 549.2,424.1 549.5,418.8 549.8,409.1 550.0,402.6 550.1,394.0 550.2,383.0 550.4,368.0 691.1,368.0 764.9,330.7" stroke="#A5609D"/>
<polyline points="491.4,439.8 491.5,465.8 492.2,465.0 546.0,438.1 546.2,437.9 547.0,437.5 547.9,445.1 548.7,445.6 549.5,446.5 550.3,445.4 551.1,446.2 552.0,446.9 552.8,446.2 553.6,444.3 554.4,444.3 555.3,443.4 556.1,443.7 556.9,442.6 557.7,441.4 558.5,440.6 559.4,440.3 560.2,440.4 561.0,440.2 561.8,439.1 562.6,437.4 563.5,435.4 564.3,432.4 564.6,430.6 564.9,428.1 565.3,424.7 565.6,419.9 565.9,412.6 566.1,408.3 566.2,402.9 566.3,395.9 566.5,386.4 566.6,368.0 691.1,368.0 764.9,330.7" stroke="#929600"/>
<polyline points="491.4,455.9 491.5,465.8 492.2,465.0 546.0,438.1 546.2,437.9 547.0,437.5 547.9,448.6 548.7,447.2 549.5,448.7 550.3,448.7 551.1,448.7 552.0,448.4 552.8,446.0 553.6,442.8 554.4,444.5 555.3,442.7 556.1,443.4 556.9,441.5 557.7,440.1 558.5,439.8 559.4,440.8 560.2,442.0 561.0,442.3 561.8,441.6 562.6,440.7 563.5,440.5 564.3,440.8 565.1,440.5 565.9,439.5 566.7,444.1 567.6,441.9 568.4,441.7 569.2,447.5 570.0,445.2 570.8,445.1 571.7,445.8 572.5,444.1 573.3,443.4 574.1,442.1 574.9,444.3 575.8,441.2 576.6,440.1 577.4,442.2 578.2,441.9 579.0,444.4 579.9,442.6 580.7,442.0 581.5,444.0 582.3,443.7 583.1,442.6 584.0,443.2 584.8,445.7 585.6,445.4 586.4,443.3 587.3,444.0 588.1,441.9 588.9,440.7 589.7,440.8 590.5,445.5 591.4,447.5 592.2,446.4 593.0,447.6 593.8,444.0 594.6,442.4 595.5,441.6 596.3,440.6 597.1,439.4 597.9,438.8 598.7,439.5 599.6,445.1 600.4,444.2 601.2,444.6 602.0,445.2 602.8,443.3 603.7,442.7 604.5,442.1 605.3,440.8 606.1,440.9 606.9,442.0 607.8,445.5 608.6,443.9 609.4,443.0 610.2,443.9 611.0,445.2 611.9,447.7 612.7,445.7 613.5,447.0 614.3,444.8 615.1,441.7 616.0,440.1 616.8,442.3 617.6,441.6 618.4,443.8 619.2,451.3 620.1,446.6 620.9,444.8 621.7,444.4 622.5,443.7 623.4,442.2 624.2,440.7 625.0,441.4 625.8,444.9 626.6,442.9 627.5,441.1 628.3,439.8 629.1,439.6 629.9,440.7 630.7,444.3 631.6,447.0 632.4,444.3 633.2,444.8 634.0,448.4 634.8,445.4 635.7,446.4 636.5,442.2 637.3,439.0 638.1,437.5 638.9,438.1 639.8,439.8 640.6,435.9 640.9,436.9 641.2,434.2 641.6,431.2 641.9,427.9 642.2,426.1 642.6,419.9 642.9,410.8 643.0,405.5 643.2,398.7 643.3,389.4 643.5,368.0 691.1,368.0 764.9,330.7" stroke="#E95536"/>
<polyline points="491.4,459.0 491.5,465.8 492.2,465.0 546.0,438.1 546.2,413.6 546.6,404.6 546.7,399.1 546.8,391.6 547.0,380.8 547.0,368.0 691.1,368.0 764.9,330.7" stroke="#6685D9"/>
<polyline points="491.4,452.3 491.5,465.8 492.2,465.0 546.0,438.1 546.2,437.9 547.0,437.5 547.9,445.4 548.7,446.1 549.5,446.5 550.3,446.1 551.1,446.5 552.0,446.4 552.8,445.8 553.6,442.1 554.4,441.5 555.3,440.7 556.1,443.0 556.9,442.8 557.7,442.1 558.5,441.5 559.4,441.7 560.2,442.6 561.0,442.8 561.8,441.6 562.6,439.8 563.5,438.8 564.3,439.1 565.1,440.0 565.9,440.3 566.7,444.4 567.6,442.6 568.4,442.6 569.2,449.3 570.0,447.0 570.8,445.6 571.7,444.0 572.5,441.8 573.3,441.1 574.1,440.9 574.9,441.3 575.8,439.9 576.6,439.5 577.4,443.4 578.2,443.9 579.0,445.2 579.9,443.5 580.7,442.0 581.5,444.5 582.3,443.3 583.1,442.2 584.0,441.5 584.8,443.4 585.6,442.4 586.4,442.1 587.3,444.7 588.1,443.8 588.9,442.6 589.7,441.9 590.5,445.2 591.4,446.6 592.2,445.9 593.0,445.2 593.8,441.6 594.6,440.1 595.5,440.4 596.3,441.0 597.1,440.9 597.9,440.5 598.7,440.9 599.6,447.3 600.4,446.1 601.2,446.0 602.0,445.6 602.8,442.2 603.7,440.8 604.5,440.7 605.3,440.6 606.1,441.6 606.9,442.4 607.8,445.0 608.6,444.6 609.4,444.6 610.2,445.1 611.0,444.5 611.9,444.6 612.7,442.8 613.5,444.6 614.3,443.9 615.1,441.2 616.0,439.6 616.8,441.4 617.6,442.2 618.4,445.3 619.2,450.8 620.1,446.5 620.9,444.2 621.7,443.5 622.5,442.9 623.4,441.4 624.2,439.5 625.0,440.8 625.8,442.6 626.6,442.4 627.5,442.3 628.3,441.7 629.1,441.3 629.9,441.7 630.7,444.4 631.6,445.1 632.4,443.0 633.2,443.0 634.0,444.6 634.8,442.5 635.7,443.0 636.5,441.8 637.3,440.7 638.1,440.4 638.9,443.5 639.8,446.2 640.6,445.2 641.4,444.6 642.2,443.5 643.0,441.7 643.9,449.8 644.7,445.9 645.5,444.0 646.3,441.3 647.1,440.3 648.0,444.5 648.8,444.4 649.6,446.9 650.4,444.5 651.2,442.6 652.1,442.0 652.9,442.0 653.7,441.4 654.5,440.0 655.4,438.5 656.2,438.4 657.0,439.7 657.8,441.2 658.6,441.6 659.5,443.6 660.3,442.6 661.1,442.7 661.9,443.0 662.7,446.6 663.6,443.0 664.4,440.4 665.2,441.2 666.0,443.5 666.8,448.9 667.7,445.3 668.5,448.2 669.3,445.3 670.1,444.7 670.9,446.1 671.8,445.8 672.6,444.7 673.4,441.8 674.2,440.7 675.0,441.6 675.9,447.0 676.7,445.6 677.5,443.3 678.3,440.3 679.1,439.0 680.0,438.9 680.8,439.5 681.1,435.6 681.4,431.4 681.8,426.6 682.1,420.8 682.4,412.7 682.6,408.1 682.7,402.9 682.8,395.1 683.0,384.8 683.1,368.0 691.1,368.0 764.9,330.7" stroke="#F89F13"/>
<polyline points="491.4,452.0 491.5,465.8 492.2,465.0 546.0,438.1 546.2,437.9 547.0,437.5 547.9,443.8 548.7,444.5 549.5,445.1 550.3,444.2 551.1,443.1 552.0,443.1 552.8,443.3 553.6,443.0 554.4,443.8 555.3,442.7 556.1,442.5 556.9,442.1 557.7,442.0 558.5,441.6 559.4,440.7 560.2,440.0 561.0,440.0 561.8,440.6 562.6,441.2 563.5,441.3 564.3,441.2 565.1,441.3 565.9,441.8 566.7,445.2 567.6,443.6 568.4,442.0 569.2,444.1 570.0,442.4 570.8,443.0 571.7,443.0 572.5,442.0 573.3,441.3 574.1,441.4 574.9,443.6 575.8,443.3 576.6,442.6 577.4,442.6 578.2,441.5 579.0,443.0 579.9,442.2 580.7,441.5 581.5,442.3 582.3,441.3 583.1,441.3 584.0,442.5 584.8,445.4 585.6,444.6 586.4,443.0 587.3,443.1 588.1,442.5 588.9,442.0 589.7,441.3 590.5,442.2 591.4,441.9 592.2,442.5 593.0,444.7 593.8,443.7 594.6,442.7 595.5,442.0 596.3,441.9 597.1,442.1 597.9,442.0 598.7,441.3 599.6,443.0 600.4,441.5 601.2,442.2 602.0,443.7 602.8,442.7 603.7,441.8 604.5,441.5 605.3,441.8 606.1,443.7 606.9,444.9 607.8,444.7 608.6,442.6 609.4,441.5 610.2,442.5 611.0,442.7 611.9,442.9 612.7,441.6 613.5,442.7 614.3,443.1 615.1,443.1 616.0,442.8 616.8,443.4 617.6,442.1 618.4,443.6 619.2,446.9 620.1,444.3 620.9,442.4 621.7,441.1 622.5,440.7 623.4,441.2 624.2,441.8 625.0,442.6 625.8,443.7 626.6,442.6 627.5,442.3 628.3,442.2 629.1,441.7 629.9,440.8 630.7,441.3 631.6,442.5 632.4,442.0 633.2,442.8 634.0,443.8 634.8,442.0 635.7,442.6 636.5,441.2 637.3,439.9 638.1,437.8 638.9,435.9 639.8,433.2 640.1,430.8 640.4,428.2 640.7,425.9 641.1,421.3 641.4,414.6 641.5,410.8 641.7,406.0 641.8,399.9 642.0,391.7 642.1,380.7 642.2,368.0 691.1,368.0 764.9,330.7" stroke="#BC5B80"/>
<polyline points="491.4,460.9 491.5,465.8 492.2,465.0 546.0,438.1 546.2,437.9 547.0,437.5 547.9,447.5 548.7,447.2 549.5,448.8 550.3,447.4 551.1,444.8 552.0,443.0 552.8,442.9 553.6,441.9 554.4,443.6 555.3,442.6 556.1,443.5 556.9,442.4 557.7,442.6 558.5,443.1 559.4,442.9 560.2,441.6 561.0,440.3 561.8,439.8 562.6,440.1 563.5,440.4 564.3,440.1 565.1,439.7 565.9,440.1 566.7,445.7 567.6,445.1 568.4,444.1 569.2,449.0 570.0,445.1 570.8,444.0 571.7,443.9 572.5,442.4 573.3,440.8 574.1,439.6 574.9,442.2 575.8,442.4 576.6,442.8 577.4,443.9 578.2,442.6 579.0,444.5 579.9,443.5 580.7,442.9 581.5,444.5 582.3,441.8 583.1,440.1 584.0,440.7 584.8,445.3 585.6,445.0 586.4,443.4 587.3,444.3 588.1,443.3 588.9,443.3 589.7,443.2 590.5,444.5 591.4,443.2 592.2,441.9 593.0,443.7 593.8,442.6 594.6,441.8 595.5,441.0 596.3,440.6 597.1,441.2 597.9,442.3 598.7,442.9 599.6,448.4 600.4,444.6 601.2,443.6 602.0,443.6 602.8,442.1 603.7,440.4 604.5,438.5 605.3,437.2 606.1,437.6 606.9,439.2 607.8,438.2 608.1,435.8 608.4,433.1 608.7,429.9 609.1,426.1 609.4,421.2 609.7,415.7 609.9,411.5 610.0,406.4 610.1,399.8 610.3,391.1 610.4,379.7 610.5,368.0 691.1,368.0 764.9,330.7" stroke="#47B66D"/>
<polyline points="491.4,448.3 491.5,465.8 492.2,465.0 546.0,438.1 546.2,437.9 547.0,437.5 547.9,446.6 548.7,448.1 549.5,447.7 550.3,446.0 551.1,445.1 552.0,445.4 552.8,445.8 553.6,443.9 554.4,444.2 555.3,442.8 556.1,444.2 556.9,443.7 557.7,443.4 558.5,442.7 559.4,441.7 560.2,441.1 561.0,441.1 561.8,441.2 562.6,441.0 563.5,440.6 564.3,440.5 565.1,441.0 565.9,441.8 566.7,447.4 567.6,445.1 568.4,443.4 569.2,445.6 570.0,444.0 570.8,444.0 571.7,443.7 572.5,442.0 573.3,441.1 574.1,441.2 574.9,445.1 575.8,444.0 576.6,442.9 577.4,443.9 578.2,443.1 579.0,444.5 579.9,443.4 580.7,442.2 581.5,444.0 582.3,442.3 583.1,441.8 584.0,444.0 584.8,446.8 585.6,446.0 586.4,444.1 587.3,445.1 588.1,444.3 588.9,443.5 589.7,442.4 590.5,443.3 591.4,445.2 592.2,445.2 593.0,446.4 593.8,444.0 594.6,442.4 595.5,441.9 596.3,442.2 597.1,442.6 597.9,442.5 598.7,441.9 599.6,447.3 600.4,444.7 601.2,445.4 602.0,444.5 602.8,441.8 603.7,439.7 604.5,438.5 605.3,437.6 606.1,437.6 606.9,436.7 607.3,434.2 607.6,431.5 607.9,430.5 608.3,425.9 608.6,419.9 608.9,411.3 609.0,406.3 609.2,399.8 609.3,391.2 609.5,379.7 609.5,368.0 691.1,368.0 764.9,330.7" stroke="#5E81B5"/>
<polyline points="491.4,488.6 491.5,465.8 492.2,465.0 546.0,438.1 546.2,431.9 547.0,428.6 547.4,434.4 547.7,432.3 548.0,428.0 548.4,422.8 548.7,416.7 548.8,412.5 549.0,407.2 549.1,400.4 549.2,391.3 549.4,379.8 549.4,368.0 691.1,368.0 764.9,330.7" stroke="#E19C24"/>
<polyline points="491.4,469.7 491.5,465.8 492.2,465.0 546.0,438.1 546.2,437.9 547.0,437.5 547.9,443.1 548.7,443.5 549.5,445.5 550.3,446.7 551.1,445.7 552.0,444.2 552.8,442.8 553.6,441.6 554.4,442.9 555.3,441.7 556.1,441.0 556.9,439.8 557.7,440.6 558.5,442.7 559.4,444.1 560.2,443.7 561.0,442.4 561.8,441.6 562.6,441.8 563.5,441.9 564.3,440.8 565.1,439.0 565.9,438.1 566.7,441.8 567.6,442.8 568.4,443.5 569.2,446.1 570.0,444.1 570.8,444.0 571.7,445.1 572.5,444.4 573.3,442.4 574.1,439.8 574.9,440.3 575.8,440.2 576.6,441.2 577.4,442.5 578.2,441.7 579.0,442.9 579.9,443.4 580.7,444.6 581.5,445.3 582.3,443.3 583.1,440.9 584.0,440.8 584.8,443.2 585.6,443.2 586.4,441.7 587.3,441.5 588.1,440.9 588.9,442.3 589.7,444.1 590.5,445.2 591.4,445.0 592.2,443.5 593.0,443.6 593.8,442.8 594.6,442.0 595.5,440.3 596.3,438.7 597.1,438.8 597.9,440.7 598.7,442.7 599.6,445.1 600.4,443.7 601.2,444.1 602.0,445.2 602.8,444.6 603.7,443.2 604.5,440.7 605.3,438.7 606.1,439.6 606.9,441.7 607.8,443.5 608.6,443.0 609.4,442.1 610.2,442.9 611.0,444.9 611.9,446.3 612.7,444.6 613.5,443.6 614.3,441.7 615.1,440.5 616.0,440.8 616.8,441.4 617.6,439.9 618.4,440.9 619.2,443.5 620.1,441.8 620.9,439.8 621.7,435.7 622.0,433.3 622.4,430.5 622.7,427.2 623.0,423.2 623.4,418.0 623.7,410.4 623.8,406.0 624.0,400.2 624.1,392.5 624.2,381.9 624.3,368.0 691.1,368.0 764.9,330.7" stroke="#8FB032"/>
<polyline points="491.4,467.5 491.5,465.8 492.2,465.0 546.0,438.1 546.2,416.4 546.6,409.2 546.7,405.0 546.8,399.6 547.0,392.3 547.1,381.9 547.2,368.0 691.1,368.0 764.9,330.7" stroke="#EB6235"/>
<polyline points="491.4,476.5 491.5,465.8 492.2,465.0 546.0,438.1 546.2,437.9 547.0,437.5 547.9,446.9 548.7,446.8 549.5,445.6 550.3,444.2 551.1,442.6 552.0,439.6 552.8,437.5 553.1,435.0 553.4,432.4 553.8,429.4 554.1,425.5 554.4,421.8 554.8,413.0 554.9,407.9 555.0,401.5 555.2,392.9 555.3,381.9 555.4,368.0 691.1,368.0 764.9,330.7" stroke="#8778B3"/>
<polyline points="491.4,467.8 491.5,465.8 492.2,465.0 546.0,438.1 546.2,437.9 547.0,437.5 547.9,447.1 548.7,447.0 549.5,447.5 550.3,446.8 551.1,446.6 552.0,446.6 552.8,446.6 553.6,446.4 554.4,447.8 555.3,444.6 556.1,443.2 556.9,441.1 557.7,441.0 558.5,441.3 559.4,440.8 560.2,440.1 561.0,440.5 561.8,442.2 562.6,444.1 563.5,444.5 564.3,443.2 565.1,441.6 565.9,441.1 566.7,447.9 567.6,445.0 568.4,442.2 569.2,443.7 570.0,442.1 570.8,445.0 571.7,447.2 572.5,446.0 573.3,444.3 574.1,443.0 574.9,446.3 575.8,445.1 576.6,443.4 577.4,442.9 578.2,440.2 579.0,441.5 579.9,442.1 580.7,443.0 581.5,446.1 582.3,444.1 583.1,443.5 584.0,446.0 584.8,449.5 585.6,448.2 586.4,444.0 587.3,444.5 588.1,442.3 588.9,442.1 589.7,442.0 590.5,444.6 591.4,446.2 592.2,446.8 593.0,448.8 593.8,447.7 594.6,445.7 595.5,443.0 596.3,441.2 597.1,440.9 597.9,441.2 598.7,440.7 599.6,443.0 600.4,441.2 601.2,444.4 602.0,446.9 602.8,446.5 603.7,445.1 604.5,443.3 605.3,442.4 606.1,443.9 606.9,444.4 607.8,444.5 608.6,441.3 609.4,439.7 610.2,442.5 611.0,445.9 611.9,448.7 612.7,446.0 613.5,447.4 614.3,446.5 615.1,445.8 616.0,444.8 616.8,443.8 617.6,440.8 618.4,442.5 619.2,448.3 620.1,446.0 620.9,444.4 621.7,442.9 622.5,442.3 623.4,443.3 624.2,444.6 625.0,445.4 625.8,445.8 626.6,442.4 627.5,440.9 628.3,440.9 629.1,441.2 629.9,440.6 630.7,442.8 631.6,444.5 632.4,444.6 633.2,447.4 634.0,449.5 634.8,446.1 635.7,445.5 636.5,443.6 637.3,442.9 638.1,442.1 638.9,441.4 639.8,442.9 640.6,441.5 641.4,443.8 642.2,445.9 643.0,445.1 643.9,451.2 644.7,447.2 645.5,446.5 646.3,445.4 647.1,443.6 648.0,442.8 648.8,440.2 649.6,441.7 650.4,442.1 651.2,442.7 652.1,442.5 652.9,442.0 653.7,442.4 654.5,443.6 655.4,444.4 656.2,443.4 657.0,441.2 657.8,439.6 658.6,439.6 659.5,444.8 660.3,443.2 661.1,441.1 661.9,439.6 662.7,443.1 663.6,442.1 664.4,440.4 665.2,439.4 665.5,438.1 665.9,434.9 666.2,431.5 666.5,430.4 666.8,428.3 667.2,421.1 667.5,411.2 667.6,405.6 667.8,398.4 667.9,388.7 668.1,368.0 691.1,368.0 764.9,330.7" stroke="#C56E1A"/>
<polyline points="491.4,484.8 491.5,465.8 492.2,465.0 546.0,438.1 546.2,437.9 547.0,437.5 547.9,444.1 548.7,443.7 549.5,443.2 550.3,442.8 551.1,442.6 552.0,442.6 552.8,441.1 553.6,439.5 554.4,441.1 555.3,442.5 556.1,444.6 556.9,443.9 557.7,442.6 558.5,442.0 559.4,442.3 560.2,442.3 561.0,441.1 561.8,439.1 562.6,438.0 563.5,438.6 564.3,439.8 565.1,440.2 565.9,439.2 566.7,440.5 567.6,438.3 568.4,436.2 568.7,434.9 569.0,433.1 569.4,433.0 569.7,429.1 570.0,424.4 570.3,418.8 570.7,409.6 570.8,404.3 570.9,397.6 571.1,388.7 571.3,368.0 691.1,368.0 764.9,330.7" stroke="#5D9EC7"/>
<polyline points="491.4,474.5 491.5,465.8 492.2,465.0 546.0,438.1 546.2,437.9 547.0,437.5 547.9,447.6 548.7,446.7 549.5,447.6 550.3,448.4 551.1,449.3 552.0,447.6 552.8,446.0 553.6,442.9 554.4,444.1 555.3,442.7 556.1,443.5 556.9,441.2 557.7,440.4 558.5,441.2 559.4,442.7 560.2,443.3 561.0,442.7 561.8,441.5 562.6,441.1 563.5,441.3 564.3,441.2 565.1,440.1 565.9,438.8 566.7,445.5 567.6,443.9 568.4,443.8 569.2,447.6 570.0,445.0 570.8,445.7 571.7,447.1 572.5,445.5 573.3,443.9 574.1,441.6 574.9,441.7 575.8,440.2 576.6,440.4 577.4,444.5 578.2,443.2 579.0,444.0 579.9,442.9 580.7,443.3 581.5,446.5 582.3,444.8 583.1,442.5 584.0,442.6 584.8,448.1 585.6,447.6 586.4,444.7 587.3,445.2 588.1,442.6 588.9,441.9 589.7,442.8 590.5,445.4 591.4,447.2 592.2,445.4 593.0,446.2 593.8,443.8 594.6,442.7 595.5,441.5 596.3,440.0 597.1,439.0 597.9,439.5 598.7,441.1 599.6,447.1 600.4,445.3 601.2,444.6 602.0,445.1 602.8,444.0 603.7,443.3 604.5,441.9 605.3,439.9 606.1,440.1 606.9,441.2 607.8,443.7 608.6,441.5 609.4,439.0 610.2,438.2 611.0,437.2 611.4,435.0 611.7,432.6 612.0,431.1 612.4,426.7 612.7,420.9 613.0,412.3 613.2,407.4 613.3,402.0 613.4,393.1 613.6,381.9 613.7,368.0 691.1,368.0 764.9,330.7" stroke="#FFBF00"/>
<polyline points="491.4,469.1 491.5,465.8 492.2,465.0 546.0,438.1 546.2,422.1 546.6,417.9 546.9,411.7 547.0,408.1 547.2,404.6 547.3,399.7 547.4,390.2 547.6,378.4 547.6,368.0 691.1,368.0 764.9,330.7" stroke="#A5609D"/>
<polyline points="491.4,467.8 491.5,465.8 492.2,465.0 546.0,438.1 546.2,437.9 547.0,437.5 547.9,444.7 548.7,444.5 549.5,445.3 550.3,445.3 551.1,445.9 552.0,446.7 552.8,446.1 553.6,443.7 554.4,443.2 555.3,441.3 556.1,441.9 556.9,441.7 557.7,441.2 558.5,440.6 559.4,440.7 560.2,441.9 561.0,443.2 561.8,443.5 562.6,442.5 563.5,441.3 564.3,440.9 565.1,441.1 565.9,441.0 566.7,443.1 567.6,441.1 568.4,440.7 569.2,445.5 570.0,445.1 570.8,445.0 571.7,445.4 572.5,443.6 573.3,442.9 574.1,442.8 574.9,443.8 575.8,441.6 576.6,439.9 577.4,440.8 578.2,441.4 579.0,444.6 579.9,443.6 580.7,442.7 581.5,443.5 582.3,443.5 583.1,443.7 584.0,444.2 584.8,444.8 585.6,442.7 586.4,441.4 587.3,443.5 588.1,442.8 588.9,441.9 589.7,441.3 590.5,443.4 591.4,444.8 592.2,445.3 593.0,446.4 593.8,443.6 594.6,441.7 595.5,441.2 596.3,441.2 597.1,440.9 597.9,440.1 598.7,439.8 599.6,443.9 600.4,444.1 601.2,445.1 602.0,446.1 602.8,443.8 603.7,442.6 604.5,442.3 605.3,442.1 606.1,442.4 606.9,442.2 607.8,441.5 608.6,441.4 609.4,442.3 610.2,443.7 611.0,443.5 611.9,443.4 612.7,441.2 613.5,441.1 614.3,439.2 615.1,434.2 615.5,431.8 615.8,429.1 616.1,427.5 616.5,423.4 616.8,418.2 617.1,410.5 617.3,406.0 617.4,400.3 617.5,392.6 617.7,381.9 617.8,368.0 691.1,368.0 764.9,330.7" stroke="#929600"/>
<polyline points="491.4,471.3 491.5,465.8 492.2,465.0 546.0,438.1 546.2,437.9 547.0,437.5 547.9,443.5 548.7,444.2 549.5,445.8 550.3,444.8 551.1,444.9 552.0,445.3 552.8,446.6 553.6,444.8 554.4,443.5 555.3,441.5 556.1,441.9 556.9,441.9 557.7,441.9 558.5,441.4 559.4,441.1 560.2,441.8 561.0,443.1 561.8,444.0 562.6,443.5 563.5,442.2 564.3,441.3 565.1,441.3 565.9,441.5 566.7,443.8 567.6,441.9 568.4,440.9 569.2,444.1 570.0,444.4 570.8,445.5 571.7,445.4 572.5,443.7 573.3,442.9 574.1,442.8 574.9,443.7 575.8,442.3 576.6,440.6 577.4,441.7 578.2,441.6 579.0,443.8 579.9,443.8 580.7,443.2 581.5,444.7 582.3,444.0 583.1,444.1 584.0,444.7 584.8,445.1 585.6,442.9 586.4,441.2 587.3,442.8 588.1,442.7 588.9,442.4 589.7,441.9 590.5,443.3 591.4,444.7 592.2,446.0 593.0,447.7 593.8,445.0 594.6,442.6 595.5,441.5 596.3,441.5 597.1,441.6 597.9,441.1 598.7,440.4 599.6,443.2 600.4,443.5 601.2,445.8 602.0,446.7 602.8,444.7 603.7,443.0 604.5,442.4 605.3,442.4 606.1,443.4 606.9,443.0 607.8,442.1 608.6,441.3 609.4,442.1 610.2,444.3 611.0,444.7 611.9,444.7 612.7,443.6 613.5,444.2 614.3,445.5 615.1,443.9 616.0,441.9 616.8,441.4 617.6,440.8 618.4,443.5 619.2,447.8 620.1,445.4 620.9,443.7 621.7,443.3 622.5,443.9 623.4,444.2 624.2,443.5 625.0,442.4 625.8,442.4 626.6,441.5 627.5,441.7 628.3,441.6 629.1,441.1 629.9,440.9 630.7,442.7 631.6,445.3 632.4,445.3 633.2,445.6 634.0,445.2 634.8,443.2 635.7,443.8 636.5,443.0 637.3,442.0 638.1,440.7 638.9,440.9 639.8,443.3 640.6,443.9 641.4,444.9 642.2,445.0 643.0,443.6 643.9,447.7 644.7,445.7 645.5,445.1 646.3,443.0 647.1,441.0 648.0,441.1 648.8,441.3 649.6,444.6 650.4,444.1 651.2,442.8 652.1,441.6 652.9,441.1 653.7,440.7 654.5,439.3 655.4,436.2 656.2,432.0 656.5,430.1 656.8,427.9 657.2,425.3 657.5,421.9 657.8,417.0 658.1,409.1 658.3,404.3 658.4,397.9 658.6,389.3 658.7,368.0 691.1,368.0 764.9,330.7" stroke="#E95536"/>
<polyline points="491.4,487.5 491.5,465.8 492.2,465.0 546.0,438.1 546.2,437.9 547.0,437.5 547.9,445.5 548.7,445.2 549.5,443.7 550.3,442.4 551.1,442.9 552.0,445.0 552.8,446.2 553.6,444.3 554.4,445.0 555.3,443.8 556.1,444.7 556.9,443.5 557.7,441.4 558.5,439.4 559.4,438.7 560.2,439.5 561.0,440.7 561.8,441.1 562.6,440.8 563.5,441.0 564.3,442.1 565.1,443.2 565.9,443.0 566.7,445.3 567.6,442.0 568.4,440.5 569.2,443.2 570.0,442.2 570.8,441.7 571.7,442.2 572.5,441.6 573.3,442.6 574.1,443.7 574.9,445.2 575.8,443.1 576.6,441.4 577.4,442.8 578.2,442.1 579.0,443.0 579.9,440.9 580.7,439.4 581.5,441.1 582.3,442.1 583.1,443.1 584.0,444.6 584.8,446.1 585.6,443.9 586.4,442.0 587.3,442.7 588.1,439.2 588.9,435.1 589.7,431.0 590.0,429.4 590.4,428.5 590.7,426.2 591.0,423.2 591.4,419.5 591.7,412.9 591.8,408.6 592.0,403.1 592.1,395.8 592.2,386.0 592.4,368.0 691.1,368.0 764.9,330.7" stroke="#6685D9"/>
<polyline points="491.4,461.8 491.5,465.8 492.2,465.0 546.0,438.1 546.2,437.9 547.0,437.5 547.9,449.2 548.7,447.7 549.5,445.0 550.3,444.1 551.1,444.1 552.0,445.2 552.8,446.6 553.6,444.1 554.4,445.6 555.3,444.0 556.1,445.4 556.9,443.7 557.7,441.2 558.5,438.9 559.4,438.0 560.2,438.8 561.0,439.8 561.8,440.0 562.6,439.7 563.5,440.0 564.3,441.3 565.1,442.6 565.9,442.5 566.7,447.6 567.6,443.0 568.4,440.9 569.2,446.5 570.0,443.7 570.8,442.7 571.7,443.8 572.5,442.2 573.3,442.7 574.1,443.4 574.9,444.6 575.8,442.5 576.6,440.8 577.4,443.1 578.2,442.0 579.0,444.1 579.9,440.9 580.7,439.0 581.5,441.5 582.3,441.9 583.1,442.7 584.0,444.4 584.8,447.7 585.6,447.3 586.4,445.0 587.3,446.2 588.1,443.3 588.9,440.3 589.7,438.4 590.5,440.6 591.4,443.4 592.2,444.0 593.0,446.9 593.8,444.0 594.6,443.0 595.5,443.3 596.3,443.3 597.1,442.0 597.9,439.8 598.7,438.4 599.6,441.9 600.4,441.2 601.2,442.6 602.0,442.2 602.8,440.8 603.7,441.2 604.5,442.0 605.3,441.9 606.1,441.8 606.9,441.7 607.8,441.3 608.6,436.6 609.4,432.0 609.7,431.9 610.1,428.4 610.4,424.3 610.7,420.7 611.0,412.8 611.2,408.4 611.3,403.0 611.5,396.1 611.6,386.7 611.7,368.0 691.1,368.0 764.9,330.7" stroke="#F89F13"/>
<polyline points="491.4,441.7 491.5,465.8 492.2,465.0 546.0,438.1 546.2,437.9 547.0,437.5 547.9,445.0 548.7,446.8 549.5,448.5 550.3,447.3 551.1,445.4 552.0,444.0 552.8,444.2 553.6,443.3 554.4,445.2 555.3,443.4 556.1,443.5 556.9,443.2 557.7,443.9 558.5,444.2 559.4,443.4 560.2,442.0 561.0,441.0 561.8,441.0 562.6,441.3 563.5,441.0 564.3,440.3 565.1,440.2 565.9,441.1 566.7,446.0 567.6,445.5 568.4,444.3 569.2,446.4 570.0,444.3 570.8,444.2 571.7,445.4 572.5,443.1 573.3,441.1 574.1,440.3 574.9,442.3 575.8,443.0 576.6,443.3 577.4,443.5 578.2,441.9 579.0,443.3 579.9,441.5 580.7,439.3 581.5,437.0 582.3,431.9 582.7,429.6 583.0,427.1 583.3,425.4 583.6,420.9 584.0,414.6 584.1,410.9 584.2,406.3 584.4,400.4 584.5,392.4 584.7,381.5 584.7,368.0 691.1,368.0 764.9,330.7" stroke="#BC5B80"/>
<polyline points="491.4,457.5 491.5,465.8 492.2,465.0 546.0,438.1 546.2,437.9 547.0,437.5 547.9,445.8 548.7,445.0 549.5,444.1 550.3,443.8 551.1,444.5 552.0,445.2 552.8,445.6 553.6,443.8 554.4,445.0 555.3,442.6 556.1,443.6 556.9,442.3 557.7,440.7 558.5,439.2 559.4,438.7 560.2,439.6 561.0,441.1 561.8,441.8 562.6,441.5 563.5,441.0 564.3,441.1 565.1,441.6 565.9,441.4 566.7,444.8 567.6,441.4 568.4,439.8 569.2,444.0 570.0,443.1 570.8,444.0 571.7,444.9 572.5,443.1 573.3,442.9 574.1,443.1 574.9,443.8 575.8,441.8 576.6,439.8 577.4,441.1 578.2,440.6 579.0,442.8 579.9,441.4 580.7,440.4 581.5,442.4 582.3,442.6 583.1,443.3 584.0,444.2 584.8,446.1 585.6,444.8 586.4,442.5 587.3,444.4 588.1,442.5 588.9,440.6 589.7,439.3 590.5,442.2 591.4,444.6 592.2,445.0 593.0,447.3 593.8,444.4 594.6,442.6 595.5,442.0 596.3,441.8 597.1,440.9 597.9,439.0 598.7,437.4 599.6,439.8 600.4,438.9 601.2,439.5 602.0,439.1 602.8,434.5 603.2,432.5 603.5,430.3 603.8,427.8 604.2,424.5 604.5,419.8 604.8,412.6 604.9,408.3 605.1,402.8 605.2,395.6 605.4,385.8 605.5,368.0 691.1,368.0 764.9,330.7" stroke="#47B66D"/>
<polyline points="491.4,457.8 491.5,465.8 492.2,465.0 546.0,438.1 546.2,437.9 547.0,437.5 547.9,443.3 548.7,443.7 549.5,443.7 550.3,441.8 551.1,441.9 552.0,443.1 552.8,444.6 553.6,443.4 554.4,443.5 555.3,443.0 556.1,444.3 556.9,444.3 557.7,442.9 558.5,440.6 559.4,439.0 560.2,439.1 561.0,440.0 561.8,440.4 562.6,440.1 563.5,440.0 564.3,441.1 565.1,442.9 565.9,443.8 566.7,445.9 567.6,442.9 568.4,441.1 569.2,444.3 570.0,442.9 570.8,441.9 571.7,441.1 572.5,440.0 573.3,440.9 574.1,442.6 574.9,445.0 575.8,443.8 576.6,442.3 577.4,442.3 578.2,442.2 579.0,442.7 579.9,441.0 580.7,439.0 581.5,440.2 582.3,440.6 583.1,442.0 584.0,443.4 584.8,445.1 585.6,444.7 586.4,443.9 587.3,445.4 588.1,444.2 588.9,441.9 589.7,439.6 590.5,439.5 591.4,441.2 592.2,442.7 593.0,444.2 593.8,442.5 594.6,441.9 595.5,442.8 596.3,443.9 597.1,443.7 597.9,442.0 598.7,440.1 599.6,442.8 600.4,441.9 601.2,442.7 602.0,442.8 602.8,440.9 603.7,440.7 604.5,442.2 605.3,443.7 606.1,444.7 606.9,444.8 607.8,443.3 608.6,442.2 609.4,441.9 610.2,442.4 611.0,441.1 611.9,441.3 612.7,440.5 613.5,442.8 614.3,444.6 615.1,443.9 616.0,442.7 616.8,443.0 617.6,443.0 618.4,444.8 619.2,446.1 620.1,442.2 620.9,439.8 621.7,439.5 622.5,440.6 623.4,441.5 624.2,441.4 625.0,441.7 625.8,442.7 626.6,443.6 627.5,443.9 628.3,442.8 629.1,440.6 629.9,439.2 630.7,440.3 631.6,442.4 632.4,441.7 633.2,441.9 634.0,442.9 634.8,442.8 635.7,445.4 636.5,445.3 637.3,443.8 638.1,441.8 638.9,441.4 639.8,442.8 640.6,442.0 641.4,441.6 642.2,440.5 643.0,439.6 643.9,444.1 644.7,444.5 645.5,445.6 646.3,444.1 647.1,442.6 648.0,443.5 648.8,443.1 649.6,443.7 650.4,441.5 651.2,439.3 652.1,438.5 652.9,439.6 653.7,441.2 654.5,442.0 655.4,441.7 656.2,441.5 657.0,442.2 657.8,443.2 658.6,442.9 659.5,443.8 660.3,440.7 661.1,439.5 661.9,439.9 662.7,442.3 663.6,441.6 664.4,440.8 665.2,442.7 666.0,444.0 666.8,448.9 667.7,446.6 668.5,447.4 669.3,443.4 670.1,441.6 670.9,442.8 671.8,442.4 672.6,441.7 673.4,440.1 674.2,440.2 675.0,442.5 675.9,446.1 676.7,445.5 677.5,442.3 678.3,438.8 679.1,436.3 680.0,434.0 680.3,432.9 680.6,432.1 681.0,428.5 681.3,424.0 681.6,418.3 681.9,410.3 682.1,405.8 682.2,400.0 682.3,392.5 682.5,381.9 682.6,368.0 691.1,368.0 764.9,330.7" stroke="#5E81B5"/>
<polyline points="491.4,487.0 491.5,465.8 492.2,465.0 546.0,438.1 546.2,437.9 547.0,437.5 547.9,447.8 548.7,447.1 549.5,447.2 550.3,445.4 551.1,446.1 552.0,448.3 552.8,447.8 553.6,445.3 554.4,446.1 555.3,443.3 556.1,443.5 556.9,442.5 557.7,441.2 558.5,439.8 559.4,439.5 560.2,440.8 561.0,442.6 561.8,443.4 562.6,442.8 563.5,441.9 564.3,441.7 565.1,442.1 565.9,441.9 566.7,445.4 567.6,441.9 568.4,440.4 569.2,446.1 570.0,445.1 570.8,445.9 571.7,447.1 572.5,444.8 573.3,444.1 574.1,443.6 574.9,444.8 575.8,441.0 576.6,437.5 577.4,437.3 578.2,434.9 579.0,433.0 579.4,430.8 579.7,428.0 580.0,424.4 580.4,419.5 580.7,412.3 580.8,408.2 581.0,402.9 581.1,396.0 581.2,386.6 581.4,368.0 691.1,368.0 764.9,330.7" stroke="#E19C24"/>
<polyline points="491.4,471.8 491.5,465.8 492.2,465.0 546.0,438.1 546.2,437.9 547.0,437.5 547.9,443.6 548.7,445.4 549.5,445.6 550.3,443.7 551.1,443.3 552.0,443.4 552.8,443.6 553.6,442.4 554.4,442.6 555.3,442.3 556.1,444.3 556.9,445.1 557.7,444.9 558.5,443.6 559.4,442.4 560.2,442.1 561.0,442.3 561.8,442.0 562.6,440.8 563.5,439.9 564.3,440.4 565.1,442.0 565.9,443.5 566.7,446.0 567.6,444.4 568.4,443.6 569.2,446.0 570.0,445.1 570.8,444.5 571.7,442.8 572.5,440.9 573.3,440.7 574.1,441.8 574.9,444.3 575.8,443.6 576.6,442.9 577.4,444.2 578.2,444.7 579.0,446.6 579.9,444.8 580.7,442.5 581.5,441.8 582.3,441.4 583.1,441.8 584.0,442.5 584.8,443.8 585.6,443.8 586.4,443.7 587.3,445.5 588.1,445.6 588.9,444.5 589.7,442.8 590.5,442.4 591.4,443.1 592.2,443.8 593.0,444.5 593.8,442.3 594.6,441.3 595.5,442.1 596.3,443.6 597.1,444.4 597.9,443.9 598.7,442.9 599.6,445.3 600.4,444.5 601.2,444.9 602.0,444.6 602.8,441.9 603.7,440.8 604.5,441.4 605.3,442.7 606.1,444.3 606.9,444.8 607.8,444.9 608.6,444.5 609.4,444.7 610.2,445.4 611.0,444.3 611.9,442.8 612.7,441.3 613.5,442.1 614.3,443.5 615.1,442.9 616.0,442.2 616.8,442.7 617.6,443.7 618.4,446.4 619.2,448.5 620.1,445.4 620.9,442.9 621.7,441.8 622.5,441.9 623.4,441.8 624.2,440.6 625.0,439.9 625.8,440.4 626.6,440.3 627.5,439.8 628.3,437.5 629.1,433.2 629.4,430.8 629.8,428.1 630.1,424.6 630.4,420.2 630.7,413.0 630.9,408.7 631.0,403.3 631.1,396.2 631.3,386.6 631.4,368.0 691.1,368.0 764.9,330.7" stroke="#8FB032"/>
<polyline points="491.4,486.4 491.5,465.8 492.2,465.0 546.0,438.1 546.2,432.5 547.0,429.5 547.4,436.1 547.7,435.4 548.0,431.2 548.4,426.4 548.7,421.6 549.0,412.7 549.2,407.6 549.3,401.3 549.4,392.9 549.6,381.9 549.7,368.0 691.1,368.0 764.9,330.7" stroke="#EB6235"/>
<polyline points="491.4,441.2 491.5,465.8 492.2,465.0 546.0,438.1 546.2,437.9 547.0,437.5 547.9,447.0 548.7,447.8 549.5,448.9 550.3,446.2 551.1,444.0 552.0,443.4 552.8,444.1 553.6,443.4 554.4,445.7 555.3,443.6 556.1,444.5 556.9,444.7 557.7,444.7 558.5,443.4 559.4,441.3 560.2,439.9 561.0,439.9 561.8,440.5 562.6,440.5 563.5,439.9 564.3,439.8 565.1,441.0 565.9,442.9 566.7,451.0 567.6,446.8 568.4,442.9 569.2,445.5 570.0,441.7 570.8,440.5 571.7,437.3 572.5,431.5 572.8,429.0 573.1,426.3 573.5,423.0 573.8,418.7 574.1,412.0 574.3,408.1 574.4,402.9 574.5,396.1 574.7,386.6 574.8,368.0 691.1,368.0 764.9,330.7" stroke="#8778B3"/>
<polyline points="491.4,459.5 491.5,465.8 492.2,465.0 546.0,438.1 546.2,437.9 547.0,437.5 547.9,448.2 548.7,447.3 549.5,446.7 550.3,445.5 551.1,444.7 552.0,444.4 552.8,444.0 553.6,442.7 554.4,445.4 555.3,444.0 556.1,443.8 556.9,442.3 557.7,441.5 558.5,441.2 559.4,440.4 560.2,439.3 561.0,437.9 561.8,436.6 562.6,435.6 563.5,434.2 564.3,431.2 564.6,429.4 564.9,426.9 565.3,423.6 565.6,419.0 565.9,412.0 566.1,408.0 566.2,402.8 566.3,395.9 566.5,386.6 566.6,368.0 691.1,368.0 764.9,330.7" stroke="#C56E1A"/>
<polyline points="491.4,441.6 491.5,465.8 492.2,465.0 546.0,438.1 546.2,437.9 547.0,437.5 547.9,448.4 548.7,448.6 549.5,448.9 550.3,448.0 551.1,446.1 552.0,445.1 552.8,443.5 553.6,442.6 554.4,445.1 555.3,445.5 556.1,446.3 556.9,443.9 557.7,442.6 558.5,442.4 559.4,442.4 560.2,441.1 561.0,439.2 561.8,438.1 562.6,439.1 563.5,441.1 564.3,442.5 565.1,442.5 565.9,442.0 566.7,447.5 567.6,446.3 568.4,445.2 569.2,448.9 570.0,443.7 570.8,442.4 571.7,444.2 572.5,443.4 573.3,442.8 574.1,441.8 574.9,445.4 575.8,444.8 576.6,445.3 577.4,447.5 578.2,444.6 579.0,445.0 579.9,442.1 580.7,441.4 581.5,443.3 582.3,441.7 583.1,440.2 584.0,441.3 584.8,447.5 585.6,447.9 586.4,445.5 587.3,444.9 588.1,440.2 588.9,436.8 589.7,433.6 590.0,431.9 590.4,432.3 590.7,428.7 591.0,424.4 591.4,420.0 591.7,412.5 591.8,407.4 592.0,401.0 592.1,392.7 592.2,381.9 592.3,368.0 691.1,368.0 764.9,330.7" stroke="#5D9EC7"/>
<polyline points="491.4,461.1 491.5,465.8 492.2,465.0 546.0,438.1 546.2,437.9 547.0,437.5 547.9,443.7 548.7,443.4 549.5,445.6 550.3,446.3 551.1,446.0 552.0,445.4 552.8,445.8 553.6,445.2 554.4,445.5 555.3,444.1 556.1,443.5 556.9,441.8 557.7,441.5 558.5,442.0 559.4,442.4 560.2,442.2 561.0,442.1 561.8,442.6 562.6,443.7 563.5,444.2 564.3,443.6 565.1,442.4 565.9,441.6 566.7,444.4 567.6,443.6 568.4,442.7 569.2,444.2 570.0,442.9 570.8,443.7 571.7,445.1 572.5,445.1 573.3,444.3 574.1,443.1 574.9,443.9 575.8,443.4 576.6,443.0 577.4,442.9 578.2,441.5 579.0,442.4 579.9,442.5 580.7,443.4 581.5,445.4 582.3,444.4 583.1,443.5 584.0,444.6 584.8,445.8 585.6,445.8 586.4,443.7 587.3,443.5 588.1,442.1 588.9,442.1 589.7,442.7 590.5,444.3 591.4,445.0 592.2,444.6 593.0,446.0 593.8,444.9 594.6,443.4 595.5,441.0 596.3,438.4 597.1,436.2 597.9,434.1 598.2,432.9 598.6,431.3 598.9,429.3 599.2,426.5 599.6,424.7 599.9,418.7 600.2,409.8 600.4,404.6 600.5,397.8 600.6,388.7 600.8,368.0 691.1,368.0 764.9,330.7" stroke="#FFBF00"/>
<polyline points="491.4,454.0 491.5,465.8 492.2,465.0 546.0,438.1 546.2,437.9 547.0,437.5 547.9,450.0 548.7,449.2 549.5,449.0 550.3,448.9 551.1,449.7 552.0,449.6 552.8,449.3 553.6,444.8 554.4,444.0 555.3,441.7 556.1,444.7 556.9,444.1 557.7,443.2 558.5,442.2 559.4,442.4 560.2,444.0 561.0,445.3 561.8,444.7 562.6,442.6 563.5,440.7 564.3,440.3 565.1,440.9 565.9,441.1 566.7,447.9 567.6,444.2 568.4,443.4 569.2,449.1 570.0,448.3 570.8,448.9 571.7,447.5 572.5,444.5 573.3,443.4 574.1,443.0 574.9,444.7 575.8,441.7 576.6,439.9 577.4,441.9 578.2,443.3 579.0,447.5 579.9,446.0 580.7,444.3 581.5,447.3 582.3,446.0 583.1,444.5 584.0,444.3 584.8,444.1 585.6,442.0 586.4,438.5 587.3,438.7 588.1,434.2 588.4,431.7 588.7,428.6 589.1,424.6 589.4,419.2 589.7,411.2 589.8,406.4 590.0,400.3 590.1,392.1 590.3,381.1 590.3,368.0 691.1,368.0 764.9,330.7" stroke="#A5609D"/>
<polyline points="491.4,440.7 491.5,465.8 492.2,465.0 546.0,438.1 546.2,437.9 547.0,437.5 547.9,442.7 548.7,444.3 549.5,446.4 550.3,446.3 551.1,445.2 552.0,445.4 552.8,445.5 553.6,444.0 554.4,444.1 555.3,441.9 556.1,442.3 556.9,442.2 557.7,442.4 558.5,442.2 559.4,441.9 560.2,442.1 561.0,442.8 561.8,443.3 562.6,443.0 563.5,441.8 564.3,440.9 565.1,440.7 565.9,441.1 566.7,443.8 567.6,442.5 568.4,441.7 569.2,444.1 570.0,444.1 570.8,445.4 571.7,445.2 572.5,443.4 573.3,442.2 574.1,441.9 574.9,442.7 575.8,442.0 576.6,440.7 577.4,440.4 578.2,440.0 579.0,440.8 579.9,439.9 580.7,437.8 581.5,435.8 581.8,434.1 582.2,432.2 582.5,430.0 582.8,427.2 583.1,423.5 583.5,418.5 583.8,409.8 583.9,404.6 584.1,397.9 584.2,388.7 584.4,368.0 691.1,368.0 764.9,330.7" stroke="#929600"/>
<polyline points="491.4,446.6 491.5,465.8 492.2,465.0 546.0,438.1 546.2,437.9 547.0,437.5 547.9,444.5 548.7,445.2 549.5,446.4 550.3,445.8 551.1,445.0 552.0,444.8 552.8,444.3 553.6,442.2 554.4,442.1 555.3,441.1 556.1,442.8 556.9,442.8 557.7,442.5 558.5,442.0 559.4,442.0 560.2,442.7 561.0,443.3 561.8,442.8 562.6,441.5 563.5,440.4 564.3,440.3 565.1,440.8 565.9,441.1 566.7,444.7 567.6,442.9 568.4,442.6 569.2,445.3 570.0,445.0 570.8,445.2 571.7,443.9 572.5,442.3 573.3,441.7 574.1,441.7 574.9,443.0 575.8,441.4 576.6,440.6 577.4,442.0 578.2,442.8 579.0,444.2 579.9,443.5 580.7,442.6 581.5,443.3 582.3,442.9 583.1,442.6 584.0,443.0 584.8,443.6 585.6,443.2 586.4,442.3 587.3,444.1 588.1,443.7 588.9,443.0 589.7,442.4 590.5,444.3 591.4,446.2 592.2,445.9 593.0,446.0 593.8,442.9 594.6,441.3 595.5,441.1 596.3,441.5 597.1,441.6 597.9,441.2 598.7,441.2 599.6,445.6 600.4,445.2 601.2,446.2 602.0,445.9 602.8,443.3 603.7,441.9 604.5,441.6 605.3,441.5 606.1,442.2 606.9,442.0 607.8,443.1 608.6,443.1 609.4,443.7 610.2,444.3 611.0,444.6 611.9,444.2 612.7,443.0 613.5,444.2 614.3,444.6 615.1,442.4 616.0,440.8 616.8,441.5 617.6,441.9 618.4,445.2 619.2,449.6 620.1,446.3 620.9,444.3 621.7,443.7 622.5,443.5 623.4,442.7 624.2,441.3 625.0,441.2 625.8,441.4 626.6,441.6 627.5,442.0 628.3,441.9 629.1,441.6 629.9,441.8 630.7,443.9 631.6,445.7 632.4,444.3 633.2,443.5 634.0,444.6 634.8,442.8 635.7,443.9 636.5,442.8 637.3,441.7 638.1,441.1 638.9,442.4 639.8,445.0 640.6,444.7 641.4,444.8 642.2,444.1 643.0,442.5 643.9,447.3 644.7,444.9 645.5,444.4 646.3,442.2 647.1,441.0 648.0,442.8 648.8,443.2 649.6,445.4 650.4,444.2 651.2,442.8 652.1,441.6 652.9,441.0 653.7,440.0 654.5,438.0 655.4,435.2 656.2,432.4 656.5,431.2 656.8,429.8 657.2,428.1 657.5,425.8 657.8,422.5 658.1,417.4 658.5,409.3 658.6,404.3 658.7,397.9 658.9,388.7 659.1,368.0 691.1,368.0 764.9,330.7" stroke="#E95536"/>
<polyline points="491.4,440.3 491.5,465.8 492.2,465.0 546.0,438.1 546.2,437.9 547.0,437.5 547.9,446.7 548.7,447.1 549.5,448.5 550.3,446.7 551.1,444.0 552.0,443.2 552.8,443.0 553.6,442.4 554.4,443.2 555.3,441.9 556.1,443.3 556.9,443.0 557.7,443.5 558.5,443.2 559.4,441.7 560.2,439.9 561.0,439.1 561.8,439.4 562.6,439.9 563.5,439.6 564.3,439.1 565.1,439.5 565.9,440.9 566.7,447.5 567.6,445.7 568.4,443.5 569.2,445.3 570.0,442.9 570.8,443.7 571.7,444.5 572.5,441.7 573.3,439.8 574.1,439.4 574.9,443.8 575.8,443.8 576.6,443.3 577.4,444.0 578.2,442.4 579.0,444.9 579.9,443.7 580.7,442.3 581.5,443.3 582.3,440.4 583.1,439.6 584.0,442.0 584.8,445.0 585.6,444.8 586.4,442.9 587.3,444.4 588.1,443.9 588.9,443.7 589.7,442.5 590.5,442.1 591.4,441.5 592.2,441.7 593.0,444.8 593.8,443.1 594.6,441.5 595.5,440.6 596.3,441.0 597.1,442.3 597.9,443.1 598.7,442.4 599.6,445.2 600.4,442.3 601.2,442.3 602.0,443.1 602.8,441.5 603.7,439.9 604.5,439.1 605.3,439.9 606.1,443.0 606.9,444.5 607.8,444.6 608.6,442.7 609.4,441.6 610.2,443.0 611.0,444.0 611.9,443.9 612.7,440.8 613.5,440.5 614.3,441.8 615.1,442.2 616.0,442.4 616.8,442.7 617.6,441.8 618.4,444.4 619.2,447.6 620.1,445.2 620.9,442.6 621.7,440.1 622.5,438.9 623.4,439.3 624.2,440.2 625.0,441.4 625.8,442.3 626.6,440.7 627.5,440.4 628.3,440.2 629.1,438.8 629.9,435.6 630.7,432.6 631.1,430.4 631.4,428.0 631.7,426.8 632.0,422.8 632.4,417.3 632.7,409.4 632.8,404.3 633.0,397.6 633.1,388.5 633.3,368.0 691.1,368.0 764.9,330.7" stroke="#6685D9"/>
<polyline points="491.4,459.3 491.5,465.8 492.2,465.0 546.0,438.1 546.2,437.9 547.0,437.5 547.9,445.3 548.7,445.7 549.5,447.1 550.3,446.2 551.1,444.0 552.0,443.2 552.8,443.7 553.6,442.7 554.4,444.2 555.3,442.3 556.1,443.4 556.9,443.3 557.7,443.8 558.5,443.7 559.4,442.7 560.2,441.7 561.0,441.4 561.8,441.5 562.6,441.3 563.5,440.5 564.3,439.8 565.1,440.0 565.9,441.2 566.7,446.5 567.6,445.0 568.4,443.6 569.2,445.5 570.0,444.2 570.8,444.9 571.7,445.4 572.5,442.7 573.3,440.9 574.1,440.5 574.9,443.3 575.8,443.1 576.6,442.6 577.4,443.2 578.2,442.7 579.0,444.7 579.9,444.3 580.7,443.3 581.5,442.7 582.3,441.1 583.1,440.7 584.0,442.7 584.8,444.6 585.6,444.0 586.4,442.5 587.3,444.1 588.1,444.1 588.9,444.2 589.7,443.4 590.5,442.9 591.4,443.0 592.2,443.0 593.0,445.0 593.8,443.1 594.6,441.5 595.5,440.7 596.3,441.2 597.1,442.3 597.9,443.0 598.7,442.7 599.6,446.0 600.4,444.0 601.2,444.9 602.0,445.5 602.8,443.3 603.7,441.3 604.5,440.3 605.3,440.7 606.1,442.6 606.9,445.2 607.8,445.2 608.6,443.7 609.4,443.2 610.2,444.0 611.0,444.2 611.9,444.7 612.7,442.1 613.5,442.2 614.3,442.6 615.1,442.4 616.0,442.0 616.8,442.9 617.6,442.3 618.4,445.3 619.2,450.1 620.1,447.2 620.9,444.5 621.7,442.4 622.5,441.4 623.4,441.3 624.2,441.3 625.0,442.2 625.8,442.1 626.6,441.6 627.5,442.3 628.3,443.2 629.1,443.3 629.9,442.5 630.7,443.4 631.6,443.9 632.4,443.1 633.2,443.6 634.0,444.5 634.8,442.0 635.7,442.5 636.5,442.6 637.3,443.0 638.1,442.9 638.9,444.0 639.8,445.0 640.6,444.0 641.4,444.8 642.2,444.4 643.0,442.2 643.9,445.4 644.7,443.1 645.5,443.4 646.3,443.0 647.1,442.4 648.0,443.3 648.8,442.9 649.6,446.4 650.4,445.3 651.2,443.8 652.1,442.1 652.9,440.8 653.7,440.6 654.5,441.0 655.4,441.1 656.2,440.7 657.0,440.5 657.8,441.3 658.6,442.5 659.5,445.4 660.3,444.1 661.1,442.6 661.9,441.6 662.7,443.3 663.6,441.9 664.4,440.2 665.2,440.5 666.0,439.6 666.8,442.7 667.7,438.3 668.0,437.4 668.3,438.6 668.6,435.1 669.0,431.1 669.3,426.4 669.6,420.3 670.0,411.4 670.1,406.3 670.2,399.8 670.4,391.1 670.5,379.7 670.6,368.0 691.1,368.0 764.9,330.7" stroke="#F89F13"/>
<polyline points="491.4,467.2 491.5,465.8 492.2,465.0 546.0,438.1 546.2,437.9 547.0,437.5 547.9,445.9 548.7,446.6 549.5,445.4 550.3,443.6 551.1,444.8 552.0,445.4 552.8,445.2 553.6,443.6 554.4,443.9 555.3,443.5 556.1,444.9 556.9,443.6 557.7,441.6 558.5,439.7 559.4,439.1 560.2,439.9 561.0,440.7 561.8,440.8 562.6,440.5 563.5,440.9 564.3,442.2 565.1,443.3 565.9,443.1 566.7,447.1 567.6,443.4 568.4,441.7 569.2,445.5 570.0,443.5 570.8,443.1 571.7,443.6 572.5,442.5 573.3,443.1 574.1,443.8 574.9,446.5 575.8,444.0 576.6,442.2 577.4,442.9 578.2,442.3 579.0,444.2 579.9,441.5 580.7,439.9 581.5,442.4 582.3,442.8 583.1,443.3 584.0,444.9 584.8,446.9 585.6,446.1 586.4,444.7 587.3,446.4 588.1,443.7 588.9,441.1 589.7,439.5 590.5,440.7 591.4,443.9 592.2,444.6 593.0,445.3 593.8,443.4 594.6,443.0 595.5,443.6 596.3,443.7 597.1,442.5 597.9,440.6 598.7,439.5 599.6,444.4 600.4,443.0 601.2,444.2 602.0,443.6 602.8,442.1 603.7,442.4 604.5,443.5 605.3,443.8 606.1,444.3 606.9,444.4 607.8,444.7 608.6,443.1 609.4,442.2 610.2,442.6 611.0,441.7 611.9,442.9 612.7,442.6 613.5,444.7 614.3,446.2 615.1,444.3 616.0,442.8 616.8,444.2 617.6,443.5 618.4,446.6 619.2,448.4 620.1,443.6 620.9,441.4 621.7,441.4 622.5,442.1 623.4,442.2 624.2,441.8 625.0,442.6 625.8,444.6 626.6,444.3 627.5,443.4 628.3,441.5 629.1,439.7 629.9,439.2 630.7,441.6 631.6,443.0 632.4,441.9 633.2,442.2 634.0,445.4 634.8,444.8 635.7,447.3 636.5,445.4 637.3,443.0 638.1,441.1 638.9,441.6 639.8,444.1 640.6,442.5 641.4,442.5 642.2,442.4 643.0,441.8 643.9,448.5 644.7,446.9 645.5,447.3 646.3,444.5 647.1,442.7 648.0,444.5 648.8,443.3 649.6,444.9 650.4,441.8 651.2,440.0 652.1,440.0 652.9,441.3 653.7,442.3 654.5,442.3 655.4,441.7 656.2,441.7 657.0,442.4 657.8,442.6 658.6,441.6 659.5,443.2 660.3,440.8 661.1,440.3 661.9,441.0 662.7,444.6 663.6,442.9 664.4,442.0 665.2,444.5 666.0,445.4 666.8,450.0 667.7,446.2 668.5,445.7 669.3,442.5 670.1,441.5 670.9,442.7 671.8,442.7 672.6,443.1 673.4,441.1 674.2,440.7 675.0,442.6 675.9,445.3 676.7,442.5 677.5,438.3 677.8,435.8 678.2,433.3 678.5,430.6 678.8,427.5 679.1,423.7 679.5,419.3 679.8,410.6 679.9,405.5 680.1,399.0 680.2,390.4 680.3,378.7 680.4,368.0 691.1,368.0 764.9,330.7" stroke="#BC5B80"/>
<polyline points="491.4,443.8 491.5,465.8 492.2,465.0 546.0,438.1 546.2,437.9 547.0,437.5 547.9,442.4 548.7,443.0 549.5,442.2 550.3,441.3 551.1,441.6 552.0,443.4 552.8,445.1 553.6,444.2 554.4,444.3 555.3,442.7 556.1,443.4 556.9,442.8 557.7,441.4 558.5,439.4 559.4,438.1 560.2,438.8 561.0,440.6 561.8,441.9 562.6,441.9 563.5,441.5 564.3,441.8 565.1,442.8 565.9,443.1 566.7,444.3 567.6,441.1 568.4,439.3 569.2,441.4 570.0,441.6 570.8,442.6 571.7,442.4 572.5,441.5 573.3,442.2 574.1,443.6 574.9,445.4 575.8,443.5 576.6,441.1 577.4,440.4 578.2,440.3 579.0,442.0 579.9,440.9 580.7,439.6 581.5,440.3 582.3,441.4 583.1,443.2 584.0,444.4 584.8,446.1 585.6,444.4 586.4,442.7 587.3,443.0 588.1,442.1 588.9,440.3 589.7,438.7 590.5,439.2 591.4,441.2 592.2,443.2 593.0,444.7 593.8,443.3 594.6,442.4 595.5,442.5 596.3,442.9 597.1,442.3 597.9,440.4 598.7,438.6 599.6,441.2 600.4,441.2 601.2,443.2 602.0,444.2 602.8,442.6 603.7,442.2 604.5,443.1 605.3,444.0 606.1,444.6 606.9,443.2 607.8,442.4 608.6,440.8 609.4,440.7 610.2,441.7 611.0,441.8 611.9,442.0 612.7,441.7 613.5,443.7 614.3,445.6 615.1,444.6 616.0,442.6 616.8,442.2 617.6,441.4 618.4,442.7 619.2,444.8 620.1,441.6 620.9,439.8 621.7,440.1 622.5,441.8 623.4,443.1 624.2,443.0 625.0,442.7 625.8,443.0 626.6,442.8 627.5,442.6 628.3,441.3 629.1,439.2 629.9,438.1 630.7,440.2 631.6,443.0 632.4,443.1 633.2,443.6 634.0,444.8 634.8,443.9 635.7,444.7 636.5,444.3 637.3,442.5 638.1,440.1 638.9,439.2 639.8,440.0 640.6,440.6 641.4,441.7 642.2,441.7 643.0,441.1 643.9,444.6 644.7,445.1 645.5,446.0 646.3,443.9 647.1,441.5 648.0,441.8 648.8,441.2 649.6,442.8 650.4,441.1 651.2,439.6 652.1,439.4 652.9,440.9 653.7,442.8 654.5,443.5 655.4,442.7 656.2,441.5 657.0,441.2 657.8,441.6 658.6,441.3 659.5,441.6 660.3,439.3 661.1,438.8 661.9,440.1 662.7,442.9 663.6,443.0 664.4,442.3 665.2,443.0 666.0,443.7 666.8,445.9 667.7,444.1 668.5,444.2 669.3,440.8 670.1,439.6 670.9,441.5 671.8,442.2 672.6,442.3 673.4,440.2 674.2,439.1 675.0,439.3 675.9,440.1 676.7,436.3 677.0,433.7 677.3,431.6 677.7,427.9 678.0,423.6 678.3,418.1 678.7,410.4 678.8,405.9 678.9,400.1 679.1,392.5 679.2,381.9 679.3,368.0 691.1,368.0 764.9,330.7" stroke="#47B66D"/>
<polyline points="491.4,446.3 491.5,465.8 492.2,465.0 546.0,438.1 546.2,437.9 547.0,437.5 547.9,445.5 548.7,445.2 549.5,444.2 550.3,443.5 551.1,445.5 552.0,447.5 552.8,447.5 553.6,444.0 554.4,444.7 555.3,442.7 556.1,442.6 556.9,440.9 557.7,438.7 558.5,437.4 559.4,438.2 560.2,440.4 561.0,442.1 561.8,442.0 562.6,441.2 563.5,441.0 564.3,441.7 565.1,441.9 565.9,440.5 566.7,442.0 567.6,439.1 568.4,438.9 569.2,444.1 570.0,443.3 570.8,443.2 571.7,442.8 572.5,442.6 573.3,443.5 574.1,443.5 574.9,443.4 575.8,440.2 576.6,438.4 577.4,440.0 578.2,440.2 579.0,441.8 579.9,440.2 580.7,439.7 581.5,442.2 582.3,443.6 583.1,444.0 584.0,443.3 584.8,446.3 585.6,444.6 586.4,442.6 587.3,443.1 588.1,440.7 588.9,438.6 589.7,438.2 590.5,442.2 591.4,444.9 592.2,445.3 593.0,445.5 593.8,442.9 594.6,442.0 595.5,442.0 596.3,441.2 597.1,439.2 597.9,437.3 598.7,437.1 599.6,441.2 600.4,442.1 601.2,444.4 602.0,444.2 602.8,442.7 603.7,442.9 604.5,443.4 605.3,442.5 606.1,441.4 606.9,440.3 607.8,441.7 608.6,441.0 609.4,441.0 610.2,442.3 611.0,443.0 611.9,443.4 612.7,443.8 613.5,445.9 614.3,445.1 615.1,442.1 616.0,439.8 616.8,440.4 617.6,440.2 618.4,442.9 619.2,445.1 620.1,441.7 620.9,441.1 621.7,442.5 622.5,443.7 623.4,443.2 624.2,441.6 625.0,441.6 625.8,442.4 626.6,441.7 627.5,440.3 628.3,438.2 629.1,437.1 629.9,438.0 630.7,442.6 631.6,444.4 632.4,443.3 633.2,443.4 634.0,444.2 634.8,442.5 635.7,441.5 636.5,437.9 637.3,433.4 638.1,429.4 638.4,430.4 638.8,428.3 639.1,425.8 639.4,422.6 639.8,418.9 640.1,411.1 640.2,406.5 640.4,400.6 640.5,392.6 640.6,381.9 640.7,368.0 691.1,368.0 764.9,330.7" stroke="#5E81B5"/>
<polyline points="491.4,467.1 491.5,465.8 492.2,465.0 546.0,438.1 546.2,437.9 547.0,437.5 547.9,446.3 548.7,446.4 549.5,447.0 550.3,445.6 551.1,443.6 552.0,442.8 552.8,442.9 553.6,443.0 554.4,445.3 555.3,444.4 556.1,444.6 556.9,443.5 557.7,443.4 558.5,443.5 559.4,442.6 560.2,441.1 561.0,439.9 561.8,440.0 562.6,441.0 563.5,441.8 564.3,441.8 565.1,441.6 565.9,442.1 566.7,446.7 567.6,445.8 568.4,444.3 569.2,446.7 570.0,443.4 570.8,443.7 571.7,444.1 572.5,442.9 573.3,441.8 574.1,441.2 574.9,443.8 575.8,444.3 576.6,444.6 577.4,445.0 578.2,443.1 579.0,443.8 579.9,442.9 580.7,442.4 581.5,443.8 582.3,441.7 583.1,440.8 584.0,442.4 584.8,445.6 585.6,446.7 586.4,445.0 587.3,445.0 588.1,443.8 588.9,443.5 589.7,443.0 590.5,443.4 591.4,442.7 592.2,442.2 593.0,444.7 593.8,444.1 594.6,443.7 595.5,442.9 596.3,442.5 597.1,442.9 597.9,443.6 598.7,443.4 599.6,444.9 600.4,442.3 601.2,442.8 602.0,443.8 602.8,443.1 603.7,442.4 604.5,441.7 605.3,441.7 606.1,444.2 606.9,446.4 607.8,447.1 608.6,444.6 609.4,442.5 610.2,442.9 611.0,443.3 611.9,444.4 612.7,442.5 613.5,443.4 614.3,444.0 615.1,444.0 616.0,444.4 616.8,445.2 617.6,443.8 618.4,445.0 619.2,449.3 620.1,446.5 620.9,444.2 621.7,442.0 622.5,440.5 623.4,440.4 624.2,441.6 625.0,443.5 625.8,444.4 626.6,443.2 627.5,442.8 628.3,443.2 629.1,443.4 629.9,442.7 630.7,442.1 631.6,442.8 632.4,441.7 633.2,443.5 634.0,445.5 634.8,443.9 635.7,443.7 636.5,443.4 637.3,443.9 638.1,444.3 638.9,444.4 639.8,444.8 640.6,442.5 641.4,442.4 642.2,444.0 643.0,442.8 643.9,447.6 644.7,444.5 645.5,445.3 646.3,445.2 647.1,445.0 648.0,445.5 648.8,443.5 649.6,444.7 650.4,443.5 651.2,442.8 652.1,441.7 652.9,440.4 653.7,440.0 654.5,440.9 655.4,442.3 656.2,443.1 657.0,442.8 657.8,442.3 658.6,442.2 659.5,443.7 660.3,442.1 661.1,439.7 661.9,437.0 662.7,436.7 663.6,434.1 663.9,433.0 664.2,431.6 664.5,429.6 664.9,427.0 665.2,424.2 665.5,419.7 665.9,410.5 666.0,405.0 666.1,398.1 666.3,388.7 666.4,368.0 691.1,368.0 764.9,330.7" stroke="#E19C24"/>
<polyline points="491.4,472.6 491.5,465.8 492.2,465.0 546.0,438.1 546.2,437.9 547.0,437.5 547.9,444.1 548.7,444.5 549.5,445.5 550.3,443.9 551.1,443.6 552.0,443.9 552.8,444.4 553.6,443.8 554.4,444.2 555.3,443.5 556.1,444.7 556.9,444.5 557.7,444.0 558.5,443.0 559.4,441.9 560.2,441.5 561.0,441.7 561.8,442.0 562.6,441.9 563.5,441.7 564.3,441.9 565.1,442.8 565.9,443.6 566.7,445.4 567.6,444.0 568.4,442.8 569.2,444.6 570.0,443.7 570.8,444.1 571.7,443.5 572.5,442.3 573.3,442.1 574.1,442.8 574.9,444.6 575.8,444.2 576.6,443.4 577.4,443.6 578.2,443.3 579.0,444.2 579.9,443.3 580.7,442.1 581.5,442.5 582.3,442.0 583.1,442.5 584.0,443.5 584.8,445.6 585.6,445.2 586.4,444.2 587.3,445.0 588.1,444.5 588.9,443.5 589.7,442.3 590.5,442.8 591.4,443.1 592.2,443.7 593.0,445.2 593.8,443.8 594.6,443.0 595.5,443.1 596.3,443.7 597.1,443.9 597.9,443.4 598.7,442.4 599.6,444.1 600.4,443.1 601.2,444.0 602.0,443.9 602.8,442.6 603.7,442.1 604.5,442.4 605.3,443.3 606.1,444.7 606.9,444.5 607.8,445.1 608.6,443.8 609.4,443.3 610.2,443.9 611.0,443.5 611.9,443.0 612.7,442.0 613.5,443.0 614.3,444.1 615.1,443.9 616.0,443.4 616.8,443.4 617.6,443.3 618.4,445.1 619.2,446.7 620.1,444.4 620.9,442.5 621.7,441.7 622.5,441.7 623.4,441.6 624.2,441.0 625.0,440.8 625.8,440.4 626.6,438.6 627.5,436.2 627.8,434.8 628.1,433.0 628.4,430.6 628.8,427.6 629.1,423.5 629.4,417.9 629.8,409.3 629.9,404.2 630.0,397.6 630.2,388.7 630.3,368.0 691.1,368.0 764.9,330.7" stroke="#8FB032"/>
<polyline points="491.4,454.5 491.5,465.8 492.2,465.0 546.0,438.1 546.2,428.7 546.6,426.8 546.9,424.4 547.2,425.5 547.5,421.0 547.9,414.1 548.0,409.6 548.1,403.9 548.3,396.5 548.4,386.6 548.6,368.0 691.1,368.0 764.9,330.7" stroke="#EB6235"/>
<polyline points="491.4,451.2 491.5,465.8 492.2,465.0 546.0,438.1 546.2,437.9 547.0,437.5 547.9,448.7 548.7,446.8 549.5,446.1 550.3,446.6 551.1,446.6 552.0,446.6 552.8,447.6 553.6,445.3 554.4,446.3 555.3,445.0 556.1,445.7 556.9,443.9 557.7,442.2 558.5,441.2 559.4,441.1 560.2,441.8 561.0,442.2 561.8,442.1 562.6,442.0 563.5,442.4 564.3,443.1 565.1,443.4 565.9,442.8 566.7,447.0 567.6,444.2 568.4,443.0 569.2,447.6 570.0,445.2 570.8,444.6 571.7,445.5 572.5,444.5 573.3,444.4 574.1,444.2 574.9,446.8 575.8,444.4 576.6,443.0 577.4,445.2 578.2,443.8 579.0,444.9 579.9,442.9 580.7,442.0 581.5,445.8 582.3,445.1 583.1,444.5 584.0,444.6 584.8,449.6 585.6,447.5 586.4,445.6 587.3,445.9 588.1,443.7 588.9,441.9 589.7,441.3 590.5,443.8 591.4,445.1 592.2,446.0 593.0,447.0 593.8,445.0 594.6,444.3 595.5,444.1 596.3,443.5 597.1,442.4 597.9,441.3 598.7,440.9 599.6,445.6 600.4,444.2 601.2,445.0 602.0,446.5 602.8,444.7 603.7,444.3 604.5,444.4 605.3,443.9 606.1,444.2 606.9,445.8 607.8,445.9 608.6,444.3 609.4,443.2 610.2,444.0 611.0,445.1 611.9,447.2 612.7,445.7 613.5,448.4 614.3,448.2 615.1,445.5 616.0,443.9 616.8,444.9 617.6,443.8 618.4,447.2 619.2,451.4 620.1,446.6 620.9,444.4 621.7,443.9 622.5,443.8 623.4,443.3 624.2,442.8 625.0,445.1 625.8,446.0 626.6,444.8 627.5,443.5 628.3,442.0 629.1,441.1 629.9,441.1 630.7,444.0 631.6,446.3 632.4,444.4 633.2,445.1 634.0,448.6 634.8,446.7 635.7,448.2 636.5,445.6 637.3,443.4 638.1,442.1 638.9,443.4 639.8,444.8 640.6,443.4 641.4,443.5 642.2,444.6 643.0,443.9 643.9,451.0 644.7,448.1 645.5,447.8 646.3,445.0 647.1,443.5 648.0,444.6 648.8,443.5 649.6,445.1 650.4,442.9 651.2,441.9 652.1,442.2 652.9,442.9 653.7,443.2 654.5,442.9 655.4,442.5 656.2,442.5 657.0,442.7 657.8,442.6 658.6,441.7 659.5,444.0 660.3,442.5 661.1,442.3 661.9,442.7 662.7,446.7 663.6,444.7 664.4,443.7 665.2,447.3 666.0,448.4 666.8,453.7 667.7,447.5 668.5,449.3 669.3,443.8 670.1,440.5 670.9,438.9 671.8,436.3 672.1,433.9 672.4,431.2 672.7,429.8 673.1,425.6 673.4,420.1 673.7,411.9 673.9,407.2 674.0,401.0 674.1,392.8 674.3,381.9 674.4,368.0 691.1,368.0 764.9,330.7" stroke="#8778B3"/>
<polyline points="491.4,470.5 491.5,465.8 492.2,465.0 546.0,438.1 546.2,437.9 547.0,437.5 547.9,445.9 548.7,446.1 549.5,447.2 550.3,448.4 551.1,447.3 552.0,445.7 552.8,446.4 553.6,445.4 554.4,447.3 555.3,444.8 556.1,443.2 556.9,439.9 557.7,439.0 558.5,439.8 559.4,440.5 560.2,440.3 561.0,439.9 561.8,440.8 562.6,442.7 563.5,444.0 564.3,443.4 565.1,441.2 565.9,439.5 566.7,445.7 567.6,443.6 568.4,441.9 569.2,447.3 570.0,443.2 570.8,443.8 571.7,445.2 572.5,444.5 573.3,442.4 574.1,439.3 574.9,440.2 575.8,436.6 576.6,432.4 576.9,430.1 577.2,429.4 577.6,425.0 577.9,419.4 578.2,411.8 578.4,407.6 578.5,402.4 578.6,395.7 578.8,386.6 578.9,368.0 691.1,368.0 764.9,330.7" stroke="#C56E1A"/>
<polyline points="491.4,445.0 491.5,465.8 492.2,465.0 546.0,438.1 546.2,437.9 547.0,437.5 547.9,447.2 548.7,446.0 549.5,445.9 550.3,444.8 551.1,444.5 552.0,444.2 552.8,444.0 553.6,442.7 554.4,443.8 555.3,443.1 556.1,444.5 556.9,444.0 557.7,442.8 558.5,441.3 559.4,440.4 560.2,440.3 561.0,440.6 561.8,440.1 562.6,439.1 563.5,438.2 564.3,438.0 565.1,437.6 565.9,436.0 566.7,436.5 567.1,433.3 567.4,429.8 567.7,425.6 568.1,420.3 568.4,412.9 568.5,408.6 568.7,403.2 568.8,396.1 568.9,386.6 569.1,368.0 691.1,368.0 764.9,330.7" stroke="#5D9EC7"/>
<polyline points="491.4,485.1 491.5,465.8 492.2,465.0 546.0,438.1 546.2,437.9 547.0,437.5 547.9,444.0 548.7,444.7 549.5,445.6 550.3,445.7 551.1,444.9 552.0,445.8 552.8,446.5 553.6,445.7 554.4,447.5 555.3,444.9 556.1,445.0 556.9,443.5 557.7,442.9 558.5,442.3 559.4,441.4 560.2,441.0 561.0,441.4 561.8,442.5 562.6,443.3 563.5,443.2 564.3,442.7 565.1,442.4 565.9,442.5 566.7,447.1 567.6,444.6 568.4,442.6 569.2,447.1 570.0,444.8 570.8,445.8 571.7,447.3 572.5,445.3 573.3,444.0 574.1,443.5 574.9,446.1 575.8,444.9 576.6,443.5 577.4,443.4 578.2,441.9 579.0,442.8 579.9,442.7 580.7,442.6 581.5,444.5 582.3,443.4 583.1,443.4 584.0,444.9 584.8,448.0 585.6,446.7 586.4,444.1 587.3,444.6 588.1,443.4 588.9,442.8 589.7,442.1 590.5,442.5 591.4,443.5 592.2,444.4 593.0,447.4 593.8,444.5 594.6,441.6 595.5,438.7 596.3,435.9 597.1,432.5 597.4,430.5 597.8,427.9 598.1,424.4 598.4,419.6 598.7,412.3 598.9,408.2 599.0,402.9 599.1,396.0 599.3,386.6 599.4,368.0 691.1,368.0 764.9,330.7" stroke="#FFBF00"/>
<polyline points="491.4,466.7 491.5,465.8 492.2,465.0 546.0,438.1 546.2,437.9 547.0,437.5 547.9,444.5 548.7,443.8 549.5,442.9 550.3,443.5 551.1,444.2 552.0,443.5 552.8,443.5 553.6,442.6 554.4,444.8 555.3,445.3 556.1,446.6 556.9,444.2 557.7,442.1 558.5,441.3 559.4,441.4 560.2,441.2 561.0,440.3 561.8,439.5 562.6,439.8 563.5,441.6 564.3,443.3 565.1,443.6 565.9,442.8 566.7,445.6 567.6,444.2 568.4,443.6 569.2,444.4 570.0,441.8 570.8,440.8 571.7,442.0 572.5,442.4 573.3,443.2 574.1,443.1 574.9,443.8 575.8,443.1 576.6,443.6 577.4,445.8 578.2,444.0 579.0,443.8 579.9,440.6 580.7,439.3 581.5,440.3 582.3,439.2 583.1,437.2 584.0,435.7 584.8,435.1 585.1,434.1 585.4,431.2 585.8,427.4 586.1,422.2 586.4,414.4 586.6,409.9 586.7,404.1 586.8,396.6 587.0,386.6 587.1,368.0 691.1,368.0 764.9,330.7" stroke="#A5609D"/>
<polyline points="491.4,475.3 491.5,465.8 492.2,465.0 546.0,438.1 546.2,437.9 547.0,437.5 547.9,447.6 548.7,446.7 549.5,446.5 550.3,446.3 551.1,446.4 552.0,444.6 552.8,442.4 553.6,440.1 554.4,443.2 555.3,443.1 556.1,444.2 556.9,443.0 557.7,442.1 558.5,442.4 559.4,443.3 560.2,443.3 561.0,441.8 561.8,439.7 562.6,438.6 563.5,439.1 564.3,440.2 565.1,440.4 565.9,440.1 566.7,446.0 567.6,445.0 568.4,445.2 569.2,448.5 570.0,445.2 570.8,444.0 571.7,444.6 572.5,442.9 573.3,441.9 574.1,440.6 574.9,441.7 575.8,440.8 576.6,441.8 577.4,445.7 578.2,445.1 579.0,445.5 579.9,443.2 580.7,442.2 581.5,443.5 582.3,442.2 583.1,440.3 584.0,440.9 584.8,442.7 585.6,443.4 586.4,443.7 587.3,445.2 588.1,443.5 588.9,442.6 589.7,442.8 590.5,445.9 591.4,445.5 592.2,443.6 593.0,443.5 593.8,441.3 594.6,441.3 595.5,441.7 596.3,441.4 597.1,440.9 597.9,441.3 598.7,442.7 599.6,449.5 600.4,446.4 601.2,444.7 602.0,444.0 602.8,441.9 603.7,441.5 604.5,441.0 605.3,440.1 606.1,440.6 606.9,444.1 607.8,446.7 608.6,445.7 609.4,443.7 610.2,442.6 611.0,440.5 611.9,439.7 612.7,436.7 613.5,435.0 613.8,433.4 614.2,430.2 614.5,426.8 614.8,422.7 615.1,417.6 615.5,410.1 615.6,405.8 615.7,400.1 615.9,392.5 616.0,381.9 616.1,368.0 691.1,368.0 764.9,330.7" stroke="#929600"/>
<polyline points="491.4,463.4 491.5,465.8 492.2,465.0 546.0,438.1 546.2,437.9 547.0,437.5 547.9,446.2 548.7,446.7 549.5,446.7 550.3,445.5 551.1,443.8 552.0,443.5 552.8,445.1 553.6,445.9 554.4,448.4 555.3,446.3 556.1,445.1 556.9,443.5 557.7,443.1 558.5,442.8 559.4,441.7 560.2,440.3 561.0,440.1 561.8,441.5 562.6,443.5 563.5,444.4 564.3,444.0 565.1,443.3 565.9,443.3 566.7,446.8 567.6,445.3 568.4,443.0 569.2,445.4 570.0,442.8 570.8,444.5 571.7,445.9 572.5,445.1 573.3,444.0 574.1,443.5 574.9,446.3 575.8,446.4 576.6,445.4 577.4,444.2 578.2,441.7 579.0,443.3 579.9,442.8 580.7,442.9 581.5,444.2 582.3,442.8 583.1,442.8 584.0,445.2 584.8,450.7 585.6,450.1 586.4,446.4 587.3,445.4 588.1,443.6 588.9,443.1 589.7,442.5 590.5,442.5 591.4,442.7 592.2,444.0 593.0,447.8 593.8,447.4 594.6,446.3 595.5,444.6 596.3,443.5 597.1,443.4 597.9,443.5 598.7,442.6 599.6,444.7 600.4,441.9 601.2,442.6 602.0,444.4 602.8,444.8 603.7,444.4 604.5,443.6 605.3,443.6 606.1,445.7 606.9,446.5 607.8,446.4 608.6,443.1 609.4,441.0 610.2,441.9 611.0,443.2 611.9,445.1 612.7,443.7 613.5,444.1 614.3,445.5 615.1,446.0 616.0,446.1 616.8,445.7 617.6,443.2 618.4,444.3 619.2,449.0 620.1,446.3 620.9,444.1 621.7,442.2 622.5,441.6 623.4,442.7 624.2,444.5 625.0,446.7 625.8,447.4 626.6,444.8 627.5,443.5 628.3,443.3 629.1,443.0 629.9,441.7 630.7,441.4 631.6,442.7 632.4,443.0 633.2,445.4 634.0,448.4 634.8,446.2 635.7,445.4 636.5,444.8 637.3,444.5 638.1,443.2 638.9,442.0 639.8,439.6 640.6,437.0 641.4,436.8 642.2,435.3 642.6,433.6 642.9,431.3 643.2,428.4 643.5,425.8 643.9,422.9 644.2,413.5 644.3,408.3 644.5,401.7 644.6,393.0 644.7,381.9 644.8,368.0 691.1,368.0 764.9,330.7" stroke="#E95536"/>
<polyline points="491.4,486.2 491.5,465.8 492.2,465.0 546.0,438.1 546.2,436.4 547.0,435.2 547.9,441.4 548.7,439.4 549.5,435.0 549.8,434.9 550.2,431.8 550.5,429.6 550.8,426.0 551.1,421.5 551.5,415.8 551.6,411.9 551.8,407.0 551.9,400.6 552.0,392.1 552.2,381.0 552.2,368.0 691.1,368.0 764.9,330.7" stroke="#6685D9"/>
<polyline points="491.4,471.0 491.5,465.8 492.2,465.0 546.0,438.1 546.2,437.9 547.0,437.5 547.9,446.4 548.7,446.4 549.5,445.9 550.3,443.0 551.1,442.5 552.0,443.7 552.8,446.0 553.6,444.9 554.4,445.3 555.3,444.1 556.1,445.6 556.9,445.9 557.7,444.9 558.5,442.5 559.4,440.2 560.2,439.5 561.0,440.4 561.8,441.1 562.6,440.9 563.5,440.5 564.3,441.2 565.1,443.3 565.9,445.0 566.7,448.9 567.6,445.3 568.4,442.6 569.2,448.0 570.0,445.5 570.8,445.8 571.7,445.2 572.5,442.1 573.3,441.8 574.1,443.4 574.9,448.0 575.8,446.5 576.6,444.4 577.4,444.7 578.2,443.9 579.0,445.1 579.9,443.1 580.7,440.5 581.5,441.2 582.3,440.8 583.1,442.3 584.0,444.4 584.8,448.3 585.6,446.8 586.4,445.3 587.3,447.8 588.1,446.5 588.9,444.2 589.7,441.2 590.5,442.5 591.4,443.8 592.2,444.2 593.0,446.4 593.8,444.1 594.6,442.9 595.5,443.5 596.3,445.0 597.1,445.4 597.9,443.9 598.7,441.6 599.6,444.7 600.4,443.1 601.2,444.5 602.0,444.3 602.8,441.9 603.7,441.1 604.5,442.3 605.3,444.4 606.1,447.1 606.9,446.7 607.8,447.4 608.6,444.7 609.4,443.8 610.2,444.6 611.0,443.5 611.9,442.1 612.7,440.6 613.5,444.7 614.3,447.0 615.1,446.2 616.0,444.6 616.8,445.0 617.6,444.4 618.4,447.8 619.2,450.7 620.1,445.5 620.9,441.6 621.7,440.2 622.5,441.0 623.4,442.2 624.2,442.4 625.0,442.7 625.8,446.0 626.6,445.8 627.5,446.1 628.3,445.2 629.1,442.7 629.9,440.4 630.7,442.0 631.6,444.6 632.4,443.4 633.2,443.8 634.0,446.1 634.8,444.5 635.7,448.0 636.5,447.7 637.3,446.3 638.1,443.9 638.9,443.1 639.8,445.6 640.6,444.1 641.4,444.4 642.2,445.0 643.0,441.9 643.9,448.4 644.7,447.2 645.5,448.4 646.3,446.6 647.1,444.5 648.0,444.7 648.8,444.2 649.6,447.0 650.4,444.1 651.2,441.0 652.1,439.2 652.9,439.7 653.7,441.5 654.5,442.8 655.4,442.7 656.2,442.3 657.0,442.9 657.8,444.2 658.6,444.5 659.5,445.0 660.3,440.9 661.1,438.1 661.9,437.1 662.7,439.2 663.6,436.3 664.4,432.1 664.7,430.0 665.0,427.5 665.4,425.6 665.7,422.1 666.0,414.8 666.2,410.6 666.3,405.3 666.4,398.3 666.6,388.7 666.7,368.0 691.1,368.0 764.9,330.7" stroke="#F89F13"/>
<polyline points="491.4,487.7 491.5,465.8 492.2,465.0 546.0,438.1 546.2,437.9 547.0,437.5 547.9,447.6 548.7,446.6 549.5,447.4 550.3,448.9 551.1,449.3 552.0,447.7 552.8,448.6 553.6,446.8 554.4,448.9 555.3,446.3 556.1,445.9 556.9,442.6 557.7,441.3 558.5,441.7 559.4,442.4 560.2,442.4 561.0,442.0 561.8,442.4 562.6,443.7 563.5,444.7 564.3,444.3 565.1,442.7 565.9,441.2 566.7,445.2 567.6,443.9 568.4,443.1 569.2,447.7 570.0,444.5 570.8,445.0 571.7,448.6 572.5,447.7 573.3,446.2 574.1,444.2 574.9,445.3 575.8,444.0 576.6,443.4 577.4,445.5 578.2,442.7 579.0,442.8 579.9,442.4 580.7,443.5 581.5,447.3 582.3,445.8 583.1,444.3 584.0,444.9 584.8,448.8 585.6,446.8 586.4,442.5 587.3,441.1 588.1,436.4 588.9,432.9 589.2,431.4 589.5,429.5 589.9,427.0 590.2,423.3 590.5,418.8 590.9,409.5 591.0,403.9 591.1,396.5 591.3,386.7 591.4,368.0 691.1,368.0 764.9,330.7" stroke="#BC5B80"/>
<polyline points="491.4,457.4 491.5,465.8 492.2,465.0 546.0,438.1 546.2,437.9 547.0,437.5 547.9,445.2 548.7,445.9 549.5,448.4 550.3,448.6 551.1,447.6 552.0,445.5 552.8,445.2 553.6,443.4 554.4,445.7 555.3,444.7 556.1,445.5 556.9,444.0 557.7,443.5 558.5,443.7 559.4,443.9 560.2,443.4 561.0,442.4 561.8,441.5 562.6,441.3 563.5,441.7 564.3,442.0 565.1,441.8 565.9,441.6 566.7,445.2 567.6,444.9 568.4,444.7 569.2,447.1 570.0,444.7 570.8,444.4 571.7,444.4 572.5,443.6 573.3,442.7 574.1,441.8 574.9,442.6 575.8,442.5 576.6,443.2 577.4,445.4 578.2,444.4 579.0,445.9 579.9,444.4 580.7,443.8 581.5,445.4 582.3,443.7 583.1,442.1 584.0,442.4 584.8,446.9 585.6,446.9 586.4,445.5 587.3,446.5 588.1,444.8 588.9,444.1 589.7,444.1 590.5,446.5 591.4,446.5 592.2,444.8 593.0,445.0 593.8,443.6 594.6,443.2 595.5,442.8 596.3,442.4 597.1,442.3 597.9,442.8 598.7,443.6 599.6,447.1 600.4,444.9 601.2,445.5 602.0,446.4 602.8,444.6 603.7,443.6 604.5,442.6 605.3,441.8 606.1,443.0 606.9,445.9 607.8,448.3 608.6,446.5 609.4,444.7 610.2,445.0 611.0,445.6 611.9,447.2 612.7,445.1 613.5,445.0 614.3,444.4 615.1,443.0 616.0,443.1 616.8,444.4 617.6,444.0 618.4,446.4 619.2,451.8 620.1,448.2 620.9,446.3 621.7,444.6 622.5,442.9 623.4,441.6 624.2,441.4 625.0,443.6 625.8,445.0 626.6,443.9 627.5,443.1 628.3,443.0 629.1,443.5 629.9,443.8 630.7,444.6 631.6,444.5 632.4,442.8 633.2,443.2 634.0,445.9 634.8,444.3 635.7,444.0 636.5,442.9 637.3,442.8 638.1,443.5 638.9,446.1 639.8,447.4 640.6,444.4 641.4,444.0 642.2,444.4 643.0,441.6 643.9,443.7 644.7,438.2 645.5,433.9 645.8,431.5 646.2,428.7 646.5,425.3 646.8,420.5 647.1,413.3 647.3,409.0 647.4,403.6 647.6,396.4 647.7,386.6 647.8,368.0 691.1,368.0 764.9,330.7" stroke="#47B66D"/>
<polyline points="491.4,481.3 491.5,465.8 492.2,465.0 546.0,438.1 546.2,437.9 547.0,437.5 547.9,451.4 548.7,452.6 549.5,453.2 550.3,450.1 551.1,449.5 552.0,448.4 552.8,447.3 553.6,444.0 554.4,443.0 555.3,441.6 556.1,444.1 556.9,444.4 557.7,444.1 558.5,443.4 559.4,443.2 560.2,444.0 561.0,444.7 561.8,444.1 562.6,442.2 563.5,440.5 564.3,440.2 565.1,441.1 565.9,441.9 566.7,445.2 567.6,443.5 568.4,443.4 569.2,449.5 570.0,448.3 570.8,448.6 571.7,448.0 572.5,444.5 573.3,443.0 574.1,442.7 574.9,444.5 575.8,442.5 576.6,441.3 577.4,444.3 578.2,445.0 579.0,448.7 579.9,446.8 580.7,444.7 581.5,446.7 582.3,445.1 583.1,444.3 584.0,445.1 584.8,446.7 585.6,444.9 586.4,443.5 587.3,448.0 588.1,446.9 588.9,445.5 589.7,444.2 590.5,446.1 591.4,449.6 592.2,449.2 593.0,449.0 593.8,444.5 594.6,441.9 595.5,441.6 596.3,442.4 597.1,442.8 597.9,442.4 598.7,442.3 599.6,449.2 600.4,448.1 601.2,450.1 602.0,450.4 602.8,445.7 603.7,443.0 604.5,442.4 605.3,442.4 606.1,443.2 606.9,443.5 607.8,444.9 608.6,444.8 609.4,445.7 610.2,448.4 611.0,448.7 611.9,447.2 612.7,444.7 613.5,447.3 614.3,447.0 615.1,444.0 616.0,441.6 616.8,442.0 617.6,442.8 618.4,448.8 619.2,454.5 620.1,451.9 620.9,447.8 621.7,446.0 622.5,445.3 623.4,444.1 624.2,442.1 625.0,442.1 625.8,442.7 626.6,442.8 627.5,443.5 628.3,443.5 629.1,443.0 629.9,443.0 630.7,446.1 631.6,449.3 632.4,446.8 633.2,446.5 634.0,446.6 634.8,443.9 635.7,446.5 636.5,444.9 637.3,443.4 638.1,442.3 638.9,445.8 639.8,448.9 640.6,447.9 641.4,449.1 642.2,449.9 643.0,445.7 643.9,451.6 644.7,447.8 645.5,447.7 646.3,444.2 647.1,442.2 648.0,444.6 648.8,445.1 649.6,449.3 650.4,447.1 651.2,444.9 652.1,443.7 652.9,443.5 653.7,443.4 654.5,442.3 655.4,440.6 656.2,439.7 657.0,440.5 657.8,442.3 658.6,443.4 659.5,447.4 660.3,445.3 661.1,444.7 661.9,445.0 662.7,447.4 663.6,444.8 664.4,442.1 665.2,444.3 666.0,444.1 666.8,451.3 667.7,447.8 668.5,451.7 669.3,447.7 670.1,446.4 670.9,449.6 671.8,449.7 672.6,449.3 673.4,445.1 674.2,442.8 675.0,445.0 675.9,449.5 676.7,448.7 677.5,447.6 678.3,444.9 679.1,444.8 680.0,446.9 680.8,452.0 681.6,448.1 682.4,445.1 683.2,449.6 684.1,447.7 684.9,443.9 685.7,443.2 686.5,438.4 687.4,436.9 688.2,433.5 688.5,431.8 688.8,429.5 689.2,426.2 689.5,421.3 689.8,413.8 689.9,409.3 690.1,403.8 690.2,396.4 690.4,386.6 690.5,368.0 691.1,368.0 764.9,330.7" stroke="#5E81B5"/>
<polyline points="491.4,444.3 491.5,465.8 492.2,465.0 546.0,438.1 546.2,437.9 547.0,437.5 547.9,447.8 548.7,449.0 549.5,449.6 550.3,448.7 551.1,446.8 552.0,446.0 552.8,445.7 553.6,443.2 554.4,442.6 555.3,441.0 556.1,443.2 556.9,442.9 557.7,442.7 558.5,442.1 559.4,441.9 560.2,442.4 561.0,443.1 561.8,443.0 562.6,441.9 563.5,440.5 564.3,440.0 565.1,440.4 565.9,440.9 566.7,445.5 567.6,443.2 568.4,442.4 569.2,446.8 570.0,445.9 570.8,446.5 571.7,445.9 572.5,443.3 573.3,442.1 574.1,441.8 574.9,444.0 575.8,442.1 576.6,440.7 577.4,443.1 578.2,443.1 579.0,446.6 579.9,445.2 580.7,443.6 581.5,444.0 582.3,443.1 583.1,442.8 584.0,444.2 584.8,444.7 585.6,443.7 586.4,442.2 587.3,443.9 588.1,443.6 588.9,443.1 589.7,442.4 590.5,444.2 591.4,446.0 592.2,446.5 593.0,447.6 593.8,444.0 594.6,441.6 595.5,440.9 596.3,441.3 597.1,441.5 597.9,441.2 598.7,441.0 599.6,445.5 600.4,444.0 601.2,445.3 602.0,443.4 602.8,439.1 603.7,435.2 604.5,431.5 604.8,429.6 605.1,427.2 605.5,423.9 605.8,420.8 606.1,413.1 606.3,408.8 606.4,403.3 606.5,396.2 606.7,386.6 606.8,368.0 691.1,368.0 764.9,330.7" stroke="#E19C24"/>
<polyline points="491.4,472.5 491.5,465.8 492.2,465.0 546.0,438.1 546.2,437.9 547.0,437.5 547.9,446.2 548.7,447.4 549.5,446.4 550.3,444.9 551.1,444.4 552.0,444.8 552.8,445.3 553.6,443.7 554.4,444.3 555.3,443.3 556.1,444.0 556.9,443.6 557.7,442.8 558.5,441.7 559.4,440.8 560.2,440.7 561.0,441.0 561.8,441.1 562.6,440.8 563.5,440.7 564.3,441.2 565.1,442.1 565.9,442.6 566.7,447.6 567.6,444.7 568.4,443.0 569.2,446.0 570.0,444.1 570.8,444.3 571.7,444.4 572.5,442.5 573.3,442.1 574.1,442.5 574.9,445.4 575.8,444.0 576.6,442.8 577.4,443.3 578.2,442.8 579.0,444.4 579.9,442.7 580.7,441.3 581.5,441.8 582.3,441.5 583.1,441.9 584.0,443.7 584.8,446.2 585.6,445.3 586.4,444.1 587.3,445.4 588.1,444.1 588.9,442.7 589.7,441.3 590.5,443.2 591.4,444.0 592.2,444.2 593.0,445.8 593.8,443.7 594.6,442.7 595.5,442.7 596.3,443.0 597.1,442.9 597.9,442.2 598.7,441.3 599.6,443.3 600.4,442.5 601.2,442.9 602.0,444.7 602.8,442.7 603.7,441.9 604.5,442.2 605.3,442.7 606.1,444.3 606.9,446.0 607.8,446.5 608.6,444.4 609.4,443.3 610.2,443.2 611.0,443.3 611.9,443.1 612.7,442.0 613.5,444.5 614.3,445.6 615.1,444.1 616.0,443.0 616.8,444.6 617.6,443.7 618.4,447.1 619.2,449.6 620.1,445.5 620.9,442.8 621.7,441.8 622.5,441.7 623.4,441.8 624.2,441.6 625.0,442.2 625.8,443.2 626.6,441.9 627.5,440.7 628.3,438.7 629.1,435.8 629.9,432.4 630.2,430.7 630.6,430.8 630.9,427.8 631.2,424.1 631.6,419.8 631.9,411.6 632.0,406.9 632.2,400.8 632.3,392.7 632.4,381.9 632.5,368.0 691.1,368.0 764.9,330.7" stroke="#8FB032"/>
<polyline points="491.4,442.4 491.5,465.8 492.2,465.0 546.0,438.1 546.2,437.9 547.0,437.5 547.9,444.0 548.7,444.1 549.5,445.0 550.3,446.4 551.1,446.2 552.0,445.4 552.8,445.1 553.6,444.1 554.4,445.8 555.3,443.4 556.1,441.7 556.9,439.4 557.7,439.2 558.5,440.5 559.4,441.6 560.2,441.7 561.0,441.3 561.8,441.7 562.6,443.0 563.5,443.6 564.3,442.5 565.1,440.4 565.9,438.9 566.7,442.9 567.6,442.2 568.4,441.7 569.2,444.6 570.0,442.6 570.8,444.0 571.7,446.0 572.5,445.7 573.3,444.1 574.1,441.8 574.9,442.9 575.8,441.8 576.6,441.4 577.4,442.5 578.2,440.3 579.0,441.4 579.9,441.7 580.7,443.2 581.5,445.2 582.3,443.9 583.1,442.4 584.0,443.0 584.8,445.6 585.6,445.6 586.4,442.6 587.3,441.4 588.1,439.7 588.9,440.4 589.7,441.9 590.5,443.5 591.4,443.7 592.2,443.3 593.0,445.1 593.8,444.8 594.6,443.8 595.5,441.7 596.3,439.4 597.1,438.5 597.9,439.4 598.7,440.5 599.6,443.6 600.4,442.1 601.2,442.9 602.0,445.2 602.8,445.4 603.7,444.6 604.5,442.5 605.3,440.4 606.1,440.4 606.9,441.8 607.8,442.7 608.6,441.0 609.4,439.8 610.2,441.1 611.0,443.6 611.9,446.9 612.7,445.6 613.5,445.4 614.3,444.6 615.1,443.0 616.0,442.4 616.8,442.3 617.6,440.1 618.4,440.6 619.2,444.2 620.1,443.9 620.9,444.3 621.7,443.8 622.5,442.6 623.4,442.1 624.2,442.5 625.0,443.7 625.8,444.7 626.6,441.3 627.5,439.2 628.3,439.1 629.1,440.4 629.9,441.4 630.7,442.9 631.6,443.5 632.4,443.1 633.2,444.8 634.0,447.2 634.8,444.7 635.7,442.5 636.5,439.7 637.3,438.7 638.1,438.4 638.9,438.2 639.8,437.4 640.6,434.4 641.4,432.8 641.7,431.2 642.1,429.0 642.4,427.1 642.7,422.0 643.0,414.3 643.2,409.7 643.3,404.0 643.5,396.5 643.6,386.6 643.7,368.0 691.1,368.0 764.9,330.7" stroke="#EB6235"/>
<polyline points="491.4,453.2 491.5,465.8 492.2,465.0 546.0,438.1 546.2,437.9 547.0,437.5 547.9,449.6 548.7,449.7 549.5,449.8 550.3,447.4 551.1,446.9 552.0,448.2 552.8,448.1 553.6,445.5 554.4,446.7 555.3,445.0 556.1,446.7 556.9,444.4 557.7,442.3 558.5,440.8 559.4,440.6 560.2,441.4 561.0,442.1 561.8,442.1 562.6,441.8 563.5,442.1 564.3,442.8 565.1,443.2 565.9,442.7 566.7,447.2 567.6,443.8 568.4,442.4 569.2,447.2 570.0,444.9 570.8,445.8 571.7,446.0 572.5,444.6 573.3,444.5 574.1,444.4 574.9,445.3 575.8,443.3 576.6,441.9 577.4,444.6 578.2,443.3 579.0,443.7 579.9,442.0 580.7,441.2 581.5,445.4 582.3,444.9 583.1,444.6 584.0,444.6 584.8,448.4 585.6,448.3 586.4,445.8 587.3,447.7 588.1,444.6 588.9,442.1 589.7,441.0 590.5,443.1 591.4,444.8 592.2,445.0 593.0,447.1 593.8,444.8 594.6,444.0 595.5,443.8 596.3,443.4 597.1,442.1 597.9,440.8 598.7,440.2 599.6,446.8 600.4,444.9 601.2,445.5 602.0,447.6 602.8,445.1 603.7,444.5 604.5,444.5 605.3,444.0 606.1,444.7 606.9,444.6 607.8,444.4 608.6,443.1 609.4,442.4 610.2,443.0 611.0,444.1 611.9,444.5 612.7,444.1 613.5,447.8 614.3,447.8 615.1,445.2 616.0,443.3 616.8,444.4 617.6,443.4 618.4,446.3 619.2,453.9 620.1,447.7 620.9,444.7 621.7,444.0 622.5,444.0 623.4,443.5 624.2,442.8 625.0,443.9 625.8,446.2 626.6,444.8 627.5,443.4 628.3,441.7 629.1,440.5 629.9,440.4 630.7,444.1 631.6,445.1 632.4,443.7 633.2,444.1 634.0,446.8 634.8,445.6 635.7,446.4 636.5,444.5 637.3,442.5 638.1,441.2 638.9,442.3 639.8,443.6 640.6,442.6 641.4,444.5 642.2,446.0 643.0,444.6 643.9,451.7 644.7,448.6 645.5,447.4 646.3,444.5 647.1,442.8 648.0,445.2 648.8,443.7 649.6,447.2 650.4,443.9 651.2,442.2 652.1,442.2 652.9,443.0 653.7,443.4 654.5,442.6 655.4,441.3 656.2,440.3 657.0,439.6 657.8,438.2 658.6,435.5 659.5,435.0 659.8,432.5 660.1,430.0 660.4,427.1 660.8,423.5 661.1,418.6 661.4,411.1 661.6,406.5 661.7,400.6 661.8,392.7 662.0,381.9 662.1,368.0 691.1,368.0 764.9,330.7" stroke="#8778B3"/>
<polyline points="491.4,469.1 491.5,465.8 492.2,465.0 546.0,438.1 546.2,437.9 547.0,437.5 547.9,445.7 548.7,446.0 549.5,446.5 550.3,446.7 551.1,445.7 552.0,445.8 552.8,446.7 553.6,445.6 554.4,444.2 555.3,441.4 556.1,441.1 556.9,441.1 557.7,441.7 558.5,441.6 559.4,441.0 560.2,441.4 561.0,443.0 561.8,444.6 562.6,444.7 563.5,443.2 564.3,441.5 565.1,440.9 565.9,441.2 566.7,444.8 567.6,442.5 568.4,440.8 569.2,443.9 570.0,443.6 570.8,445.0 571.7,444.3 572.5,441.0 573.3,437.9 574.1,435.1 574.5,433.8 574.8,432.1 575.1,431.3 575.4,428.1 575.8,423.8 576.1,417.9 576.4,409.1 576.6,404.0 576.7,397.5 576.8,388.7 577.0,368.0 691.1,368.0 764.9,330.7" stroke="#C56E1A"/>
<polyline points="491.4,473.7 491.5,465.8 492.2,465.0 546.0,438.1 546.2,437.9 547.0,437.5 547.9,444.3 548.7,443.9 549.5,444.6 550.3,444.4 551.1,444.1 552.0,444.5 552.8,445.4 553.6,445.0 554.4,444.6 555.3,442.3 556.1,442.2 556.9,441.4 557.7,441.4 558.5,441.3 559.4,440.6 560.2,440.4 561.0,441.3 561.8,442.9 562.6,443.3 563.5,442.2 564.3,440.2 565.1,438.6 565.9,437.3 566.7,438.7 567.6,434.0 567.9,431.7 568.2,429.1 568.5,426.2 568.9,422.5 569.2,419.1 569.5,411.2 569.7,406.6 569.8,400.6 569.9,392.7 570.1,381.9 570.2,368.0 691.1,368.0 764.9,330.7" stroke="#5D9EC7"/>
<polyline points="491.4,484.1 491.5,465.8 492.2,465.0 546.0,438.1 546.2,437.9 547.0,437.5 547.9,444.5 548.7,445.5 549.5,448.5 550.3,447.4 551.1,444.9 552.0,443.2 552.8,443.1 553.6,442.3 554.4,441.9 555.3,439.9 556.1,440.0 556.9,441.1 557.7,443.1 558.5,444.0 559.4,443.2 560.2,442.0 561.0,441.7 561.8,442.1 562.6,441.8 563.5,440.2 564.3,438.4 565.1,438.1 565.9,439.6 566.7,443.7 567.6,443.7 568.4,442.8 569.2,445.8 570.0,444.9 570.8,445.4 571.7,445.5 572.5,442.5 573.3,439.8 574.1,438.8 574.9,441.1 575.8,441.6 576.6,441.4 577.4,441.7 578.2,441.7 579.0,444.9 579.9,445.4 580.7,444.7 581.5,443.4 582.3,440.9 583.1,440.0 584.0,440.9 584.8,443.5 585.6,442.5 586.4,440.7 587.3,442.0 588.1,443.2 588.9,444.6 589.7,444.3 590.5,444.5 591.4,444.6 592.2,443.7 593.0,444.7 593.8,442.6 594.6,439.7 595.5,437.5 596.3,437.3 597.1,438.1 597.9,438.2 598.7,436.1 599.6,435.0 599.9,432.2 600.2,429.2 600.5,425.6 600.9,421.2 601.2,413.7 601.3,409.3 601.5,403.8 601.6,396.4 601.7,386.6 601.9,368.0 691.1,368.0 764.9,330.7" stroke="#FFBF00"/>
<polyline points="491.4,462.5 491.5,465.8 492.2,465.0 546.0,438.1 546.2,437.9 547.0,437.5 547.9,443.6 548.7,444.0 549.5,445.0 550.3,442.8 551.1,441.2 552.0,441.8 552.8,443.5 553.6,442.9 554.4,443.9 555.3,442.5 556.1,442.9 556.9,443.1 557.7,443.1 558.5,441.8 559.4,440.0 560.2,439.0 561.0,439.2 561.8,439.9 562.6,440.0 563.5,439.7 564.3,439.7 565.1,440.8 565.9,442.3 566.7,446.0 567.6,443.8 568.4,441.7 569.2,442.7 570.0,441.7 570.8,441.8 571.7,441.2 572.5,439.7 573.3,439.4 574.1,440.4 574.9,442.9 575.8,443.1 576.6,442.2 577.4,442.7 578.2,441.9 579.0,443.3 579.9,442.2 580.7,440.5 581.5,440.1 582.3,439.3 583.1,440.1 584.0,442.0 584.8,445.5 585.6,444.2 586.4,442.8 587.3,444.8 588.1,444.1 588.9,442.9 589.7,441.0 590.5,441.2 591.4,440.9 592.2,441.4 593.0,443.3 593.8,442.1 594.6,441.1 595.5,441.1 596.3,442.1 597.1,442.9 597.9,442.5 598.7,441.1 599.6,442.3 600.4,441.0 601.2,441.6 602.0,443.0 602.8,441.1 603.7,440.0 604.5,440.3 605.3,441.6 606.1,443.3 606.9,444.0 607.8,444.0 608.6,442.1 609.4,441.5 610.2,442.3 611.0,442.1 611.9,442.3 612.7,440.2 613.5,441.4 614.3,442.7 615.1,442.9 616.0,442.4 616.8,442.4 617.6,441.9 618.4,444.3 619.2,447.8 620.1,444.3 620.9,441.3 621.7,439.5 622.5,439.5 623.4,440.4 624.2,440.9 625.0,441.9 625.8,442.8 626.6,442.5 627.5,443.0 628.3,443.1 629.1,441.9 629.9,440.1 630.7,441.0 631.6,442.5 632.4,441.8 633.2,442.2 634.0,443.1 634.8,441.7 635.7,443.1 636.5,443.6 637.3,443.5 638.1,442.4 638.9,442.2 639.8,442.5 640.6,441.7 641.4,442.7 642.2,442.5 643.0,440.4 643.9,442.9 644.7,442.4 645.5,443.9 646.3,443.5 647.1,442.5 648.0,442.8 648.8,442.1 649.6,444.0 650.4,442.6 651.2,440.7 652.1,439.0 652.9,438.7 653.7,439.7 654.5,440.9 655.4,441.2 656.2,440.9 657.0,441.0 657.8,441.7 658.6,442.4 659.5,443.4 660.3,441.3 661.1,439.5 661.9,439.1 662.7,442.2 663.6,441.7 664.4,441.0 665.2,441.7 666.0,442.5 666.8,448.8 667.7,446.8 668.5,448.5 669.3,443.7 670.1,440.1 670.9,438.7 671.8,437.6 672.6,436.3 673.4,431.2 673.7,428.8 674.1,426.1 674.4,424.4 674.7,419.5 675.0,412.4 675.2,408.3 675.3,403.0 675.5,396.1 675.6,386.6 675.7,368.0 691.1,368.0 764.9,330.7" stroke="#A5609D"/>
<polyline points="491.4,440.2 491.5,465.8 492.2,465.0 546.0,438.1 546.2,435.4 547.0,433.8 547.9,440.4 548.7,437.5 549.0,435.0 549.3,432.3 549.7,431.7 550.0,427.1 550.3,421.2 550.7,413.3 550.8,408.1 550.9,401.6 551.1,393.0 551.2,381.9 551.3,368.0 691.1,368.0 764.9,330.7" stroke="#929600"/>
<polyline points="491.4,489.3 491.5,465.8 492.2,465.0 546.0,438.1 546.2,437.9 547.0,437.5 547.9,450.4 548.7,449.6 549.5,451.8 550.3,448.9 551.1,447.6 552.0,447.0 552.8,447.5 553.6,444.8 554.4,446.3 555.3,443.6 556.1,445.3 556.9,444.4 557.7,443.9 558.5,443.3 559.4,442.7 560.2,442.5 561.0,442.8 561.8,442.8 562.6,442.1 563.5,441.1 564.3,440.5 565.1,440.8 565.9,441.5 566.7,447.2 567.6,444.9 568.4,443.6 569.2,447.3 570.0,445.9 570.8,447.6 571.7,448.1 572.5,444.7 573.3,442.9 574.1,442.2 574.9,444.0 575.8,442.9 576.6,441.9 577.4,445.2 578.2,444.2 579.0,446.1 579.9,445.1 580.7,443.8 581.5,446.9 582.3,444.5 583.1,443.4 584.0,445.2 584.8,450.4 585.6,447.6 586.4,444.7 587.3,445.4 588.1,444.7 588.9,444.1 589.7,443.3 590.5,444.5 591.4,446.1 592.2,446.1 593.0,448.2 593.8,444.9 594.6,442.6 595.5,441.7 596.3,441.9 597.1,442.3 597.9,442.4 598.7,442.1 599.6,446.6 600.4,445.2 601.2,448.0 602.0,449.2 602.8,445.6 603.7,443.1 604.5,442.0 605.3,441.9 606.1,443.5 606.9,445.5 607.8,447.7 608.6,445.4 609.4,444.7 610.2,446.5 611.0,446.2 611.9,445.7 612.7,443.5 613.5,444.7 614.3,446.1 615.1,444.1 616.0,442.5 616.8,442.9 617.6,442.4 618.4,446.8 619.2,454.5 620.1,450.6 620.9,446.8 621.7,444.6 622.5,443.6 623.4,443.0 624.2,442.2 625.0,443.1 625.8,443.7 626.6,442.7 627.5,442.8 628.3,443.0 629.1,442.7 629.9,442.4 630.7,445.6 631.6,446.1 632.4,444.8 633.2,445.3 634.0,447.5 634.8,444.3 635.7,446.6 636.5,444.8 637.3,443.7 638.1,442.7 638.9,444.9 639.8,447.3 640.6,445.9 641.4,446.5 642.2,445.9 643.0,443.6 643.9,450.4 644.7,446.6 645.5,447.1 646.3,444.6 647.1,442.9 648.0,443.9 648.8,443.5 649.6,449.6 650.4,447.0 651.2,444.9 652.1,443.3 652.9,442.5 653.7,442.3 654.5,442.1 655.4,441.4 656.2,440.6 657.0,440.7 657.8,441.5 658.6,442.4 659.5,448.4 660.3,445.7 661.1,444.1 661.9,443.5 662.7,446.8 663.6,444.8 664.4,442.9 665.2,444.0 666.0,443.8 666.8,449.2 667.7,446.5 668.5,450.5 669.3,446.7 670.1,444.8 670.9,445.5 671.8,446.1 672.6,446.5 673.4,444.0 674.2,442.3 675.0,444.3 675.9,446.8 676.7,449.3 677.5,447.6 678.3,444.2 679.1,442.4 680.0,442.7 680.8,448.0 681.6,442.8 682.4,438.0 683.2,437.7 683.6,434.3 683.9,433.0 684.2,428.3 684.6,422.4 684.9,414.3 685.0,409.7 685.2,403.9 685.3,396.5 685.4,386.6 685.6,368.0 691.1,368.0 764.9,330.7" stroke="#E95536"/>
<polyline points="491.4,479.0 491.5,465.8 492.2,465.0 546.0,438.1 546.2,437.9 547.0,437.5 547.9,442.6 548.7,443.3 549.5,444.6 550.3,445.1 551.1,444.3 552.0,443.3 552.8,442.6 553.6,441.9 554.4,442.2 555.3,440.3 556.1,439.5 556.9,438.9 557.7,439.9 558.5,441.2 559.4,441.7 560.2,441.2 561.0,440.9 561.8,441.3 562.6,441.8 563.5,441.3 564.3,439.8 565.1,438.4 565.9,438.2 566.7,441.2 567.6,441.3 568.4,441.0 569.2,442.9 570.0,442.1 570.8,443.3 571.7,444.4 572.5,443.2 573.3,441.2 574.1,439.5 574.9,440.6 575.8,440.4 576.6,440.3 577.4,441.1 578.2,440.0 579.0,441.8 579.9,442.5 580.7,443.2 581.5,444.1 582.3,442.1 583.1,440.7 584.0,440.7 584.8,442.9 585.6,441.9 586.4,439.9 587.3,440.2 588.1,440.1 588.9,441.3 589.7,442.2 590.5,442.9 591.4,442.8 592.2,442.7 593.0,443.7 593.8,442.7 594.6,441.1 595.5,439.2 596.3,438.2 597.1,438.7 597.9,440.0 598.7,440.8 599.6,442.0 600.4,441.3 601.2,442.7 602.0,444.2 602.8,443.5 603.7,441.8 604.5,439.8 605.3,438.7 606.1,439.8 606.9,440.9 607.8,442.1 608.6,440.8 609.4,440.4 610.2,442.4 611.0,444.3 611.9,445.0 612.7,443.0 613.5,441.6 614.3,440.9 615.1,440.5 616.0,440.3 616.8,440.5 617.6,439.2 618.4,440.3 619.2,444.3 620.1,444.1 620.9,443.6 621.7,442.4 622.5,441.2 623.4,440.8 624.2,441.0 625.0,441.8 625.8,441.9 626.6,439.6 627.5,439.0 628.3,439.9 629.1,441.1 629.9,441.5 630.7,442.0 631.6,442.7 632.4,442.5 633.2,443.3 634.0,444.3 634.8,441.5 635.7,440.8 636.5,439.6 637.3,439.9 638.1,440.5 638.9,441.1 639.8,441.4 640.6,441.2 641.4,443.0 642.2,445.2 643.0,443.7 643.9,445.3 644.7,442.0 645.5,441.5 646.3,441.0 647.1,440.5 648.0,440.8 648.8,439.8 649.6,442.4 650.4,442.8 651.2,443.3 652.1,442.7 652.9,441.4 653.7,440.4 654.5,440.3 655.4,440.5 656.2,439.8 657.0,438.6 657.8,438.0 658.6,438.9 659.5,442.1 660.3,442.6 661.1,442.1 661.9,441.3 662.7,442.5 663.6,442.3 664.4,442.0 665.2,442.0 666.0,440.5 666.8,441.1 667.7,440.4 668.5,444.3 669.3,443.2 670.1,442.0 670.9,442.5 671.8,443.6 672.6,444.6 673.4,443.7 674.2,442.0 675.0,440.8 675.9,442.4 676.7,441.7 677.5,441.2 678.3,439.1 679.1,436.8 680.0,435.5 680.8,436.3 681.1,434.8 681.4,433.1 681.8,431.0 682.1,428.1 682.4,424.1 682.8,418.7 683.1,409.8 683.2,405.0 683.4,398.0 683.5,388.7 683.7,368.0 691.1,368.0 764.9,330.7" stroke="#6685D9"/>
<polyline points="491.4,461.9 491.5,465.8 492.2,465.0 546.0,438.1 546.2,437.9 547.0,437.5 547.9,442.3 548.7,442.3 549.5,443.7 550.3,444.7 551.1,445.4 552.0,445.3 552.8,444.5 553.6,443.1 554.4,445.0 555.3,444.0 556.1,443.2 556.9,441.0 557.7,439.5 558.5,439.4 559.4,440.5 560.2,441.4 561.0,441.5 561.8,441.2 562.6,441.6 563.5,442.5 564.3,443.1 565.1,442.4 565.9,440.8 566.7,442.5 567.6,441.3 568.4,441.3 569.2,444.2 570.0,442.4 570.8,442.9 571.7,443.2 572.5,443.7 573.3,444.0 574.1,443.2 574.9,443.7 575.8,441.8 576.6,441.3 577.4,442.5 578.2,441.4 579.0,441.9 579.9,440.7 580.7,441.1 581.5,443.7 582.3,443.9 583.1,443.1 584.0,443.1 584.8,445.8 585.6,445.3 586.4,443.7 587.3,443.7 588.1,441.1 588.9,439.9 589.7,440.4 590.5,442.3 591.4,443.6 592.2,443.4 593.0,444.3 593.8,443.6 594.6,443.6 595.5,443.1 596.3,441.6 597.1,439.9 597.9,439.3 598.7,439.8 599.6,443.7 600.4,442.6 601.2,443.3 602.0,443.8 602.8,443.6 603.7,444.1 604.5,443.7 605.3,442.3 606.1,441.8 606.9,442.6 607.8,443.9 608.6,442.6 609.4,441.3 610.2,441.2 611.0,441.5 611.9,444.0 612.7,444.3 613.5,444.6 614.3,443.6 615.1,442.1 616.0,441.6 616.8,443.0 617.6,441.9 618.4,442.5 619.2,445.2 620.1,442.9 620.9,442.8 621.7,443.3 622.5,443.0 623.4,442.2 624.2,441.9 625.0,442.9 625.8,444.4 626.6,442.9 627.5,440.9 628.3,439.4 629.1,439.4 629.9,440.4 630.7,442.2 631.6,442.6 632.4,441.8 633.2,443.3 634.0,446.1 634.8,445.2 635.7,445.0 636.5,442.4 637.3,440.6 638.1,440.3 638.9,441.3 639.8,443.2 640.6,441.6 641.4,441.4 642.2,442.5 643.0,442.1 643.9,444.6 644.7,440.9 645.5,437.6 646.3,433.2 646.7,431.3 647.0,429.2 647.3,426.5 647.6,422.9 648.0,418.3 648.3,410.1 648.4,405.2 648.6,398.9 648.7,390.5 648.8,379.0 648.9,368.0 691.1,368.0 764.9,330.7" stroke="#F89F13"/>
<polyline points="491.4,478.6 491.5,465.8 492.2,465.0 546.0,438.1 546.2,437.9 547.0,437.5 547.9,442.2 548.7,442.4 549.5,442.2 550.3,442.7 551.1,443.5 552.0,444.7 552.8,445.0 553.6,442.6 554.4,442.0 555.3,440.6 556.1,441.2 556.9,440.5 557.7,439.3 558.5,438.4 559.4,438.8 560.2,440.6 561.0,442.2 561.8,442.4 562.6,441.5 563.5,440.6 564.3,440.7 565.1,440.9 565.9,440.3 566.7,440.7 567.6,438.7 568.4,438.7 569.2,442.4 570.0,442.7 570.8,443.2 571.7,442.7 572.5,442.0 573.3,442.3 574.1,442.5 574.9,442.8 575.8,440.2 576.6,438.4 577.4,439.0 578.2,439.8 579.0,441.6 579.9,440.9 580.7,440.3 581.5,442.7 582.3,443.3 583.1,443.6 584.0,443.2 584.8,443.4 585.6,441.9 586.4,440.7 587.3,442.1 588.1,440.9 588.9,439.6 589.7,439.1 590.5,440.8 591.4,444.0 592.2,444.9 593.0,445.6 593.8,442.8 594.6,441.3 595.5,441.0 596.3,440.7 597.1,439.6 597.9,438.2 598.7,437.8 599.6,440.7 600.4,441.9 601.2,443.1 602.0,443.5 602.8,442.1 603.7,441.8 604.5,442.0 605.3,441.7 606.1,440.7 606.9,440.0 607.8,439.5 608.6,439.7 609.4,440.7 610.2,441.8 611.0,442.4 611.9,443.2 612.7,443.0 613.5,444.7 614.3,444.6 615.1,442.0 616.0,439.7 616.8,440.0 617.6,439.9 618.4,441.8 619.2,443.0 620.1,441.1 620.9,440.7 621.7,441.8 622.5,443.1 623.4,442.9 624.2,441.5 625.0,440.9 625.8,440.9 626.6,440.6 627.5,440.1 628.3,439.0 629.1,438.1 629.9,438.6 630.7,441.5 631.6,443.9 632.4,443.3 633.2,442.5 634.0,443.2 634.8,442.4 635.7,442.6 636.5,441.2 637.3,439.2 638.1,437.8 638.9,439.3 639.8,441.3 640.6,441.9 641.4,442.9 642.2,443.4 643.0,442.5 643.9,446.8 644.7,445.2 645.5,443.7 646.3,440.7 647.1,438.8 648.0,439.6 648.8,440.1 649.6,441.5 650.4,440.6 651.2,440.1 652.1,440.9 652.9,442.3 653.7,443.0 654.5,442.1 655.4,440.3 656.2,439.1 657.0,439.2 657.8,439.6 658.6,439.3 659.5,440.6 660.3,439.2 661.1,439.5 661.9,440.3 662.7,441.2 663.6,438.7 664.4,435.4 665.2,432.9 665.5,431.7 665.9,429.5 666.2,426.8 666.5,424.4 666.8,419.6 667.2,411.1 667.3,406.2 667.4,400.1 667.6,392.0 667.7,381.0 667.8,368.0 691.1,368.0 764.9,330.7" stroke="#BC5B80"/>
<polyline points="491.4,470.3 491.5,465.8 492.2,465.0 546.0,438.1 546.2,437.9 547.0,437.5 547.9,447.6 548.7,446.5 549.5,446.6 550.3,445.3 551.1,444.6 552.0,444.3 552.8,443.4 553.6,442.5 554.4,443.7 555.3,443.3 556.1,443.5 556.9,442.4 557.7,441.9 558.5,441.8 559.4,441.7 560.2,441.1 561.0,440.3 561.8,439.9 562.6,440.3 563.5,441.0 564.3,441.4 565.1,441.4 565.9,441.3 566.7,445.8 567.6,444.4 568.4,443.5 569.2,447.1 570.0,443.8 570.8,443.6 571.7,444.6 572.5,443.2 573.3,442.3 574.1,441.6 574.9,443.6 575.8,443.0 576.6,443.0 577.4,445.2 578.2,443.4 579.0,443.0 579.9,441.8 580.7,441.4 581.5,442.9 582.3,441.8 583.1,440.9 584.0,442.6 584.8,446.6 585.6,446.6 586.4,444.8 587.3,444.5 588.1,442.9 588.9,442.1 589.7,441.9 590.5,443.3 591.4,443.5 592.2,442.7 593.0,443.2 593.8,442.6 594.6,442.5 595.5,442.3 596.3,441.8 597.1,441.6 597.9,441.8 598.7,442.0 599.6,445.2 600.4,442.9 601.2,442.2 602.0,444.2 602.8,443.0 603.7,442.4 604.5,441.9 605.3,441.5 606.1,443.3 606.9,445.7 607.8,446.7 608.6,444.6 609.4,442.7 610.2,442.3 611.0,443.2 611.9,443.7 612.7,442.5 613.5,442.5 614.3,442.3 615.1,441.9 616.0,442.3 616.8,444.2 617.6,443.2 618.4,443.9 619.2,447.5 620.1,444.8 620.9,443.3 621.7,442.1 622.5,441.0 623.4,440.4 624.2,440.7 625.0,442.3 625.8,444.8 626.6,443.5 627.5,442.5 628.3,442.0 629.1,442.0 629.9,441.8 630.7,442.7 631.6,442.3 632.4,441.1 633.2,442.0 634.0,445.4 634.8,443.9 635.7,443.9 636.5,442.7 637.3,442.4 638.1,442.6 638.9,444.2 639.8,443.8 640.6,441.9 641.4,442.1 642.2,443.5 643.0,441.4 643.9,443.5 644.7,439.7 645.5,438.4 646.3,434.6 646.7,432.9 647.0,430.8 647.3,428.1 647.6,424.4 648.0,420.8 648.3,412.2 648.4,407.3 648.6,401.0 648.7,392.8 648.8,381.9 648.9,368.0 691.1,368.0 764.9,330.7" stroke="#47B66D"/>
<polyline points="491.4,489.1 491.5,465.8 492.2,465.0 546.0,438.1 546.2,437.9 547.0,437.5 547.9,444.3 548.7,445.3 549.5,446.0 550.3,445.2 551.1,442.7 552.0,441.1 552.8,442.0 553.6,443.0 554.4,445.2 555.3,444.3 556.1,444.5 556.9,444.1 557.7,444.8 558.5,444.8 559.4,443.2 560.2,440.8 561.0,439.3 561.8,439.8 562.6,441.1 563.5,441.7 564.3,441.4 565.1,441.4 565.9,442.8 566.7,447.3 567.6,446.8 568.4,444.8 569.2,444.6 570.0,442.2 570.8,442.4 571.7,442.9 572.5,441.8 573.3,440.5 574.1,440.3 574.9,442.9 575.8,444.7 576.6,445.3 577.4,445.8 578.2,443.6 579.0,443.6 579.9,443.3 580.7,442.7 581.5,441.9 582.3,439.8 583.1,439.5 584.0,442.3 584.8,446.6 585.6,447.1 586.4,445.2 587.3,445.2 588.1,444.7 588.9,444.8 589.7,443.9 590.5,442.9 591.4,441.4 592.2,440.7 593.0,443.4 593.8,443.6 594.6,443.2 595.5,442.5 596.3,442.7 597.1,444.0 597.9,445.1 598.7,444.6 599.6,445.5 600.4,442.2 601.2,441.8 602.0,443.1 602.8,442.6 603.7,441.5 604.5,440.8 605.3,441.5 606.1,444.5 606.9,447.6 607.8,447.3 608.6,444.6 609.4,442.5 610.2,442.9 611.0,443.5 611.9,443.1 612.7,440.9 613.5,441.2 614.3,441.9 615.1,443.5 616.0,444.8 616.8,445.6 617.6,444.0 618.4,445.3 619.2,448.0 620.1,446.2 620.9,443.7 621.7,440.9 622.5,439.3 623.4,439.9 624.2,441.7 625.0,443.4 625.8,445.0 626.6,443.7 627.5,443.8 628.3,444.8 629.1,444.9 629.9,443.3 630.7,441.6 631.6,440.9 632.4,440.2 633.2,440.9 634.0,442.3 634.8,439.6 635.7,438.1 636.5,436.6 637.3,434.5 637.6,432.8 638.0,430.3 638.3,426.6 638.6,421.8 638.9,413.8 639.1,409.3 639.2,403.6 639.4,396.3 639.5,386.6 639.6,368.0 691.1,368.0 764.9,330.7" stroke="#5E81B5"/>
<polyline points="491.4,466.1 491.5,465.8 492.2,465.0 546.0,438.1 546.2,437.9 547.0,437.5 547.9,445.4 548.7,445.4 549.5,445.1 550.3,445.1 551.1,444.5 552.0,443.6 552.8,442.6 553.6,442.1 554.4,444.7 555.3,445.0 556.1,445.7 556.9,443.8 557.7,442.5 558.5,442.3 559.4,442.3 560.2,441.5 561.0,440.0 561.8,439.1 562.6,439.7 563.5,441.3 564.3,442.6 565.1,442.6 565.9,442.2 566.7,445.8 567.6,445.1 568.4,444.4 569.2,447.0 570.0,443.2 570.8,442.1 571.7,442.7 572.5,442.6 573.3,442.5 574.1,441.9 574.9,443.6 575.8,443.5 576.6,444.2 577.4,445.6 578.2,443.9 579.0,443.9 579.9,441.7 580.7,441.2 581.5,442.8 582.3,441.8 583.1,440.8 584.0,441.3 584.8,445.2 585.6,446.7 586.4,446.0 587.3,445.7 588.1,443.4 588.9,442.2 589.7,442.0 590.5,443.0 591.4,443.7 592.2,442.5 593.0,443.8 593.8,443.3 594.6,443.9 595.5,444.1 596.3,443.3 597.1,442.5 597.9,442.5 598.7,442.9 599.6,445.8 600.4,442.9 601.2,441.6 602.0,441.7 602.8,441.7 603.7,442.4 604.5,442.5 605.3,442.0 606.1,443.3 606.9,445.2 607.8,447.0 608.6,445.2 609.4,442.8 610.2,441.8 611.0,441.7 611.9,442.1 612.7,440.9 613.5,440.2 614.3,438.8 615.1,437.0 616.0,435.5 616.3,435.4 616.6,433.8 617.0,431.6 617.3,428.6 617.6,424.5 617.9,420.3 618.3,410.7 618.4,405.2 618.5,398.1 618.7,388.7 618.9,368.0 691.1,368.0 764.9,330.7" stroke="#E19C24"/>
<polyline points="491.4,445.5 491.5,465.8 492.2,465.0 546.0,438.1 546.2,437.9 547.0,437.5 547.9,447.6 548.7,447.7 549.5,447.3 550.3,447.4 551.1,447.9 552.0,446.5 552.8,445.4 553.6,443.3 554.4,445.8 555.3,444.2 556.1,444.3 556.9,442.5 557.7,441.5 558.5,441.8 559.4,442.7 560.2,443.4 561.0,443.1 561.8,442.5 562.6,442.2 563.5,442.3 564.3,442.4 565.1,441.7 565.9,440.7 566.7,444.3 567.6,443.2 568.4,443.3 569.2,447.8 570.0,445.5 570.8,445.1 571.7,446.3 572.5,445.2 573.3,444.3 574.1,442.9 574.9,444.5 575.8,442.5 576.6,442.0 577.4,443.7 578.2,443.0 579.0,445.5 579.9,444.0 580.7,443.8 581.5,445.9 582.3,444.9 583.1,443.5 584.0,443.6 584.8,447.4 585.6,445.9 586.4,444.2 587.3,445.9 588.1,443.6 588.9,442.6 589.7,443.0 590.5,445.8 591.4,447.9 592.2,447.4 593.0,447.0 593.8,444.8 594.6,443.7 595.5,442.8 596.3,441.7 597.1,440.8 597.9,440.8 598.7,441.6 599.6,446.3 600.4,445.0 601.2,445.4 602.0,445.4 602.8,444.4 603.7,443.9 604.5,443.1 605.3,441.7 606.1,442.2 606.9,443.0 607.8,444.0 608.6,443.5 609.4,442.9 610.2,443.2 611.0,445.4 611.9,448.0 612.7,446.3 613.5,445.8 614.3,444.4 615.1,442.5 616.0,441.8 616.8,443.6 617.6,442.8 618.4,445.2 619.2,452.1 620.1,448.1 620.9,446.5 621.7,445.6 622.5,444.4 623.4,443.0 624.2,442.1 625.0,443.9 625.8,445.8 626.6,443.1 627.5,440.7 628.3,439.0 629.1,438.1 629.9,437.4 630.7,436.3 631.1,434.7 631.4,432.8 631.7,431.9 632.0,428.5 632.4,424.3 632.7,419.9 633.0,410.6 633.2,405.2 633.3,398.7 633.4,388.7 633.6,368.0 691.1,368.0 764.9,330.7" stroke="#8FB032"/>
<polyline points="491.4,489.5 491.5,465.8 492.2,465.0 546.0,438.1 546.2,416.4 546.6,409.2 546.7,405.0 546.8,399.6 547.0,392.3 547.1,381.9 547.2,368.0 691.1,368.0 764.9,330.7" stroke="#EB6235"/>
<polyline points="491.4,461.8 491.5,465.8 492.2,465.0 546.0,438.1 546.2,437.9 547.0,437.5 547.9,445.7 548.7,446.5 549.5,446.7 550.3,446.8 551.1,446.3 552.0,445.4 552.8,445.8 553.6,444.5 554.4,446.1 555.3,443.4 556.1,442.4 556.9,441.2 557.7,441.2 558.5,441.6 559.4,441.5 560.2,441.3 561.0,441.4 561.8,442.1 562.6,442.8 563.5,442.5 564.3,441.5 565.1,440.6 565.9,440.3 566.7,444.0 567.6,442.8 568.4,441.8 569.2,443.7 570.0,442.7 570.8,444.9 571.7,447.1 572.5,445.2 573.3,443.3 574.1,442.0 574.9,443.5 575.8,442.6 576.6,441.8 577.4,443.0 578.2,441.4 579.0,443.9 579.9,443.5 580.7,443.5 581.5,445.0 582.3,443.4 583.1,442.6 584.0,443.4 584.8,448.4 585.6,446.0 586.4,443.0 587.3,442.4 588.1,441.6 588.9,441.9 589.7,442.1 590.5,443.0 591.4,445.2 592.2,445.9 593.0,448.0 593.8,445.9 594.6,443.8 595.5,441.8 596.3,440.7 597.1,440.7 597.9,441.0 598.7,441.0 599.6,443.3 600.4,442.2 601.2,443.4 602.0,445.5 602.8,444.6 603.7,443.3 604.5,441.9 605.3,441.1 606.1,441.9 606.9,444.0 607.8,444.4 608.6,442.3 609.4,441.4 610.2,443.0 611.0,445.1 611.9,447.4 612.7,445.0 613.5,446.1 614.3,445.0 615.1,443.7 616.0,442.7 616.8,442.5 617.6,440.9 618.4,443.6 619.2,450.5 620.1,447.3 620.9,445.2 621.7,443.6 622.5,442.7 623.4,442.6 624.2,442.8 625.0,443.7 625.8,444.9 626.6,442.2 627.5,441.2 628.3,441.2 629.1,441.5 629.9,441.4 630.7,442.7 631.6,444.4 632.4,443.9 633.2,445.4 634.0,447.4 634.8,444.4 635.7,445.0 636.5,443.0 637.3,442.2 638.1,441.7 638.9,442.8 639.8,443.4 640.6,442.5 641.4,444.7 642.2,447.2 643.0,445.2 643.9,450.4 644.7,446.2 645.5,445.0 646.3,443.6 647.1,442.3 648.0,443.2 648.8,441.5 649.6,444.1 650.4,443.5 651.2,443.4 652.1,442.9 652.9,442.2 653.7,442.0 654.5,441.8 655.4,441.2 656.2,439.7 657.0,437.7 657.8,435.9 658.6,434.4 659.5,435.2 659.8,433.2 660.1,430.9 660.4,428.0 660.8,424.2 661.1,418.9 661.4,411.1 661.6,406.5 661.7,400.6 661.8,392.6 662.0,381.9 662.1,368.0 691.1,368.0 764.9,330.7" stroke="#8778B3"/>
<polyline points="491.4,454.2 491.5,465.8 492.2,465.0 546.0,438.1 546.2,437.9 547.0,437.5 547.9,445.6 548.7,445.6 549.5,444.2 550.3,442.6 551.1,441.9 552.0,443.6 552.8,445.9 553.6,445.6 554.4,445.8 555.3,443.5 556.1,443.5 556.9,443.2 557.7,442.3 558.5,440.3 559.4,438.4 560.2,438.3 561.0,440.1 561.8,442.0 562.6,442.7 563.5,442.2 564.3,442.0 565.1,442.9 565.9,443.7 566.7,445.3 567.6,442.1 568.4,439.5 569.2,444.3 570.0,443.1 570.8,443.7 571.7,444.9 572.5,442.9 573.3,442.7 574.1,443.9 574.9,446.7 575.8,445.2 576.6,442.5 577.4,442.6 578.2,441.1 579.0,443.9 579.9,442.5 580.7,440.8 581.5,441.1 582.3,441.4 583.1,443.2 584.0,446.1 584.8,449.2 585.6,447.3 586.4,444.1 587.3,444.9 588.1,443.6 588.9,441.9 589.7,439.6 590.5,440.8 591.4,442.2 592.2,444.1 593.0,446.6 593.8,445.1 594.6,443.4 595.5,442.9 596.3,443.3 597.1,443.3 597.9,441.6 598.7,439.3 599.6,442.5 600.4,441.4 601.2,443.6 602.0,444.7 602.8,443.2 603.7,442.4 604.5,443.0 605.3,444.2 606.1,446.2 606.9,445.2 607.8,444.0 608.6,441.2 609.4,440.7 610.2,443.0 611.0,442.8 611.9,442.8 612.7,441.8 613.5,444.1 614.3,447.0 615.1,446.3 616.0,444.2 616.8,443.3 617.6,441.6 618.4,444.1 619.2,448.0 620.1,443.9 620.9,440.9 621.7,440.1 622.5,441.6 623.4,443.5 624.2,444.1 625.0,444.2 625.8,445.6 626.6,444.1 627.5,443.7 628.3,442.7 629.1,440.4 629.9,438.5 630.7,440.1 631.6,442.7 632.4,443.4 633.2,444.2 634.0,444.9 634.8,443.7 635.7,445.7 636.5,445.5 637.3,444.0 638.1,441.4 638.9,441.1 639.8,442.6 640.6,442.1 641.4,443.3 642.2,444.4 643.0,442.5 643.9,446.6 644.7,446.3 645.5,447.5 646.3,445.6 647.1,442.8 648.0,442.1 648.8,441.0 649.6,443.6 650.4,442.1 651.2,440.4 652.1,439.4 652.9,440.4 653.7,442.6 654.5,444.2 655.4,443.9 656.2,442.4 657.0,441.5 657.8,441.7 658.6,441.8 659.5,444.9 660.3,441.1 661.1,438.6 661.9,438.5 662.7,442.7 663.6,441.3 664.4,438.6 665.2,436.7 665.5,435.7 665.9,433.5 666.2,431.2 666.5,429.8 666.8,427.3 667.2,420.8 667.5,411.3 667.6,405.6 667.8,398.4 667.9,388.7 668.1,368.0 691.1,368.0 764.9,330.7" stroke="#C56E1A"/>
<polyline points="491.4,469.3 491.5,465.8 492.2,465.0 546.0,438.1 546.2,437.9 547.0,437.5 547.9,447.7 548.7,446.7 549.5,446.2 550.3,446.3 551.1,446.1 552.0,444.7 552.8,444.2 553.6,441.8 554.4,443.6 555.3,442.2 556.1,443.3 556.9,441.9 557.7,441.0 558.5,440.9 559.4,441.3 560.2,441.7 561.0,441.4 561.8,440.1 562.6,438.8 563.5,438.0 564.3,437.1 565.1,435.6 565.9,433.2 566.7,432.6 567.1,430.2 567.4,427.5 567.7,424.1 568.1,419.5 568.4,412.5 568.5,408.3 568.7,403.1 568.8,396.1 568.9,386.6 569.1,368.0 691.1,368.0 764.9,330.7" stroke="#5D9EC7"/>
<polyline points="491.4,487.0 491.5,465.8 492.2,465.0 546.0,438.1 546.2,437.9 547.0,437.5 547.9,443.4 548.7,444.5 549.5,445.7 550.3,445.8 551.1,446.1 552.0,446.3 552.8,446.3 553.6,444.8 554.4,445.1 555.3,443.3 556.1,444.0 556.9,443.4 557.7,442.7 558.5,441.9 559.4,441.7 560.2,442.5 561.0,443.7 561.8,444.2 562.6,443.7 563.5,442.9 564.3,442.6 565.1,442.7 565.9,442.7 566.7,444.8 567.6,442.8 568.4,442.0 569.2,445.9 570.0,445.4 570.8,445.8 571.7,446.2 572.5,444.7 573.3,444.2 574.1,444.1 574.9,445.9 575.8,443.8 576.6,442.0 577.4,442.6 578.2,442.6 579.0,444.0 579.9,443.6 580.7,443.0 581.5,445.1 582.3,444.8 583.1,444.9 584.0,445.3 584.8,446.3 585.6,445.0 586.4,443.3 587.3,444.2 588.1,443.5 588.9,442.7 589.7,442.1 590.5,443.4 591.4,445.7 592.2,446.3 593.0,446.5 593.8,443.2 594.6,440.4 595.5,438.3 596.3,436.1 597.1,432.4 597.4,430.2 597.8,427.5 598.1,423.9 598.4,419.2 598.7,412.1 598.9,408.1 599.0,402.9 599.1,396.0 599.3,386.6 599.4,368.0 691.1,368.0 764.9,330.7" stroke="#FFBF00"/>
<polyline points="491.4,440.6 491.5,465.8 492.2,465.0 546.0,438.1 546.2,437.9 547.0,437.5 547.9,446.7 548.7,446.4 549.5,448.6 550.3,450.0 551.1,449.6 552.0,447.6 552.8,445.6 553.6,443.0 554.4,443.6 555.3,442.6 556.1,443.2 556.9,441.0 557.7,440.6 558.5,442.0 559.4,443.8 560.2,444.3 561.0,443.3 561.8,442.1 562.6,441.9 563.5,442.3 564.3,441.8 565.1,440.2 565.9,438.7 566.7,442.1 567.6,442.5 568.4,443.5 569.2,447.8 570.0,445.3 570.8,445.3 571.7,445.8 572.5,445.3 573.3,443.9 574.1,441.4 574.9,440.8 575.8,440.0 576.6,440.8 577.4,443.5 578.2,442.6 579.0,445.3 579.9,444.2 580.7,444.8 581.5,448.7 582.3,446.2 583.1,443.2 584.0,442.1 584.8,445.5 585.6,444.7 586.4,443.1 587.3,442.7 588.1,441.2 588.9,441.7 589.7,443.5 590.5,446.7 591.4,448.5 592.2,447.2 593.0,446.4 593.8,444.4 594.6,443.3 595.5,441.8 596.3,439.9 597.1,439.1 597.9,440.1 598.7,442.1 599.6,447.0 600.4,445.3 601.2,445.4 602.0,446.6 602.8,445.4 603.7,444.4 604.5,442.4 605.3,440.0 606.1,440.4 606.9,443.7 607.8,446.0 608.6,444.8 609.4,443.5 610.2,444.4 611.0,446.9 611.9,449.1 612.7,447.1 613.5,445.4 614.3,444.0 615.1,441.4 616.0,441.1 616.8,442.6 617.6,441.8 618.4,443.5 619.2,450.1 620.1,447.7 620.9,447.2 621.7,446.3 622.5,444.2 623.4,442.0 624.2,441.1 625.0,442.5 625.8,445.1 626.6,442.4 627.5,440.4 628.3,440.2 629.1,441.8 629.9,443.6 630.7,445.8 631.6,447.3 632.4,444.6 633.2,445.4 634.0,448.4 634.8,445.4 635.7,443.3 636.5,440.5 637.3,439.8 638.1,441.1 638.9,444.5 639.8,447.4 640.6,444.9 641.4,445.2 642.2,448.4 643.0,446.9 643.9,452.1 644.7,446.2 645.5,444.4 646.3,442.1 647.1,442.0 648.0,444.0 648.8,442.7 649.6,445.9 650.4,444.6 651.2,445.0 652.1,445.5 652.9,444.4 653.7,442.2 654.5,440.6 655.4,440.3 656.2,440.8 657.0,440.7 657.8,439.8 658.6,439.5 659.5,445.4 660.3,445.6 661.1,445.8 661.9,444.8 662.7,446.9 663.6,444.2 664.4,443.3 665.2,444.5 666.0,445.0 666.8,449.0 667.7,444.2 668.5,448.5 669.3,445.9 670.1,444.1 670.9,444.0 671.8,441.3 672.6,440.1 673.4,435.3 673.7,432.9 674.1,429.9 674.4,427.2 674.7,421.5 675.0,413.4 675.2,408.9 675.3,403.3 675.5,396.1 675.6,386.6 675.7,368.0 691.1,368.0 764.9,330.7" stroke="#A5609D"/>
<polyline points="491.4,472.4 491.5,465.8 492.2,465.0 546.0,438.1 546.2,437.9 547.0,437.5 547.9,444.2 548.7,444.9 549.5,447.8 550.3,446.9 551.1,445.7 552.0,445.1 552.8,446.2 553.6,444.7 554.4,443.1 555.3,440.2 556.1,440.6 556.9,440.7 557.7,441.7 558.5,442.1 559.4,441.6 560.2,441.6 561.0,442.7 561.8,444.0 562.6,443.9 563.5,442.2 564.3,440.0 565.1,439.2 565.9,439.8 566.7,442.9 567.6,441.7 568.4,440.6 569.2,443.1 570.0,443.8 570.8,446.3 571.7,447.4 572.5,444.6 573.3,442.2 574.1,441.3 574.9,442.7 575.8,441.8 576.6,440.2 577.4,439.8 578.2,439.8 579.0,442.5 579.9,443.9 580.7,444.0 581.5,444.0 582.3,442.7 583.1,442.6 584.0,443.4 584.8,445.2 585.6,442.8 586.4,440.1 587.3,440.7 588.1,441.6 588.9,442.6 589.7,442.6 590.5,443.8 591.4,445.2 592.2,446.2 593.0,447.9 593.8,445.2 594.6,441.9 595.5,439.7 596.3,439.5 597.1,440.4 597.9,441.0 598.7,440.6 599.6,443.8 600.4,443.5 601.2,446.4 602.0,447.5 602.8,445.3 603.7,442.6 604.5,440.8 605.3,440.6 606.1,441.7 606.9,441.9 607.8,441.8 608.6,440.5 609.4,441.4 610.2,444.3 611.0,445.2 611.9,443.9 612.7,440.6 613.5,439.8 614.3,438.4 615.1,434.4 615.5,432.3 615.8,429.6 616.1,428.0 616.5,423.6 616.8,418.0 617.1,410.1 617.3,405.7 617.4,400.0 617.5,392.5 617.7,381.9 617.8,368.0 691.1,368.0 764.9,330.7" stroke="#929600"/>
<polyline points="491.4,438.1 491.4,441.6" stroke="#929600"/>
</g>
<g font-family="'Liberation Sans', Arial, sans-serif" font-size="14.3" fill="#222">
<path d="M491.4 498.4v-4.6M491.4 322.6v4.6M505.1 498.4v-2.8M505.1 322.6v2.8M518.8 498.4v-2.8M518.8 322.6v2.8M532.4 498.4v-2.8M532.4 322.6v2.8M546.1 498.4v-4.6M546.1 322.6v4.6M559.8 498.4v-2.8M559.8 322.6v2.8M573.4 498.4v-2.8M573.4 322.6v2.8M587.1 498.4v-2.8M587.1 322.6v2.8M600.8 498.4v-4.6M600.8 322.6v4.6M614.5 498.4v-2.8M614.5 322.6v2.8M628.1 498.4v-2.8M628.1 322.6v2.8M641.8 498.4v-2.8M641.8 322.6v2.8M655.5 498.4v-4.6M655.5 322.6v4.6M669.2 498.4v-2.8M669.2 322.6v2.8M682.8 498.4v-2.8M682.8 322.6v2.8M696.5 498.4v-2.8M696.5 322.6v2.8M710.2 498.4v-4.6M710.2 322.6v4.6M723.9 498.4v-2.8M723.9 322.6v2.8M737.5 498.4v-2.8M737.5 322.6v2.8M751.2 498.4v-2.8M751.2 322.6v2.8M764.9 498.4v-4.6M764.9 322.6v4.6M485.5 494.5h2.8M769.7 494.5h-2.8M485.5 489.5h4.6M769.7 489.5h-4.6M485.5 484.5h2.8M769.7 484.5h-2.8M485.5 479.4h2.8M769.7 479.4h-2.8M485.5 474.4h2.8M769.7 474.4h-2.8M485.5 469.3h2.8M769.7 469.3h-2.8M485.5 464.3h4.6M769.7 464.3h-4.6M485.5 459.3h2.8M769.7 459.3h-2.8M485.5 454.2h2.8M769.7 454.2h-2.8M485.5 449.2h2.8M769.7 449.2h-2.8M485.5 444.1h2.8M769.7 444.1h-2.8M485.5 439.1h4.6M769.7 439.1h-4.6M485.5 434.1h2.8M769.7 434.1h-2.8M485.5 429.0h2.8M769.7 429.0h-2.8M485.5 424.0h2.8M769.7 424.0h-2.8M485.5 418.9h2.8M769.7 418.9h-2.8M485.5 413.9h4.6M769.7 413.9h-4.6M485.5 408.9h2.8M769.7 408.9h-2.8M485.5 403.8h2.8M769.7 403.8h-2.8M485.5 398.8h2.8M769.7 398.8h-2.8M485.5 393.7h2.8M769.7 393.7h-2.8M485.5 388.7h4.6M769.7 388.7h-4.6M485.5 383.7h2.8M769.7 383.7h-2.8M485.5 378.6h2.8M769.7 378.6h-2.8M485.5 373.6h2.8M769.7 373.6h-2.8M485.5 368.5h2.8M769.7 368.5h-2.8M485.5 363.5h4.6M769.7 363.5h-4.6M485.5 358.5h2.8M769.7 358.5h-2.8M485.5 353.4h2.8M769.7 353.4h-2.8M485.5 348.4h2.8M769.7 348.4h-2.8M485.5 343.3h2.8M769.7 343.3h-2.8M485.5 338.3h4.6M769.7 338.3h-4.6M485.5 333.3h2.8M769.7 333.3h-2.8M485.5 328.2h2.8M769.7 328.2h-2.8M485.5 323.2h2.8M769.7 323.2h-2.8" stroke="#3b3b3b" stroke-width="1" fill="none"/>
<rect x="485.5" y="322.6" width="284.2" height="175.8" fill="none" stroke="#3b3b3b" stroke-width="1"/>
<text x="491.4" y="517.3" text-anchor="middle">0</text>
<text x="546.1" y="517.3" text-anchor="middle">20</text>
<text x="600.8" y="517.3" text-anchor="middle">40</text>
<text x="655.5" y="517.3" text-anchor="middle">60</text>
<text x="710.2" y="517.3" text-anchor="middle">80</text>
<text x="763.9" y="517.3" text-anchor="middle">100</text>
<text x="480.3" y="343.3" text-anchor="end">2.0</text>
<text x="480.3" y="368.5" text-anchor="end">1.5</text>
<text x="480.3" y="393.7" text-anchor="end">1.0</text>
<text x="480.3" y="418.9" text-anchor="end">0.5</text>
<text x="480.3" y="444.1" text-anchor="end">0.0</text>
<text x="480.3" y="469.3" text-anchor="end">−0.5</text>
<text x="480.3" y="494.5" text-anchor="end">−1.0</text>
<text x="628.3" y="545" text-anchor="middle" font-style="italic">t</text>
</g>
<!-- labels -->
<g font-family="'Liberation Serif', 'Times New Roman', serif" font-weight="bold" font-size="15.7" fill="#111" text-anchor="middle">
<text x="204.2" y="579.8">(a)</text>
<text x="613.8" y="312.8">(b)</text>
<text x="613.7" y="576.7">(c)</text>
</g>
</svg>
</body>
</html>
